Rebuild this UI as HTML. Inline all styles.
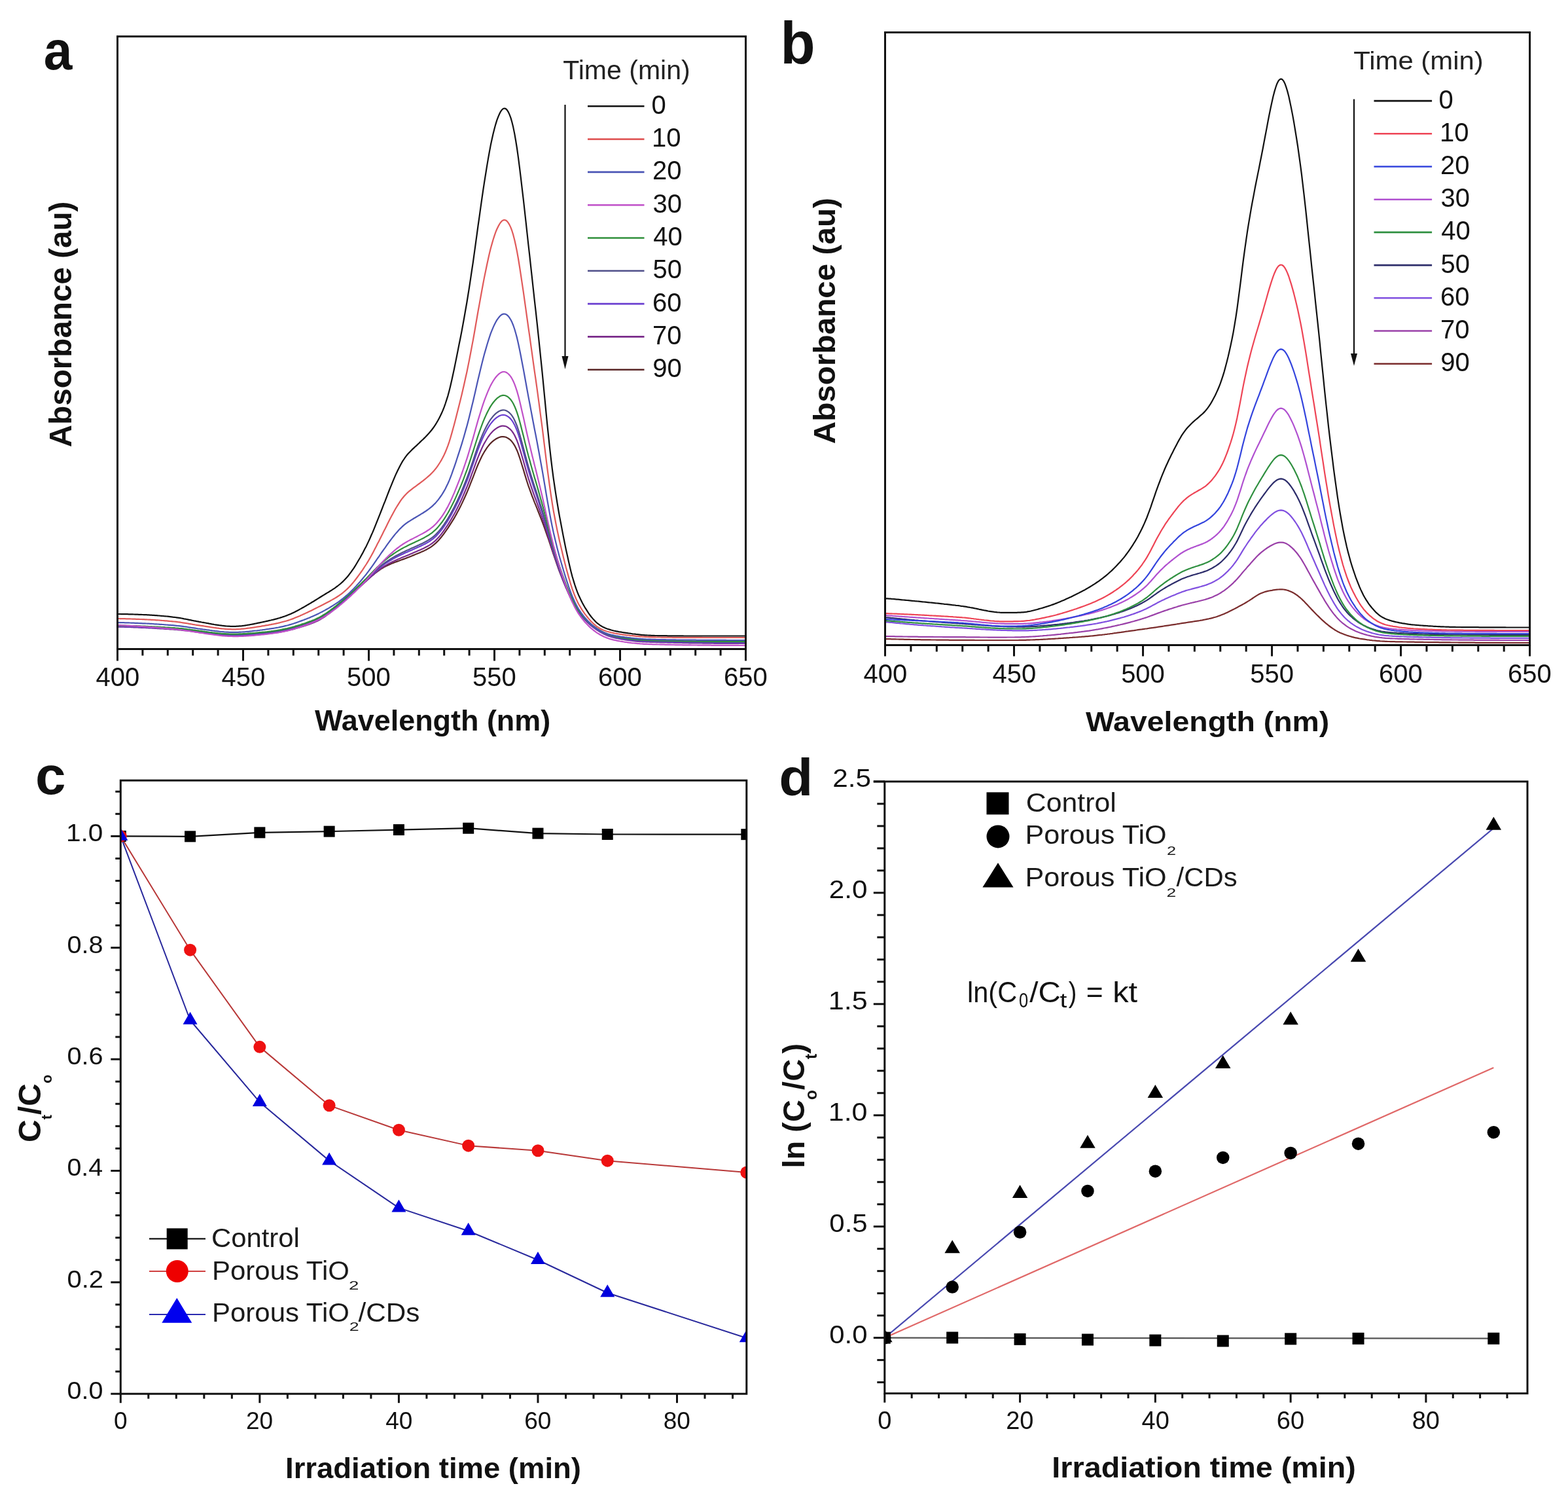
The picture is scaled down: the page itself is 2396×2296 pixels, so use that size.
<!DOCTYPE html>
<html><head><meta charset="utf-8"><title>Figure</title>
<style>html,body{margin:0;padding:0;background:#fff;overflow:hidden}svg{display:block}</style>
</head><body>
<svg width="2396" height="2296" viewBox="0 0 2396 2296" font-family="Liberation Sans, Arial, sans-serif">
<rect width="2396" height="2296" fill="#fff"/>
<defs>
<clipPath id="ca"><rect x="179.5" y="55.7" width="960" height="935.8"/></clipPath>
<clipPath id="cb"><rect x="1352.5" y="49.5" width="985.1" height="936"/></clipPath>
<clipPath id="cc"><rect x="184.3" y="1192.2" width="956.5" height="937"/></clipPath>
<clipPath id="cd"><rect x="1351.8" y="1193.9" width="982.2" height="934.7"/></clipPath>
</defs>
<g clip-path="url(#ca)">
<path d="M179.5,956.5 L181.4,956.6 L183.3,956.6 L185.3,956.6 L187.2,956.7 L189.1,956.7 L191.0,956.8 L192.9,956.8 L194.9,956.9 L196.8,956.9 L198.7,957.0 L200.6,957.0 L202.5,957.1 L204.5,957.2 L206.4,957.3 L208.3,957.3 L210.2,957.4 L212.1,957.5 L214.1,957.6 L216.0,957.6 L217.9,957.7 L219.8,957.8 L221.7,957.9 L223.7,958.0 L225.6,958.1 L227.5,958.2 L229.4,958.3 L231.3,958.4 L233.3,958.5 L235.2,958.6 L237.1,958.7 L239.0,958.8 L240.9,958.9 L242.9,959.0 L244.8,959.1 L246.7,959.2 L248.6,959.3 L250.5,959.4 L252.5,959.5 L254.4,959.7 L256.3,959.8 L258.2,959.9 L260.1,960.0 L262.1,960.1 L264.0,960.3 L265.9,960.4 L267.8,960.5 L269.7,960.7 L271.7,960.8 L273.6,961.0 L275.5,961.1 L277.4,961.3 L279.3,961.5 L281.3,961.7 L283.2,961.9 L285.1,962.1 L287.0,962.3 L288.9,962.6 L290.9,962.8 L292.8,963.1 L294.7,963.3 L296.6,963.6 L298.5,963.8 L300.5,964.1 L302.4,964.3 L304.3,964.6 L306.2,964.9 L308.1,965.1 L310.1,965.4 L312.0,965.7 L313.9,965.9 L315.8,966.2 L317.7,966.4 L319.7,966.7 L321.6,966.9 L323.5,967.2 L325.4,967.4 L327.3,967.6 L329.3,967.8 L331.2,968.0 L333.1,968.2 L335.0,968.4 L336.9,968.6 L338.9,968.7 L340.8,968.8 L342.7,969.0 L344.6,969.1 L346.5,969.2 L348.5,969.3 L350.4,969.3 L352.3,969.4 L354.2,969.4 L356.1,969.4 L358.1,969.4 L360.0,969.4 L361.9,969.4 L363.8,969.4 L365.7,969.3 L367.7,969.3 L369.6,969.2 L371.5,969.1 L373.4,969.1 L375.3,969.0 L377.3,968.9 L379.2,968.8 L381.1,968.7 L383.0,968.5 L384.9,968.4 L386.9,968.3 L388.8,968.2 L390.7,968.0 L392.6,967.9 L394.5,967.7 L396.5,967.6 L398.4,967.4 L400.3,967.3 L402.2,967.1 L404.1,967.0 L406.1,966.8 L408.0,966.6 L409.9,966.4 L411.8,966.2 L413.7,966.0 L415.7,965.8 L417.6,965.6 L419.5,965.3 L421.4,965.1 L423.3,964.8 L425.3,964.5 L427.2,964.2 L429.1,963.9 L431.0,963.5 L432.9,963.2 L434.9,962.8 L436.8,962.4 L438.7,962.0 L440.6,961.6 L442.5,961.1 L444.5,960.7 L446.4,960.2 L448.3,959.7 L450.2,959.2 L452.1,958.7 L454.1,958.2 L456.0,957.7 L457.9,957.1 L459.8,956.6 L461.7,956.0 L463.7,955.4 L465.6,954.8 L467.5,954.2 L469.4,953.6 L471.3,952.9 L473.3,952.3 L475.2,951.6 L477.1,950.9 L479.0,950.1 L480.9,949.4 L482.9,948.5 L484.8,947.6 L486.7,946.7 L488.6,945.7 L490.5,944.6 L492.5,943.4 L494.4,942.2 L496.3,940.9 L498.2,939.6 L500.1,938.2 L502.1,936.7 L504.0,935.2 L505.9,933.7 L507.8,932.1 L509.7,930.5 L511.7,928.9 L513.6,927.2 L515.5,925.6 L517.4,923.9 L519.3,922.2 L521.3,920.4 L523.2,918.7 L525.1,917.0 L527.0,915.3 L528.9,913.6 L530.9,911.8 L532.8,910.2 L534.7,908.5 L536.6,906.8 L538.5,905.2 L540.5,903.6 L542.4,902.0 L544.3,900.4 L546.2,898.7 L548.1,897.1 L550.1,895.5 L552.0,893.8 L553.9,892.2 L555.8,890.5 L557.7,888.8 L559.7,887.1 L561.6,885.4 L563.5,883.8 L565.4,882.1 L567.3,880.5 L569.3,878.8 L571.2,877.3 L573.1,875.7 L575.0,874.3 L576.9,872.8 L578.9,871.5 L580.8,870.2 L582.7,868.9 L584.6,867.8 L586.5,866.6 L588.5,865.6 L590.4,864.6 L592.3,863.7 L594.2,862.8 L596.1,861.9 L598.1,861.1 L600.0,860.3 L601.9,859.6 L603.8,858.8 L605.7,858.1 L607.7,857.4 L609.6,856.7 L611.5,856.0 L613.4,855.3 L615.3,854.6 L617.3,853.9 L619.2,853.2 L621.1,852.4 L623.0,851.7 L624.9,851.0 L626.9,850.2 L628.8,849.4 L630.7,848.6 L632.6,847.9 L634.5,847.1 L636.5,846.3 L638.4,845.5 L640.3,844.7 L642.2,843.9 L644.1,843.1 L646.1,842.2 L648.0,841.4 L649.9,840.4 L651.8,839.5 L653.7,838.4 L655.7,837.3 L657.6,836.1 L659.5,834.8 L661.4,833.4 L663.3,831.9 L665.3,830.2 L667.2,828.4 L669.1,826.5 L671.0,824.4 L672.9,822.2 L674.9,819.8 L676.8,817.4 L678.7,814.8 L680.6,812.1 L682.5,809.4 L684.5,806.6 L686.4,803.7 L688.3,800.7 L690.2,797.7 L692.1,794.6 L694.1,791.4 L696.0,788.0 L697.9,784.6 L699.8,781.0 L701.7,777.4 L703.7,773.6 L705.6,769.6 L707.5,765.6 L709.4,761.5 L711.3,757.2 L713.3,752.8 L715.2,748.2 L717.1,743.6 L719.0,738.7 L720.9,733.8 L722.9,728.8 L724.8,723.8 L726.7,718.9 L728.6,714.1 L730.5,709.5 L732.5,705.1 L734.4,701.0 L736.3,697.1 L738.2,693.5 L740.1,690.2 L742.1,687.1 L744.0,684.2 L745.9,681.6 L747.8,679.2 L749.7,677.1 L751.7,675.2 L753.6,673.6 L755.5,672.1 L757.4,670.8 L759.3,669.7 L761.3,668.7 L763.2,668.0 L765.1,667.4 L767.0,667.1 L768.9,667.1 L770.9,667.3 L772.8,667.8 L774.7,668.6 L776.6,669.7 L778.5,671.0 L780.5,672.7 L782.4,674.8 L784.3,677.3 L786.2,680.3 L788.1,684.0 L790.1,688.2 L792.0,693.1 L793.9,698.6 L795.8,704.5 L797.7,710.8 L799.7,717.2 L801.6,723.6 L803.5,729.9 L805.4,736.0 L807.3,741.8 L809.3,747.3 L811.2,752.6 L813.1,757.8 L815.0,762.7 L816.9,767.6 L818.9,772.4 L820.8,777.2 L822.7,782.0 L824.6,786.8 L826.5,791.7 L828.5,796.8 L830.4,801.9 L832.3,807.2 L834.2,812.6 L836.1,818.1 L838.1,823.7 L840.0,829.4 L841.9,835.2 L843.8,841.0 L845.7,846.7 L847.7,852.4 L849.6,858.0 L851.5,863.5 L853.4,868.8 L855.3,873.9 L857.3,878.9 L859.2,883.8 L861.1,888.5 L863.0,893.1 L864.9,897.6 L866.9,902.0 L868.8,906.2 L870.7,910.3 L872.6,914.2 L874.5,918.0 L876.5,921.5 L878.4,924.8 L880.3,927.9 L882.2,930.9 L884.1,933.6 L886.1,936.1 L888.0,938.6 L889.9,940.8 L891.8,943.0 L893.7,945.0 L895.7,947.0 L897.6,948.8 L899.5,950.6 L901.4,952.2 L903.3,953.8 L905.3,955.3 L907.2,956.8 L909.1,958.2 L911.0,959.5 L912.9,960.8 L914.9,962.0 L916.8,963.1 L918.7,964.3 L920.6,965.3 L922.5,966.3 L924.5,967.2 L926.4,968.1 L928.3,968.9 L930.2,969.6 L932.1,970.2 L934.1,970.8 L936.0,971.4 L937.9,971.8 L939.8,972.3 L941.7,972.7 L943.7,973.1 L945.6,973.5 L947.5,973.9 L949.4,974.3 L951.3,974.6 L953.3,975.0 L955.2,975.3 L957.1,975.6 L959.0,975.9 L960.9,976.2 L962.9,976.4 L964.8,976.7 L966.7,976.9 L968.6,977.2 L970.5,977.4 L972.5,977.5 L974.4,977.7 L976.3,977.9 L978.2,978.0 L980.1,978.1 L982.1,978.3 L984.0,978.4 L985.9,978.5 L987.8,978.5 L989.7,978.6 L991.7,978.7 L993.6,978.7 L995.5,978.8 L997.4,978.9 L999.3,978.9 L1001.3,979.0 L1003.2,979.0 L1005.1,979.1 L1007.0,979.1 L1008.9,979.2 L1010.9,979.3 L1012.8,979.3 L1014.7,979.4 L1016.6,979.4 L1018.5,979.5 L1020.5,979.5 L1022.4,979.6 L1024.3,979.6 L1026.2,979.7 L1028.1,979.7 L1030.1,979.7 L1032.0,979.8 L1033.9,979.8 L1035.8,979.9 L1037.7,979.9 L1039.7,980.0 L1041.6,980.0 L1043.5,980.0 L1045.4,980.1 L1047.3,980.1 L1049.3,980.2 L1051.2,980.2 L1053.1,980.2 L1055.0,980.3 L1056.9,980.3 L1058.9,980.3 L1060.8,980.4 L1062.7,980.4 L1064.6,980.4 L1066.5,980.5 L1068.5,980.5 L1070.4,980.5 L1072.3,980.5 L1074.2,980.6 L1076.1,980.6 L1078.1,980.6 L1080.0,980.6 L1081.9,980.7 L1083.8,980.7 L1085.7,980.7 L1087.7,980.7 L1089.6,980.7 L1091.5,980.8 L1093.4,980.8 L1095.3,980.8 L1097.3,980.8 L1099.2,980.8 L1101.1,980.8 L1103.0,980.9 L1104.9,980.9 L1106.9,980.9 L1108.8,980.9 L1110.7,980.9 L1112.6,980.9 L1114.5,980.9 L1116.5,980.9 L1118.4,981.0 L1120.3,981.0 L1122.2,981.0 L1124.1,981.0 L1126.1,981.0 L1128.0,981.0 L1129.9,981.0 L1131.8,981.0 L1133.7,981.0 L1135.7,981.0 L1137.6,981.0 L1139.5,981.0" fill="none" stroke="#5a2626" stroke-width="2.2" stroke-linejoin="round"/>
<path d="M179.5,957.5 L181.4,957.6 L183.3,957.6 L185.3,957.6 L187.2,957.7 L189.1,957.7 L191.0,957.8 L192.9,957.9 L194.9,957.9 L196.8,958.0 L198.7,958.0 L200.6,958.1 L202.5,958.2 L204.5,958.3 L206.4,958.3 L208.3,958.4 L210.2,958.5 L212.1,958.6 L214.1,958.7 L216.0,958.8 L217.9,958.8 L219.8,958.9 L221.7,959.0 L223.7,959.1 L225.6,959.2 L227.5,959.3 L229.4,959.4 L231.3,959.5 L233.3,959.6 L235.2,959.7 L237.1,959.8 L239.0,960.0 L240.9,960.1 L242.9,960.2 L244.8,960.3 L246.7,960.4 L248.6,960.5 L250.5,960.7 L252.5,960.8 L254.4,960.9 L256.3,961.0 L258.2,961.1 L260.1,961.3 L262.1,961.4 L264.0,961.5 L265.9,961.7 L267.8,961.8 L269.7,962.0 L271.7,962.1 L273.6,962.3 L275.5,962.5 L277.4,962.6 L279.3,962.8 L281.3,963.1 L283.2,963.3 L285.1,963.5 L287.0,963.7 L288.9,964.0 L290.9,964.2 L292.8,964.5 L294.7,964.7 L296.6,965.0 L298.5,965.3 L300.5,965.5 L302.4,965.8 L304.3,966.1 L306.2,966.3 L308.1,966.6 L310.1,966.9 L312.0,967.2 L313.9,967.4 L315.8,967.7 L317.7,967.9 L319.7,968.2 L321.6,968.4 L323.5,968.7 L325.4,968.9 L327.3,969.1 L329.3,969.4 L331.2,969.6 L333.1,969.8 L335.0,970.0 L336.9,970.1 L338.9,970.3 L340.8,970.4 L342.7,970.6 L344.6,970.7 L346.5,970.8 L348.5,970.9 L350.4,970.9 L352.3,971.0 L354.2,971.0 L356.1,971.1 L358.1,971.1 L360.0,971.0 L361.9,971.0 L363.8,971.0 L365.7,970.9 L367.7,970.9 L369.6,970.8 L371.5,970.8 L373.4,970.7 L375.3,970.6 L377.3,970.5 L379.2,970.4 L381.1,970.3 L383.0,970.1 L384.9,970.0 L386.9,969.9 L388.8,969.7 L390.7,969.6 L392.6,969.4 L394.5,969.3 L396.5,969.1 L398.4,969.0 L400.3,968.8 L402.2,968.6 L404.1,968.5 L406.1,968.3 L408.0,968.1 L409.9,967.9 L411.8,967.7 L413.7,967.5 L415.7,967.3 L417.6,967.0 L419.5,966.8 L421.4,966.5 L423.3,966.2 L425.3,965.9 L427.2,965.6 L429.1,965.3 L431.0,964.9 L432.9,964.6 L434.9,964.2 L436.8,963.8 L438.7,963.4 L440.6,962.9 L442.5,962.5 L444.5,962.0 L446.4,961.6 L448.3,961.1 L450.2,960.6 L452.1,960.0 L454.1,959.5 L456.0,958.9 L457.9,958.4 L459.8,957.8 L461.7,957.2 L463.7,956.6 L465.6,956.0 L467.5,955.4 L469.4,954.7 L471.3,954.1 L473.3,953.4 L475.2,952.7 L477.1,952.0 L479.0,951.2 L480.9,950.4 L482.9,949.6 L484.8,948.7 L486.7,947.7 L488.6,946.7 L490.5,945.6 L492.5,944.4 L494.4,943.2 L496.3,942.0 L498.2,940.6 L500.1,939.2 L502.1,937.8 L504.0,936.3 L505.9,934.8 L507.8,933.3 L509.7,931.7 L511.7,930.1 L513.6,928.4 L515.5,926.8 L517.4,925.1 L519.3,923.4 L521.3,921.7 L523.2,920.0 L525.1,918.3 L527.0,916.5 L528.9,914.8 L530.9,913.1 L532.8,911.4 L534.7,909.7 L536.6,908.0 L538.5,906.3 L540.5,904.7 L542.4,903.0 L544.3,901.3 L546.2,899.7 L548.1,898.0 L550.1,896.3 L552.0,894.6 L553.9,892.9 L555.8,891.1 L557.7,889.4 L559.7,887.6 L561.6,885.8 L563.5,884.1 L565.4,882.3 L567.3,880.6 L569.3,878.8 L571.2,877.2 L573.1,875.5 L575.0,873.9 L576.9,872.3 L578.9,870.8 L580.8,869.4 L582.7,868.0 L584.6,866.7 L586.5,865.5 L588.5,864.3 L590.4,863.1 L592.3,862.0 L594.2,861.0 L596.1,860.0 L598.1,859.0 L600.0,858.1 L601.9,857.2 L603.8,856.3 L605.7,855.4 L607.7,854.6 L609.6,853.8 L611.5,852.9 L613.4,852.1 L615.3,851.3 L617.3,850.5 L619.2,849.8 L621.1,849.0 L623.0,848.2 L624.9,847.4 L626.9,846.6 L628.8,845.7 L630.7,844.9 L632.6,844.1 L634.5,843.3 L636.5,842.5 L638.4,841.6 L640.3,840.8 L642.2,840.0 L644.1,839.1 L646.1,838.2 L648.0,837.3 L649.9,836.3 L651.8,835.3 L653.7,834.3 L655.7,833.1 L657.6,831.9 L659.5,830.6 L661.4,829.1 L663.3,827.6 L665.3,825.9 L667.2,824.0 L669.1,822.0 L671.0,819.9 L672.9,817.6 L674.9,815.2 L676.8,812.6 L678.7,810.0 L680.6,807.2 L682.5,804.4 L684.5,801.4 L686.4,798.4 L688.3,795.2 L690.2,792.0 L692.1,788.7 L694.1,785.2 L696.0,781.7 L697.9,778.0 L699.8,774.3 L701.7,770.4 L703.7,766.3 L705.6,762.2 L707.5,757.9 L709.4,753.5 L711.3,749.0 L713.3,744.3 L715.2,739.5 L717.1,734.6 L719.0,729.5 L720.9,724.2 L722.9,718.9 L724.8,713.6 L726.7,708.4 L728.6,703.2 L730.5,698.3 L732.5,693.5 L734.4,689.0 L736.3,684.8 L738.2,680.8 L740.1,677.1 L742.1,673.7 L744.0,670.5 L745.9,667.5 L747.8,664.9 L749.7,662.4 L751.7,660.3 L753.6,658.3 L755.5,656.6 L757.4,655.1 L759.3,653.8 L761.3,652.7 L763.2,651.8 L765.1,651.1 L767.0,650.7 L768.9,650.6 L770.9,650.8 L772.8,651.3 L774.7,652.1 L776.6,653.3 L778.5,654.8 L780.5,656.6 L782.4,658.8 L784.3,661.5 L786.2,664.8 L788.1,668.7 L790.1,673.3 L792.0,678.5 L793.9,684.3 L795.8,690.6 L797.7,697.2 L799.7,704.0 L801.6,710.8 L803.5,717.5 L805.4,724.0 L807.3,730.3 L809.3,736.3 L811.2,742.1 L813.1,747.7 L815.0,753.1 L816.9,758.4 L818.9,763.7 L820.8,769.0 L822.7,774.3 L824.6,779.7 L826.5,785.1 L828.5,790.6 L830.4,796.3 L832.3,802.2 L834.2,808.1 L836.1,814.2 L838.1,820.3 L840.0,826.5 L841.9,832.7 L843.8,838.8 L845.7,844.9 L847.7,850.9 L849.6,856.7 L851.5,862.4 L853.4,867.9 L855.3,873.3 L857.3,878.5 L859.2,883.5 L861.1,888.4 L863.0,893.2 L864.9,897.9 L866.9,902.4 L868.8,906.8 L870.7,911.1 L872.6,915.2 L874.5,919.0 L876.5,922.7 L878.4,926.1 L880.3,929.3 L882.2,932.3 L884.1,935.1 L886.1,937.7 L888.0,940.2 L889.9,942.5 L891.8,944.7 L893.7,946.8 L895.7,948.8 L897.6,950.7 L899.5,952.5 L901.4,954.2 L903.3,955.8 L905.3,957.3 L907.2,958.8 L909.1,960.2 L911.0,961.6 L912.9,962.8 L914.9,964.1 L916.8,965.2 L918.7,966.3 L920.6,967.4 L922.5,968.4 L924.5,969.3 L926.4,970.2 L928.3,970.9 L930.2,971.7 L932.1,972.3 L934.1,972.9 L936.0,973.4 L937.9,973.9 L939.8,974.4 L941.7,974.8 L943.7,975.2 L945.6,975.6 L947.5,976.0 L949.4,976.3 L951.3,976.7 L953.3,977.0 L955.2,977.3 L957.1,977.6 L959.0,977.9 L960.9,978.2 L962.9,978.5 L964.8,978.7 L966.7,979.0 L968.6,979.2 L970.5,979.4 L972.5,979.6 L974.4,979.8 L976.3,979.9 L978.2,980.1 L980.1,980.2 L982.1,980.3 L984.0,980.4 L985.9,980.5 L987.8,980.6 L989.7,980.7 L991.7,980.7 L993.6,980.8 L995.5,980.9 L997.4,980.9 L999.3,981.0 L1001.3,981.0 L1003.2,981.1 L1005.1,981.1 L1007.0,981.2 L1008.9,981.3 L1010.9,981.3 L1012.8,981.4 L1014.7,981.4 L1016.6,981.5 L1018.5,981.5 L1020.5,981.6 L1022.4,981.6 L1024.3,981.7 L1026.2,981.7 L1028.1,981.7 L1030.1,981.8 L1032.0,981.8 L1033.9,981.9 L1035.8,981.9 L1037.7,982.0 L1039.7,982.0 L1041.6,982.0 L1043.5,982.1 L1045.4,982.1 L1047.3,982.1 L1049.3,982.2 L1051.2,982.2 L1053.1,982.3 L1055.0,982.3 L1056.9,982.3 L1058.9,982.3 L1060.8,982.4 L1062.7,982.4 L1064.6,982.4 L1066.5,982.5 L1068.5,982.5 L1070.4,982.5 L1072.3,982.5 L1074.2,982.6 L1076.1,982.6 L1078.1,982.6 L1080.0,982.6 L1081.9,982.7 L1083.8,982.7 L1085.7,982.7 L1087.7,982.7 L1089.6,982.7 L1091.5,982.8 L1093.4,982.8 L1095.3,982.8 L1097.3,982.8 L1099.2,982.8 L1101.1,982.8 L1103.0,982.9 L1104.9,982.9 L1106.9,982.9 L1108.8,982.9 L1110.7,982.9 L1112.6,982.9 L1114.5,982.9 L1116.5,982.9 L1118.4,982.9 L1120.3,983.0 L1122.2,983.0 L1124.1,983.0 L1126.1,983.0 L1128.0,983.0 L1129.9,983.0 L1131.8,983.0 L1133.7,983.0 L1135.7,983.0 L1137.6,983.0 L1139.5,983.0" fill="none" stroke="#7a2a8a" stroke-width="2.2" stroke-linejoin="round"/>
<path d="M179.5,957.0 L181.4,957.1 L183.3,957.1 L185.3,957.1 L187.2,957.2 L189.1,957.2 L191.0,957.3 L192.9,957.3 L194.9,957.4 L196.8,957.4 L198.7,957.5 L200.6,957.5 L202.5,957.6 L204.5,957.7 L206.4,957.7 L208.3,957.8 L210.2,957.9 L212.1,958.0 L214.1,958.1 L216.0,958.1 L217.9,958.2 L219.8,958.3 L221.7,958.4 L223.7,958.5 L225.6,958.6 L227.5,958.7 L229.4,958.8 L231.3,958.9 L233.3,959.0 L235.2,959.1 L237.1,959.2 L239.0,959.3 L240.9,959.4 L242.9,959.5 L244.8,959.6 L246.7,959.7 L248.6,959.8 L250.5,960.0 L252.5,960.1 L254.4,960.2 L256.3,960.3 L258.2,960.4 L260.1,960.6 L262.1,960.7 L264.0,960.8 L265.9,961.0 L267.8,961.1 L269.7,961.2 L271.7,961.4 L273.6,961.6 L275.5,961.7 L277.4,961.9 L279.3,962.1 L281.3,962.3 L283.2,962.6 L285.1,962.8 L287.0,963.0 L288.9,963.3 L290.9,963.5 L292.8,963.8 L294.7,964.0 L296.6,964.3 L298.5,964.6 L300.5,964.8 L302.4,965.1 L304.3,965.4 L306.2,965.6 L308.1,965.9 L310.1,966.2 L312.0,966.4 L313.9,966.7 L315.8,967.0 L317.7,967.2 L319.7,967.5 L321.6,967.7 L323.5,967.9 L325.4,968.2 L327.3,968.4 L329.3,968.6 L331.2,968.8 L333.1,969.0 L335.0,969.2 L336.9,969.4 L338.9,969.5 L340.8,969.7 L342.7,969.8 L344.6,969.9 L346.5,970.0 L348.5,970.1 L350.4,970.2 L352.3,970.2 L354.2,970.3 L356.1,970.3 L358.1,970.3 L360.0,970.3 L361.9,970.3 L363.8,970.2 L365.7,970.2 L367.7,970.1 L369.6,970.0 L371.5,970.0 L373.4,969.9 L375.3,969.8 L377.3,969.7 L379.2,969.5 L381.1,969.4 L383.0,969.3 L384.9,969.2 L386.9,969.0 L388.8,968.9 L390.7,968.7 L392.6,968.5 L394.5,968.4 L396.5,968.2 L398.4,968.0 L400.3,967.9 L402.2,967.7 L404.1,967.5 L406.1,967.3 L408.0,967.1 L409.9,966.9 L411.8,966.7 L413.7,966.5 L415.7,966.3 L417.6,966.0 L419.5,965.8 L421.4,965.5 L423.3,965.2 L425.3,964.9 L427.2,964.6 L429.1,964.2 L431.0,963.9 L432.9,963.5 L434.9,963.1 L436.8,962.7 L438.7,962.3 L440.6,961.8 L442.5,961.4 L444.5,960.9 L446.4,960.4 L448.3,959.9 L450.2,959.4 L452.1,958.8 L454.1,958.3 L456.0,957.7 L457.9,957.1 L459.8,956.6 L461.7,956.0 L463.7,955.3 L465.6,954.7 L467.5,954.1 L469.4,953.4 L471.3,952.7 L473.3,952.1 L475.2,951.3 L477.1,950.6 L479.0,949.9 L480.9,949.0 L482.9,948.2 L484.8,947.3 L486.7,946.3 L488.6,945.3 L490.5,944.2 L492.5,943.1 L494.4,941.9 L496.3,940.7 L498.2,939.4 L500.1,938.0 L502.1,936.6 L504.0,935.2 L505.9,933.7 L507.8,932.2 L509.7,930.6 L511.7,929.0 L513.6,927.4 L515.5,925.8 L517.4,924.2 L519.3,922.5 L521.3,920.8 L523.2,919.1 L525.1,917.4 L527.0,915.7 L528.9,914.0 L530.9,912.3 L532.8,910.5 L534.7,908.8 L536.6,907.1 L538.5,905.4 L540.5,903.7 L542.4,902.1 L544.3,900.4 L546.2,898.6 L548.1,896.9 L550.1,895.2 L552.0,893.4 L553.9,891.6 L555.8,889.8 L557.7,888.0 L559.7,886.2 L561.6,884.4 L563.5,882.5 L565.4,880.7 L567.3,878.8 L569.3,877.0 L571.2,875.2 L573.1,873.5 L575.0,871.8 L576.9,870.1 L578.9,868.5 L580.8,866.9 L582.7,865.4 L584.6,863.9 L586.5,862.5 L588.5,861.2 L590.4,859.9 L592.3,858.7 L594.2,857.5 L596.1,856.3 L598.1,855.2 L600.0,854.1 L601.9,853.1 L603.8,852.0 L605.7,851.0 L607.7,850.1 L609.6,849.1 L611.5,848.2 L613.4,847.3 L615.3,846.4 L617.3,845.5 L619.2,844.6 L621.1,843.8 L623.0,842.9 L624.9,842.1 L626.9,841.2 L628.8,840.4 L630.7,839.5 L632.6,838.7 L634.5,837.8 L636.5,837.0 L638.4,836.1 L640.3,835.3 L642.2,834.4 L644.1,833.5 L646.1,832.6 L648.0,831.6 L649.9,830.7 L651.8,829.6 L653.7,828.5 L655.7,827.4 L657.6,826.1 L659.5,824.7 L661.4,823.3 L663.3,821.7 L665.3,819.9 L667.2,818.1 L669.1,816.0 L671.0,813.9 L672.9,811.6 L674.9,809.1 L676.8,806.5 L678.7,803.8 L680.6,801.0 L682.5,798.1 L684.5,795.0 L686.4,791.8 L688.3,788.5 L690.2,785.1 L692.1,781.6 L694.1,778.0 L696.0,774.2 L697.9,770.3 L699.8,766.4 L701.7,762.3 L703.7,758.1 L705.6,753.7 L707.5,749.3 L709.4,744.7 L711.3,739.9 L713.3,735.0 L715.2,730.0 L717.1,724.8 L719.0,719.4 L720.9,714.0 L722.9,708.4 L724.8,702.8 L726.7,697.2 L728.6,691.8 L730.5,686.5 L732.5,681.4 L734.4,676.6 L736.3,672.0 L738.2,667.7 L740.1,663.7 L742.1,659.9 L744.0,656.4 L745.9,653.1 L747.8,650.1 L749.7,647.4 L751.7,645.0 L753.6,642.8 L755.5,640.8 L757.4,639.1 L759.3,637.6 L761.3,636.3 L763.2,635.3 L765.1,634.5 L767.0,634.0 L768.9,633.8 L770.9,634.0 L772.8,634.5 L774.7,635.4 L776.6,636.6 L778.5,638.1 L780.5,640.1 L782.4,642.5 L784.3,645.4 L786.2,648.9 L788.1,653.0 L790.1,657.8 L792.0,663.3 L793.9,669.5 L795.8,676.1 L797.7,683.0 L799.7,690.2 L801.6,697.3 L803.5,704.4 L805.4,711.3 L807.3,717.9 L809.3,724.3 L811.2,730.5 L813.1,736.5 L815.0,742.4 L816.9,748.2 L818.9,753.9 L820.8,759.7 L822.7,765.4 L824.6,771.3 L826.5,777.2 L828.5,783.2 L830.4,789.4 L832.3,795.8 L834.2,802.3 L836.1,808.8 L838.1,815.4 L840.0,822.0 L841.9,828.6 L843.8,835.1 L845.7,841.4 L847.7,847.6 L849.6,853.7 L851.5,859.5 L853.4,865.2 L855.3,870.7 L857.3,876.1 L859.2,881.3 L861.1,886.3 L863.0,891.3 L864.9,896.1 L866.9,900.8 L868.8,905.3 L870.7,909.6 L872.6,913.8 L874.5,917.8 L876.5,921.5 L878.4,925.0 L880.3,928.3 L882.2,931.3 L884.1,934.2 L886.1,936.8 L888.0,939.3 L889.9,941.7 L891.8,943.9 L893.7,946.0 L895.7,948.0 L897.6,949.9 L899.5,951.7 L901.4,953.5 L903.3,955.1 L905.3,956.7 L907.2,958.1 L909.1,959.5 L911.0,960.9 L912.9,962.2 L914.9,963.4 L916.8,964.5 L918.7,965.7 L920.6,966.7 L922.5,967.7 L924.5,968.6 L926.4,969.4 L928.3,970.2 L930.2,970.9 L932.1,971.5 L934.1,972.1 L936.0,972.6 L937.9,973.1 L939.8,973.5 L941.7,974.0 L943.7,974.4 L945.6,974.7 L947.5,975.1 L949.4,975.5 L951.3,975.8 L953.3,976.1 L955.2,976.5 L957.1,976.8 L959.0,977.0 L960.9,977.3 L962.9,977.6 L964.8,977.8 L966.7,978.1 L968.6,978.3 L970.5,978.5 L972.5,978.7 L974.4,978.9 L976.3,979.0 L978.2,979.2 L980.1,979.3 L982.1,979.4 L984.0,979.5 L985.9,979.6 L987.8,979.7 L989.7,979.8 L991.7,979.8 L993.6,979.9 L995.5,980.0 L997.4,980.0 L999.3,980.1 L1001.3,980.1 L1003.2,980.2 L1005.1,980.2 L1007.0,980.3 L1008.9,980.3 L1010.9,980.4 L1012.8,980.4 L1014.7,980.5 L1016.6,980.5 L1018.5,980.6 L1020.5,980.6 L1022.4,980.7 L1024.3,980.7 L1026.2,980.8 L1028.1,980.8 L1030.1,980.9 L1032.0,980.9 L1033.9,980.9 L1035.8,981.0 L1037.7,981.0 L1039.7,981.1 L1041.6,981.1 L1043.5,981.1 L1045.4,981.2 L1047.3,981.2 L1049.3,981.2 L1051.2,981.3 L1053.1,981.3 L1055.0,981.3 L1056.9,981.4 L1058.9,981.4 L1060.8,981.4 L1062.7,981.4 L1064.6,981.5 L1066.5,981.5 L1068.5,981.5 L1070.4,981.6 L1072.3,981.6 L1074.2,981.6 L1076.1,981.6 L1078.1,981.6 L1080.0,981.7 L1081.9,981.7 L1083.8,981.7 L1085.7,981.7 L1087.7,981.7 L1089.6,981.8 L1091.5,981.8 L1093.4,981.8 L1095.3,981.8 L1097.3,981.8 L1099.2,981.8 L1101.1,981.9 L1103.0,981.9 L1104.9,981.9 L1106.9,981.9 L1108.8,981.9 L1110.7,981.9 L1112.6,981.9 L1114.5,981.9 L1116.5,981.9 L1118.4,982.0 L1120.3,982.0 L1122.2,982.0 L1124.1,982.0 L1126.1,982.0 L1128.0,982.0 L1129.9,982.0 L1131.8,982.0 L1133.7,982.0 L1135.7,982.0 L1137.6,982.0 L1139.5,982.0" fill="none" stroke="#6a3ed0" stroke-width="2.2" stroke-linejoin="round"/>
<path d="M179.5,956.0 L181.4,956.1 L183.3,956.1 L185.3,956.1 L187.2,956.2 L189.1,956.2 L191.0,956.3 L192.9,956.3 L194.9,956.4 L196.8,956.4 L198.7,956.5 L200.6,956.5 L202.5,956.6 L204.5,956.7 L206.4,956.7 L208.3,956.8 L210.2,956.9 L212.1,957.0 L214.1,957.0 L216.0,957.1 L217.9,957.2 L219.8,957.3 L221.7,957.4 L223.7,957.5 L225.6,957.6 L227.5,957.7 L229.4,957.8 L231.3,957.9 L233.3,958.0 L235.2,958.1 L237.1,958.2 L239.0,958.3 L240.9,958.4 L242.9,958.5 L244.8,958.6 L246.7,958.7 L248.6,958.8 L250.5,959.0 L252.5,959.1 L254.4,959.2 L256.3,959.3 L258.2,959.4 L260.1,959.6 L262.1,959.7 L264.0,959.8 L265.9,960.0 L267.8,960.1 L269.7,960.2 L271.7,960.4 L273.6,960.6 L275.5,960.8 L277.4,960.9 L279.3,961.1 L281.3,961.4 L283.2,961.6 L285.1,961.8 L287.0,962.0 L288.9,962.3 L290.9,962.5 L292.8,962.8 L294.7,963.1 L296.6,963.3 L298.5,963.6 L300.5,963.8 L302.4,964.1 L304.3,964.4 L306.2,964.6 L308.1,964.9 L310.1,965.2 L312.0,965.4 L313.9,965.7 L315.8,966.0 L317.7,966.2 L319.7,966.5 L321.6,966.7 L323.5,967.0 L325.4,967.2 L327.3,967.4 L329.3,967.6 L331.2,967.8 L333.1,968.0 L335.0,968.2 L336.9,968.4 L338.9,968.6 L340.8,968.7 L342.7,968.8 L344.6,969.0 L346.5,969.1 L348.5,969.2 L350.4,969.2 L352.3,969.3 L354.2,969.3 L356.1,969.3 L358.1,969.3 L360.0,969.3 L361.9,969.3 L363.8,969.2 L365.7,969.2 L367.7,969.1 L369.6,969.1 L371.5,969.0 L373.4,968.9 L375.3,968.8 L377.3,968.7 L379.2,968.5 L381.1,968.4 L383.0,968.3 L384.9,968.1 L386.9,968.0 L388.8,967.8 L390.7,967.7 L392.6,967.5 L394.5,967.4 L396.5,967.2 L398.4,967.0 L400.3,966.8 L402.2,966.7 L404.1,966.5 L406.1,966.3 L408.0,966.1 L409.9,965.9 L411.8,965.7 L413.7,965.4 L415.7,965.2 L417.6,965.0 L419.5,964.7 L421.4,964.4 L423.3,964.1 L425.3,963.8 L427.2,963.5 L429.1,963.1 L431.0,962.8 L432.9,962.4 L434.9,962.0 L436.8,961.6 L438.7,961.2 L440.6,960.7 L442.5,960.3 L444.5,959.8 L446.4,959.3 L448.3,958.8 L450.2,958.3 L452.1,957.7 L454.1,957.2 L456.0,956.6 L457.9,956.0 L459.8,955.4 L461.7,954.8 L463.7,954.2 L465.6,953.6 L467.5,952.9 L469.4,952.3 L471.3,951.6 L473.3,950.9 L475.2,950.2 L477.1,949.5 L479.0,948.7 L480.9,947.9 L482.9,947.0 L484.8,946.1 L486.7,945.2 L488.6,944.2 L490.5,943.1 L492.5,942.0 L494.4,940.8 L496.3,939.5 L498.2,938.3 L500.1,936.9 L502.1,935.5 L504.0,934.1 L505.9,932.7 L507.8,931.2 L509.7,929.6 L511.7,928.1 L513.6,926.5 L515.5,924.9 L517.4,923.2 L519.3,921.6 L521.3,919.9 L523.2,918.2 L525.1,916.5 L527.0,914.8 L528.9,913.1 L530.9,911.4 L532.8,909.7 L534.7,908.0 L536.6,906.3 L538.5,904.6 L540.5,902.9 L542.4,901.2 L544.3,899.5 L546.2,897.8 L548.1,896.0 L550.1,894.3 L552.0,892.5 L553.9,890.7 L555.8,888.9 L557.7,887.0 L559.7,885.2 L561.6,883.3 L563.5,881.4 L565.4,879.5 L567.3,877.7 L569.3,875.8 L571.2,874.0 L573.1,872.2 L575.0,870.4 L576.9,868.7 L578.9,867.0 L580.8,865.4 L582.7,863.8 L584.6,862.3 L586.5,860.9 L588.5,859.5 L590.4,858.1 L592.3,856.8 L594.2,855.6 L596.1,854.3 L598.1,853.1 L600.0,852.0 L601.9,850.9 L603.8,849.8 L605.7,848.7 L607.7,847.7 L609.6,846.7 L611.5,845.7 L613.4,844.8 L615.3,843.8 L617.3,842.9 L619.2,842.0 L621.1,841.1 L623.0,840.3 L624.9,839.4 L626.9,838.5 L628.8,837.6 L630.7,836.8 L632.6,835.9 L634.5,835.1 L636.5,834.2 L638.4,833.3 L640.3,832.5 L642.2,831.6 L644.1,830.7 L646.1,829.8 L648.0,828.8 L649.9,827.8 L651.8,826.7 L653.7,825.6 L655.7,824.5 L657.6,823.2 L659.5,821.8 L661.4,820.4 L663.3,818.8 L665.3,817.0 L667.2,815.1 L669.1,813.1 L671.0,810.9 L672.9,808.6 L674.9,806.1 L676.8,803.5 L678.7,800.8 L680.6,797.9 L682.5,795.0 L684.5,791.9 L686.4,788.6 L688.3,785.3 L690.2,781.8 L692.1,778.2 L694.1,774.5 L696.0,770.6 L697.9,766.7 L699.8,762.6 L701.7,758.5 L703.7,754.2 L705.6,749.8 L707.5,745.2 L709.4,740.5 L711.3,735.7 L713.3,730.7 L715.2,725.6 L717.1,720.3 L719.0,714.8 L720.9,709.3 L722.9,703.6 L724.8,697.9 L726.7,692.2 L728.6,686.6 L730.5,681.2 L732.5,676.0 L734.4,671.0 L736.3,666.3 L738.2,661.9 L740.1,657.7 L742.1,653.7 L744.0,650.1 L745.9,646.7 L747.8,643.5 L749.7,640.7 L751.7,638.1 L753.6,635.8 L755.5,633.8 L757.4,631.9 L759.3,630.4 L761.3,629.0 L763.2,627.9 L765.1,627.1 L767.0,626.6 L768.9,626.4 L770.9,626.5 L772.8,627.0 L774.7,627.9 L776.6,629.1 L778.5,630.7 L780.5,632.7 L782.4,635.2 L784.3,638.1 L786.2,641.7 L788.1,646.0 L790.1,650.9 L792.0,656.5 L793.9,662.8 L795.8,669.5 L797.7,676.6 L799.7,683.9 L801.6,691.2 L803.5,698.4 L805.4,705.4 L807.3,712.2 L809.3,718.8 L811.2,725.2 L813.1,731.4 L815.0,737.5 L816.9,743.5 L818.9,749.4 L820.8,755.3 L822.7,761.3 L824.6,767.3 L826.5,773.4 L828.5,779.7 L830.4,786.1 L832.3,792.7 L834.2,799.4 L836.1,806.2 L838.1,813.0 L840.0,819.8 L841.9,826.5 L843.8,833.1 L845.7,839.5 L847.7,845.9 L849.6,852.0 L851.5,857.9 L853.4,863.7 L855.3,869.3 L857.3,874.7 L859.2,879.9 L861.1,885.0 L863.0,890.0 L864.9,894.9 L866.9,899.6 L868.8,904.2 L870.7,908.6 L872.6,912.8 L874.5,916.8 L876.5,920.5 L878.4,924.1 L880.3,927.4 L882.2,930.4 L884.1,933.3 L886.1,935.9 L888.0,938.4 L889.9,940.8 L891.8,943.0 L893.7,945.1 L895.7,947.2 L897.6,949.1 L899.5,950.9 L901.4,952.6 L903.3,954.3 L905.3,955.8 L907.2,957.3 L909.1,958.7 L911.0,960.1 L912.9,961.3 L914.9,962.6 L916.8,963.7 L918.7,964.8 L920.6,965.8 L922.5,966.8 L924.5,967.7 L926.4,968.5 L928.3,969.3 L930.2,970.0 L932.1,970.6 L934.1,971.2 L936.0,971.7 L937.9,972.2 L939.8,972.6 L941.7,973.0 L943.7,973.4 L945.6,973.8 L947.5,974.2 L949.4,974.5 L951.3,974.9 L953.3,975.2 L955.2,975.5 L957.1,975.8 L959.0,976.1 L960.9,976.4 L962.9,976.6 L964.8,976.9 L966.7,977.1 L968.6,977.3 L970.5,977.5 L972.5,977.7 L974.4,977.9 L976.3,978.1 L978.2,978.2 L980.1,978.3 L982.1,978.4 L984.0,978.5 L985.9,978.6 L987.8,978.7 L989.7,978.8 L991.7,978.9 L993.6,978.9 L995.5,979.0 L997.4,979.1 L999.3,979.1 L1001.3,979.2 L1003.2,979.2 L1005.1,979.3 L1007.0,979.3 L1008.9,979.4 L1010.9,979.4 L1012.8,979.5 L1014.7,979.5 L1016.6,979.6 L1018.5,979.6 L1020.5,979.7 L1022.4,979.7 L1024.3,979.8 L1026.2,979.8 L1028.1,979.8 L1030.1,979.9 L1032.0,979.9 L1033.9,980.0 L1035.8,980.0 L1037.7,980.0 L1039.7,980.1 L1041.6,980.1 L1043.5,980.2 L1045.4,980.2 L1047.3,980.2 L1049.3,980.3 L1051.2,980.3 L1053.1,980.3 L1055.0,980.3 L1056.9,980.4 L1058.9,980.4 L1060.8,980.4 L1062.7,980.5 L1064.6,980.5 L1066.5,980.5 L1068.5,980.5 L1070.4,980.6 L1072.3,980.6 L1074.2,980.6 L1076.1,980.6 L1078.1,980.7 L1080.0,980.7 L1081.9,980.7 L1083.8,980.7 L1085.7,980.7 L1087.7,980.8 L1089.6,980.8 L1091.5,980.8 L1093.4,980.8 L1095.3,980.8 L1097.3,980.8 L1099.2,980.9 L1101.1,980.9 L1103.0,980.9 L1104.9,980.9 L1106.9,980.9 L1108.8,980.9 L1110.7,980.9 L1112.6,980.9 L1114.5,980.9 L1116.5,980.9 L1118.4,981.0 L1120.3,981.0 L1122.2,981.0 L1124.1,981.0 L1126.1,981.0 L1128.0,981.0 L1129.9,981.0 L1131.8,981.0 L1133.7,981.0 L1135.7,981.0 L1137.6,981.0 L1139.5,981.0" fill="none" stroke="#50508a" stroke-width="2.2" stroke-linejoin="round"/>
<path d="M179.5,955.5 L181.4,955.6 L183.3,955.6 L185.3,955.6 L187.2,955.6 L189.1,955.7 L191.0,955.7 L192.9,955.8 L194.9,955.8 L196.8,955.9 L198.7,955.9 L200.6,956.0 L202.5,956.0 L204.5,956.1 L206.4,956.1 L208.3,956.2 L210.2,956.3 L212.1,956.4 L214.1,956.4 L216.0,956.5 L217.9,956.6 L219.8,956.7 L221.7,956.7 L223.7,956.8 L225.6,956.9 L227.5,957.0 L229.4,957.1 L231.3,957.2 L233.3,957.3 L235.2,957.4 L237.1,957.5 L239.0,957.6 L240.9,957.7 L242.9,957.8 L244.8,957.9 L246.7,958.0 L248.6,958.1 L250.5,958.2 L252.5,958.4 L254.4,958.5 L256.3,958.6 L258.2,958.7 L260.1,958.8 L262.1,959.0 L264.0,959.1 L265.9,959.2 L267.8,959.4 L269.7,959.5 L271.7,959.7 L273.6,959.9 L275.5,960.0 L277.4,960.2 L279.3,960.4 L281.3,960.7 L283.2,960.9 L285.1,961.1 L287.0,961.4 L288.9,961.6 L290.9,961.9 L292.8,962.1 L294.7,962.4 L296.6,962.6 L298.5,962.9 L300.5,963.2 L302.4,963.4 L304.3,963.7 L306.2,963.9 L308.1,964.2 L310.1,964.5 L312.0,964.7 L313.9,965.0 L315.8,965.2 L317.7,965.5 L319.7,965.8 L321.6,966.0 L323.5,966.2 L325.4,966.5 L327.3,966.7 L329.3,966.9 L331.2,967.1 L333.1,967.3 L335.0,967.5 L336.9,967.7 L338.9,967.8 L340.8,968.0 L342.7,968.1 L344.6,968.2 L346.5,968.3 L348.5,968.4 L350.4,968.5 L352.3,968.5 L354.2,968.6 L356.1,968.6 L358.1,968.6 L360.0,968.6 L361.9,968.5 L363.8,968.5 L365.7,968.4 L367.7,968.4 L369.6,968.3 L371.5,968.2 L373.4,968.1 L375.3,968.0 L377.3,967.8 L379.2,967.7 L381.1,967.6 L383.0,967.4 L384.9,967.3 L386.9,967.1 L388.8,967.0 L390.7,966.8 L392.6,966.6 L394.5,966.4 L396.5,966.2 L398.4,966.1 L400.3,965.9 L402.2,965.7 L404.1,965.5 L406.1,965.3 L408.0,965.1 L409.9,964.8 L411.8,964.6 L413.7,964.4 L415.7,964.1 L417.6,963.9 L419.5,963.6 L421.4,963.3 L423.3,963.0 L425.3,962.7 L427.2,962.4 L429.1,962.0 L431.0,961.6 L432.9,961.2 L434.9,960.8 L436.8,960.4 L438.7,960.0 L440.6,959.5 L442.5,959.1 L444.5,958.6 L446.4,958.1 L448.3,957.5 L450.2,957.0 L452.1,956.4 L454.1,955.9 L456.0,955.3 L457.9,954.7 L459.8,954.1 L461.7,953.4 L463.7,952.8 L465.6,952.2 L467.5,951.5 L469.4,950.8 L471.3,950.1 L473.3,949.4 L475.2,948.7 L477.1,947.9 L479.0,947.2 L480.9,946.4 L482.9,945.5 L484.8,944.6 L486.7,943.7 L488.6,942.7 L490.5,941.6 L492.5,940.5 L494.4,939.3 L496.3,938.1 L498.2,936.9 L500.1,935.6 L502.1,934.2 L504.0,932.9 L505.9,931.4 L507.8,930.0 L509.7,928.5 L511.7,927.0 L513.6,925.5 L515.5,923.9 L517.4,922.3 L519.3,920.7 L521.3,919.1 L523.2,917.4 L525.1,915.8 L527.0,914.1 L528.9,912.4 L530.9,910.7 L532.8,909.0 L534.7,907.2 L536.6,905.5 L538.5,903.8 L540.5,902.0 L542.4,900.3 L544.3,898.5 L546.2,896.7 L548.1,894.9 L550.1,893.1 L552.0,891.3 L553.9,889.4 L555.8,887.5 L557.7,885.6 L559.7,883.7 L561.6,881.7 L563.5,879.7 L565.4,877.7 L567.3,875.8 L569.3,873.8 L571.2,871.8 L573.1,869.9 L575.0,867.9 L576.9,866.0 L578.9,864.2 L580.8,862.4 L582.7,860.7 L584.6,859.0 L586.5,857.3 L588.5,855.7 L590.4,854.2 L592.3,852.6 L594.2,851.2 L596.1,849.7 L598.1,848.3 L600.0,847.0 L601.9,845.6 L603.8,844.4 L605.7,843.1 L607.7,841.9 L609.6,840.8 L611.5,839.6 L613.4,838.5 L615.3,837.5 L617.3,836.4 L619.2,835.4 L621.1,834.5 L623.0,833.5 L624.9,832.6 L626.9,831.6 L628.8,830.7 L630.7,829.8 L632.6,828.9 L634.5,828.0 L636.5,827.1 L638.4,826.2 L640.3,825.3 L642.2,824.4 L644.1,823.4 L646.1,822.5 L648.0,821.5 L649.9,820.4 L651.8,819.3 L653.7,818.2 L655.7,817.0 L657.6,815.7 L659.5,814.3 L661.4,812.8 L663.3,811.1 L665.3,809.4 L667.2,807.4 L669.1,805.4 L671.0,803.1 L672.9,800.8 L674.9,798.3 L676.8,795.6 L678.7,792.8 L680.6,789.8 L682.5,786.7 L684.5,783.5 L686.4,780.1 L688.3,776.5 L690.2,772.8 L692.1,768.9 L694.1,765.0 L696.0,760.9 L697.9,756.6 L699.8,752.3 L701.7,747.9 L703.7,743.3 L705.6,738.6 L707.5,733.8 L709.4,728.9 L711.3,723.7 L713.3,718.5 L715.2,713.0 L717.1,707.4 L719.0,701.6 L720.9,695.7 L722.9,689.6 L724.8,683.5 L726.7,677.5 L728.6,671.5 L730.5,665.6 L732.5,659.9 L734.4,654.5 L736.3,649.3 L738.2,644.4 L740.1,639.8 L742.1,635.4 L744.0,631.3 L745.9,627.4 L747.8,623.9 L749.7,620.6 L751.7,617.7 L753.6,615.0 L755.5,612.7 L757.4,610.6 L759.3,608.7 L761.3,607.1 L763.2,605.8 L765.1,604.8 L767.0,604.2 L768.9,603.9 L770.9,604.0 L772.8,604.5 L774.7,605.4 L776.6,606.7 L778.5,608.4 L780.5,610.6 L782.4,613.3 L784.3,616.5 L786.2,620.4 L788.1,625.0 L790.1,630.3 L792.0,636.3 L793.9,643.0 L795.8,650.1 L797.7,657.7 L799.7,665.4 L801.6,673.2 L803.5,680.9 L805.4,688.4 L807.3,695.8 L809.3,702.9 L811.2,709.9 L813.1,716.7 L815.0,723.3 L816.9,729.9 L818.9,736.4 L820.8,743.0 L822.7,749.6 L824.6,756.3 L826.5,763.1 L828.5,770.1 L830.4,777.2 L832.3,784.5 L834.2,791.9 L836.1,799.3 L838.1,806.7 L840.0,814.1 L841.9,821.3 L843.8,828.4 L845.7,835.2 L847.7,841.9 L849.6,848.3 L851.5,854.5 L853.4,860.4 L855.3,866.2 L857.3,871.8 L859.2,877.3 L861.1,882.6 L863.0,887.8 L864.9,892.8 L866.9,897.7 L868.8,902.4 L870.7,907.0 L872.6,911.4 L874.5,915.5 L876.5,919.4 L878.4,923.0 L880.3,926.3 L882.2,929.5 L884.1,932.4 L886.1,935.1 L888.0,937.6 L889.9,940.0 L891.8,942.3 L893.7,944.4 L895.7,946.5 L897.6,948.4 L899.5,950.3 L901.4,952.0 L903.3,953.7 L905.3,955.3 L907.2,956.8 L909.1,958.2 L911.0,959.5 L912.9,960.8 L914.9,962.0 L916.8,963.2 L918.7,964.2 L920.6,965.3 L922.5,966.2 L924.5,967.1 L926.4,967.9 L928.3,968.6 L930.2,969.3 L932.1,969.9 L934.1,970.5 L936.0,971.0 L937.9,971.4 L939.8,971.9 L941.7,972.3 L943.7,972.7 L945.6,973.0 L947.5,973.4 L949.4,973.7 L951.3,974.1 L953.3,974.4 L955.2,974.7 L957.1,975.0 L959.0,975.3 L960.9,975.5 L962.9,975.8 L964.8,976.0 L966.7,976.2 L968.6,976.5 L970.5,976.7 L972.5,976.9 L974.4,977.0 L976.3,977.2 L978.2,977.3 L980.1,977.5 L982.1,977.6 L984.0,977.7 L985.9,977.8 L987.8,977.9 L989.7,977.9 L991.7,978.0 L993.6,978.1 L995.5,978.1 L997.4,978.2 L999.3,978.3 L1001.3,978.3 L1003.2,978.4 L1005.1,978.4 L1007.0,978.5 L1008.9,978.5 L1010.9,978.6 L1012.8,978.6 L1014.7,978.6 L1016.6,978.7 L1018.5,978.7 L1020.5,978.8 L1022.4,978.8 L1024.3,978.9 L1026.2,978.9 L1028.1,978.9 L1030.1,979.0 L1032.0,979.0 L1033.9,979.1 L1035.8,979.1 L1037.7,979.1 L1039.7,979.2 L1041.6,979.2 L1043.5,979.2 L1045.4,979.3 L1047.3,979.3 L1049.3,979.3 L1051.2,979.4 L1053.1,979.4 L1055.0,979.4 L1056.9,979.4 L1058.9,979.5 L1060.8,979.5 L1062.7,979.5 L1064.6,979.5 L1066.5,979.6 L1068.5,979.6 L1070.4,979.6 L1072.3,979.6 L1074.2,979.7 L1076.1,979.7 L1078.1,979.7 L1080.0,979.7 L1081.9,979.7 L1083.8,979.7 L1085.7,979.8 L1087.7,979.8 L1089.6,979.8 L1091.5,979.8 L1093.4,979.8 L1095.3,979.8 L1097.3,979.9 L1099.2,979.9 L1101.1,979.9 L1103.0,979.9 L1104.9,979.9 L1106.9,979.9 L1108.8,979.9 L1110.7,979.9 L1112.6,979.9 L1114.5,980.0 L1116.5,980.0 L1118.4,980.0 L1120.3,980.0 L1122.2,980.0 L1124.1,980.0 L1126.1,980.0 L1128.0,980.0 L1129.9,980.0 L1131.8,980.0 L1133.7,980.0 L1135.7,980.0 L1137.6,980.0 L1139.5,980.0" fill="none" stroke="#2f8f3a" stroke-width="2.2" stroke-linejoin="round"/>
<path d="M179.5,955.0 L181.4,955.1 L183.3,955.2 L185.3,955.3 L187.2,955.4 L189.1,955.5 L191.0,955.6 L192.9,955.7 L194.9,955.8 L196.8,955.9 L198.7,956.0 L200.6,956.1 L202.5,956.2 L204.5,956.3 L206.4,956.4 L208.3,956.5 L210.2,956.6 L212.1,956.8 L214.1,956.9 L216.0,957.0 L217.9,957.1 L219.8,957.3 L221.7,957.4 L223.7,957.5 L225.6,957.7 L227.5,957.8 L229.4,957.9 L231.3,958.1 L233.3,958.2 L235.2,958.4 L237.1,958.5 L239.0,958.7 L240.9,958.8 L242.9,959.0 L244.8,959.1 L246.7,959.3 L248.6,959.4 L250.5,959.6 L252.5,959.8 L254.4,959.9 L256.3,960.1 L258.2,960.3 L260.1,960.4 L262.1,960.6 L264.0,960.8 L265.9,961.0 L267.8,961.1 L269.7,961.3 L271.7,961.5 L273.6,961.8 L275.5,962.0 L277.4,962.2 L279.3,962.5 L281.3,962.8 L283.2,963.0 L285.1,963.3 L287.0,963.6 L288.9,963.9 L290.9,964.2 L292.8,964.5 L294.7,964.8 L296.6,965.1 L298.5,965.4 L300.5,965.7 L302.4,966.0 L304.3,966.3 L306.2,966.6 L308.1,966.9 L310.1,967.2 L312.0,967.5 L313.9,967.8 L315.8,968.1 L317.7,968.4 L319.7,968.6 L321.6,968.9 L323.5,969.2 L325.4,969.5 L327.3,969.7 L329.3,970.0 L331.2,970.2 L333.1,970.4 L335.0,970.7 L336.9,970.9 L338.9,971.1 L340.8,971.3 L342.7,971.4 L344.6,971.6 L346.5,971.7 L348.5,971.8 L350.4,971.9 L352.3,972.0 L354.2,972.0 L356.1,972.1 L358.1,972.1 L360.0,972.1 L361.9,972.1 L363.8,972.1 L365.7,972.0 L367.7,972.0 L369.6,971.9 L371.5,971.8 L373.4,971.7 L375.3,971.6 L377.3,971.5 L379.2,971.3 L381.1,971.2 L383.0,971.1 L384.9,970.9 L386.9,970.8 L388.8,970.6 L390.7,970.4 L392.6,970.2 L394.5,970.1 L396.5,969.9 L398.4,969.7 L400.3,969.5 L402.2,969.3 L404.1,969.1 L406.1,968.9 L408.0,968.7 L409.9,968.5 L411.8,968.2 L413.7,968.0 L415.7,967.7 L417.6,967.5 L419.5,967.2 L421.4,966.9 L423.3,966.6 L425.3,966.3 L427.2,965.9 L429.1,965.6 L431.0,965.2 L432.9,964.8 L434.9,964.4 L436.8,964.0 L438.7,963.6 L440.6,963.1 L442.5,962.6 L444.5,962.1 L446.4,961.6 L448.3,961.0 L450.2,960.5 L452.1,959.9 L454.1,959.3 L456.0,958.7 L457.9,958.1 L459.8,957.4 L461.7,956.8 L463.7,956.1 L465.6,955.4 L467.5,954.8 L469.4,954.1 L471.3,953.4 L473.3,952.6 L475.2,951.9 L477.1,951.1 L479.0,950.3 L480.9,949.5 L482.9,948.6 L484.8,947.7 L486.7,946.8 L488.6,945.8 L490.5,944.8 L492.5,943.7 L494.4,942.6 L496.3,941.4 L498.2,940.2 L500.1,939.0 L502.1,937.7 L504.0,936.4 L505.9,935.0 L507.8,933.6 L509.7,932.2 L511.7,930.8 L513.6,929.3 L515.5,927.8 L517.4,926.3 L519.3,924.7 L521.3,923.2 L523.2,921.5 L525.1,919.9 L527.0,918.2 L528.9,916.6 L530.9,914.8 L532.8,913.1 L534.7,911.4 L536.6,909.6 L538.5,907.8 L540.5,905.9 L542.4,904.1 L544.3,902.2 L546.2,900.3 L548.1,898.4 L550.1,896.5 L552.0,894.5 L553.9,892.5 L555.8,890.4 L557.7,888.4 L559.7,886.3 L561.6,884.1 L563.5,882.0 L565.4,879.8 L567.3,877.6 L569.3,875.4 L571.2,873.1 L573.1,870.9 L575.0,868.7 L576.9,866.5 L578.9,864.4 L580.8,862.3 L582.7,860.2 L584.6,858.2 L586.5,856.2 L588.5,854.3 L590.4,852.4 L592.3,850.5 L594.2,848.6 L596.1,846.8 L598.1,845.1 L600.0,843.4 L601.9,841.7 L603.8,840.1 L605.7,838.5 L607.7,837.0 L609.6,835.6 L611.5,834.2 L613.4,832.8 L615.3,831.5 L617.3,830.3 L619.2,829.1 L621.1,828.0 L623.0,826.9 L624.9,825.9 L626.9,824.8 L628.8,823.8 L630.7,822.9 L632.6,821.9 L634.5,820.9 L636.5,819.9 L638.4,818.9 L640.3,817.9 L642.2,816.9 L644.1,815.9 L646.1,814.9 L648.0,813.8 L649.9,812.7 L651.8,811.5 L653.7,810.3 L655.7,809.0 L657.6,807.7 L659.5,806.2 L661.4,804.6 L663.3,802.9 L665.3,801.0 L667.2,799.0 L669.1,796.8 L671.0,794.5 L672.9,792.0 L674.9,789.4 L676.8,786.6 L678.7,783.6 L680.6,780.5 L682.5,777.1 L684.5,773.6 L686.4,769.8 L688.3,765.9 L690.2,761.7 L692.1,757.4 L694.1,752.9 L696.0,748.2 L697.9,743.5 L699.8,738.7 L701.7,733.8 L703.7,728.7 L705.6,723.5 L707.5,718.2 L709.4,712.7 L711.3,707.0 L713.3,701.1 L715.2,695.1 L717.1,688.8 L719.0,682.4 L720.9,675.8 L722.9,669.1 L724.8,662.2 L726.7,655.4 L728.6,648.6 L730.5,641.9 L732.5,635.4 L734.4,629.2 L736.3,623.2 L738.2,617.4 L740.1,611.9 L742.1,606.7 L744.0,601.8 L745.9,597.2 L747.8,592.9 L749.7,588.9 L751.7,585.3 L753.6,582.0 L755.5,579.1 L757.4,576.5 L759.3,574.2 L761.3,572.2 L763.2,570.6 L765.1,569.3 L767.0,568.4 L768.9,568.0 L770.9,568.0 L772.8,568.5 L774.7,569.5 L776.6,571.0 L778.5,572.9 L780.5,575.4 L782.4,578.5 L784.3,582.2 L786.2,586.6 L788.1,591.8 L790.1,597.9 L792.0,604.6 L793.9,612.1 L795.8,620.1 L797.7,628.5 L799.7,637.1 L801.6,645.7 L803.5,654.4 L805.4,662.9 L807.3,671.3 L809.3,679.4 L811.2,687.5 L813.1,695.4 L815.0,703.1 L816.9,710.8 L818.9,718.5 L820.8,726.2 L822.7,733.9 L824.6,741.8 L826.5,749.8 L828.5,758.1 L830.4,766.5 L832.3,775.1 L834.2,783.7 L836.1,792.4 L838.1,801.0 L840.0,809.5 L841.9,817.7 L843.8,825.5 L845.7,833.1 L847.7,840.4 L849.6,847.4 L851.5,854.1 L853.4,860.6 L855.3,866.8 L857.3,872.8 L859.2,878.7 L861.1,884.4 L863.0,890.0 L864.9,895.4 L866.9,900.7 L868.8,905.8 L870.7,910.7 L872.6,915.3 L874.5,919.7 L876.5,923.9 L878.4,927.7 L880.3,931.3 L882.2,934.5 L884.1,937.6 L886.1,940.4 L888.0,943.1 L889.9,945.6 L891.8,947.9 L893.7,950.2 L895.7,952.3 L897.6,954.3 L899.5,956.2 L901.4,958.1 L903.3,959.8 L905.3,961.4 L907.2,963.0 L909.1,964.4 L911.0,965.8 L912.9,967.1 L914.9,968.3 L916.8,969.5 L918.7,970.5 L920.6,971.5 L922.5,972.5 L924.5,973.3 L926.4,974.1 L928.3,974.8 L930.2,975.5 L932.1,976.1 L934.1,976.6 L936.0,977.1 L937.9,977.6 L939.8,978.0 L941.7,978.4 L943.7,978.8 L945.6,979.1 L947.5,979.5 L949.4,979.8 L951.3,980.1 L953.3,980.5 L955.2,980.8 L957.1,981.0 L959.0,981.3 L960.9,981.6 L962.9,981.8 L964.8,982.1 L966.7,982.3 L968.6,982.5 L970.5,982.7 L972.5,982.9 L974.4,983.1 L976.3,983.2 L978.2,983.4 L980.1,983.5 L982.1,983.6 L984.0,983.8 L985.9,983.8 L987.8,983.9 L989.7,984.0 L991.7,984.1 L993.6,984.2 L995.5,984.2 L997.4,984.3 L999.3,984.3 L1001.3,984.4 L1003.2,984.4 L1005.1,984.5 L1007.0,984.5 L1008.9,984.6 L1010.9,984.6 L1012.8,984.7 L1014.7,984.7 L1016.6,984.8 L1018.5,984.8 L1020.5,984.8 L1022.4,984.9 L1024.3,984.9 L1026.2,985.0 L1028.1,985.0 L1030.1,985.0 L1032.0,985.1 L1033.9,985.1 L1035.8,985.1 L1037.7,985.2 L1039.7,985.2 L1041.6,985.2 L1043.5,985.3 L1045.4,985.3 L1047.3,985.3 L1049.3,985.3 L1051.2,985.4 L1053.1,985.4 L1055.0,985.4 L1056.9,985.5 L1058.9,985.5 L1060.8,985.5 L1062.7,985.5 L1064.6,985.5 L1066.5,985.6 L1068.5,985.6 L1070.4,985.6 L1072.3,985.6 L1074.2,985.6 L1076.1,985.7 L1078.1,985.7 L1080.0,985.7 L1081.9,985.7 L1083.8,985.7 L1085.7,985.7 L1087.7,985.8 L1089.6,985.8 L1091.5,985.8 L1093.4,985.8 L1095.3,985.8 L1097.3,985.8 L1099.2,985.8 L1101.1,985.8 L1103.0,985.9 L1104.9,985.9 L1106.9,985.9 L1108.8,985.9 L1110.7,985.9 L1112.6,985.9 L1114.5,985.9 L1116.5,985.9 L1118.4,985.9 L1120.3,985.9 L1122.2,985.9 L1124.1,985.9 L1126.1,985.9 L1128.0,985.9 L1129.9,986.0 L1131.8,986.0 L1133.7,986.0 L1135.7,986.0 L1137.6,986.0 L1139.5,986.0" fill="none" stroke="#c050c8" stroke-width="2.2" stroke-linejoin="round"/>
<path d="M179.5,951.0 L181.4,951.1 L183.3,951.1 L185.3,951.1 L187.2,951.2 L189.1,951.2 L191.0,951.3 L192.9,951.3 L194.9,951.4 L196.8,951.4 L198.7,951.5 L200.6,951.6 L202.5,951.6 L204.5,951.7 L206.4,951.8 L208.3,951.9 L210.2,951.9 L212.1,952.0 L214.1,952.1 L216.0,952.2 L217.9,952.3 L219.8,952.4 L221.7,952.4 L223.7,952.5 L225.6,952.6 L227.5,952.7 L229.4,952.8 L231.3,952.9 L233.3,953.0 L235.2,953.2 L237.1,953.3 L239.0,953.4 L240.9,953.5 L242.9,953.6 L244.8,953.8 L246.7,953.9 L248.6,954.0 L250.5,954.2 L252.5,954.3 L254.4,954.5 L256.3,954.6 L258.2,954.8 L260.1,954.9 L262.1,955.1 L264.0,955.2 L265.9,955.4 L267.8,955.6 L269.7,955.8 L271.7,956.0 L273.6,956.2 L275.5,956.4 L277.4,956.6 L279.3,956.9 L281.3,957.2 L283.2,957.4 L285.1,957.7 L287.0,958.0 L288.9,958.3 L290.9,958.6 L292.8,958.9 L294.7,959.1 L296.6,959.4 L298.5,959.7 L300.5,960.0 L302.4,960.3 L304.3,960.5 L306.2,960.8 L308.1,961.1 L310.1,961.4 L312.0,961.6 L313.9,961.9 L315.8,962.2 L317.7,962.4 L319.7,962.7 L321.6,963.0 L323.5,963.2 L325.4,963.5 L327.3,963.7 L329.3,964.0 L331.2,964.2 L333.1,964.4 L335.0,964.7 L336.9,964.9 L338.9,965.0 L340.8,965.2 L342.7,965.4 L344.6,965.5 L346.5,965.6 L348.5,965.7 L350.4,965.8 L352.3,965.9 L354.2,965.9 L356.1,965.9 L358.1,965.9 L360.0,965.9 L361.9,965.9 L363.8,965.8 L365.7,965.7 L367.7,965.6 L369.6,965.5 L371.5,965.4 L373.4,965.3 L375.3,965.1 L377.3,964.9 L379.2,964.8 L381.1,964.6 L383.0,964.4 L384.9,964.2 L386.9,963.9 L388.8,963.7 L390.7,963.5 L392.6,963.3 L394.5,963.0 L396.5,962.8 L398.4,962.5 L400.3,962.3 L402.2,962.0 L404.1,961.8 L406.1,961.5 L408.0,961.2 L409.9,961.0 L411.8,960.7 L413.7,960.4 L415.7,960.1 L417.6,959.8 L419.5,959.5 L421.4,959.2 L423.3,958.8 L425.3,958.5 L427.2,958.1 L429.1,957.7 L431.0,957.3 L432.9,956.9 L434.9,956.4 L436.8,955.9 L438.7,955.5 L440.6,955.0 L442.5,954.4 L444.5,953.9 L446.4,953.3 L448.3,952.7 L450.2,952.0 L452.1,951.4 L454.1,950.7 L456.0,950.0 L457.9,949.3 L459.8,948.6 L461.7,947.9 L463.7,947.2 L465.6,946.4 L467.5,945.7 L469.4,944.9 L471.3,944.2 L473.3,943.4 L475.2,942.6 L477.1,941.8 L479.0,940.9 L480.9,940.1 L482.9,939.2 L484.8,938.3 L486.7,937.4 L488.6,936.4 L490.5,935.4 L492.5,934.4 L494.4,933.4 L496.3,932.4 L498.2,931.3 L500.1,930.2 L502.1,929.1 L504.0,928.0 L505.9,926.8 L507.8,925.7 L509.7,924.4 L511.7,923.2 L513.6,921.9 L515.5,920.6 L517.4,919.3 L519.3,917.9 L521.3,916.4 L523.2,915.0 L525.1,913.4 L527.0,911.8 L528.9,910.2 L530.9,908.5 L532.8,906.8 L534.7,905.0 L536.6,903.1 L538.5,901.2 L540.5,899.3 L542.4,897.2 L544.3,895.2 L546.2,893.1 L548.1,890.9 L550.1,888.7 L552.0,886.5 L553.9,884.3 L555.8,881.9 L557.7,879.6 L559.7,877.2 L561.6,874.7 L563.5,872.1 L565.4,869.5 L567.3,866.9 L569.3,864.2 L571.2,861.4 L573.1,858.6 L575.0,855.8 L576.9,853.0 L578.9,850.3 L580.8,847.5 L582.7,844.7 L584.6,842.0 L586.5,839.3 L588.5,836.6 L590.4,833.9 L592.3,831.2 L594.2,828.6 L596.1,826.0 L598.1,823.4 L600.0,820.9 L601.9,818.5 L603.8,816.1 L605.7,813.9 L607.7,811.7 L609.6,809.6 L611.5,807.6 L613.4,805.7 L615.3,803.9 L617.3,802.2 L619.2,800.7 L621.1,799.2 L623.0,797.8 L624.9,796.6 L626.9,795.3 L628.8,794.1 L630.7,793.0 L632.6,791.8 L634.5,790.7 L636.5,789.5 L638.4,788.4 L640.3,787.3 L642.2,786.1 L644.1,784.9 L646.1,783.7 L648.0,782.5 L649.9,781.3 L651.8,780.0 L653.7,778.6 L655.7,777.2 L657.6,775.7 L659.5,774.1 L661.4,772.4 L663.3,770.5 L665.3,768.6 L667.2,766.4 L669.1,764.1 L671.0,761.6 L672.9,759.0 L674.9,756.2 L676.8,753.1 L678.7,749.9 L680.6,746.4 L682.5,742.6 L684.5,738.5 L686.4,734.1 L688.3,729.3 L690.2,724.3 L692.1,718.9 L694.1,713.4 L696.0,707.8 L697.9,702.0 L699.8,696.2 L701.7,690.3 L703.7,684.2 L705.6,678.1 L707.5,671.7 L709.4,665.2 L711.3,658.4 L713.3,651.4 L715.2,644.2 L717.1,636.7 L719.0,629.0 L720.9,621.1 L722.9,613.0 L724.8,604.8 L726.7,596.4 L728.6,588.0 L730.5,579.7 L732.5,571.5 L734.4,563.5 L736.3,555.7 L738.2,548.2 L740.1,541.0 L742.1,534.1 L744.0,527.5 L745.9,521.2 L747.8,515.3 L749.7,509.7 L751.7,504.7 L753.6,500.1 L755.5,495.9 L757.4,492.2 L759.3,488.9 L761.3,486.1 L763.2,483.7 L765.1,481.8 L767.0,480.4 L768.9,479.7 L770.9,479.5 L772.8,480.0 L774.7,481.1 L776.6,482.9 L778.5,485.3 L780.5,488.5 L782.4,492.3 L784.3,497.0 L786.2,502.5 L788.1,509.0 L790.1,516.4 L792.0,524.7 L793.9,533.7 L795.8,543.3 L797.7,553.3 L799.7,563.6 L801.6,574.0 L803.5,584.5 L805.4,595.0 L807.3,605.4 L809.3,615.7 L811.2,625.9 L813.1,636.0 L815.0,646.0 L816.9,656.0 L818.9,666.0 L820.8,676.0 L822.7,686.2 L824.6,696.5 L826.5,707.1 L828.5,718.0 L830.4,729.1 L832.3,740.4 L834.2,751.7 L836.1,763.0 L838.1,774.0 L840.0,784.6 L841.9,794.7 L843.8,804.2 L845.7,813.2 L847.7,821.7 L849.6,829.7 L851.5,837.4 L853.4,844.7 L855.3,851.7 L857.3,858.5 L859.2,865.1 L861.1,871.5 L863.0,877.8 L864.9,883.9 L866.9,889.8 L868.8,895.5 L870.7,901.0 L872.6,906.1 L874.5,911.0 L876.5,915.5 L878.4,919.7 L880.3,923.6 L882.2,927.1 L884.1,930.3 L886.1,933.3 L888.0,936.1 L889.9,938.7 L891.8,941.2 L893.7,943.5 L895.7,945.8 L897.6,947.9 L899.5,949.9 L901.4,951.8 L903.3,953.6 L905.3,955.3 L907.2,956.9 L909.1,958.4 L911.0,959.8 L912.9,961.0 L914.9,962.2 L916.8,963.3 L918.7,964.3 L920.6,965.2 L922.5,966.1 L924.5,966.9 L926.4,967.5 L928.3,968.2 L930.2,968.8 L932.1,969.3 L934.1,969.8 L936.0,970.2 L937.9,970.6 L939.8,971.0 L941.7,971.4 L943.7,971.7 L945.6,972.0 L947.5,972.4 L949.4,972.7 L951.3,972.9 L953.3,973.2 L955.2,973.5 L957.1,973.7 L959.0,974.0 L960.9,974.2 L962.9,974.4 L964.8,974.7 L966.7,974.9 L968.6,975.1 L970.5,975.3 L972.5,975.4 L974.4,975.6 L976.3,975.8 L978.2,975.9 L980.1,976.1 L982.1,976.2 L984.0,976.3 L985.9,976.4 L987.8,976.5 L989.7,976.6 L991.7,976.7 L993.6,976.7 L995.5,976.8 L997.4,976.8 L999.3,976.9 L1001.3,976.9 L1003.2,977.0 L1005.1,977.0 L1007.0,977.1 L1008.9,977.1 L1010.9,977.1 L1012.8,977.2 L1014.7,977.2 L1016.6,977.2 L1018.5,977.3 L1020.5,977.3 L1022.4,977.3 L1024.3,977.3 L1026.2,977.4 L1028.1,977.4 L1030.1,977.4 L1032.0,977.4 L1033.9,977.5 L1035.8,977.5 L1037.7,977.5 L1039.7,977.5 L1041.6,977.6 L1043.5,977.6 L1045.4,977.6 L1047.3,977.6 L1049.3,977.6 L1051.2,977.7 L1053.1,977.7 L1055.0,977.7 L1056.9,977.7 L1058.9,977.7 L1060.8,977.7 L1062.7,977.7 L1064.6,977.8 L1066.5,977.8 L1068.5,977.8 L1070.4,977.8 L1072.3,977.8 L1074.2,977.8 L1076.1,977.8 L1078.1,977.8 L1080.0,977.8 L1081.9,977.9 L1083.8,977.9 L1085.7,977.9 L1087.7,977.9 L1089.6,977.9 L1091.5,977.9 L1093.4,977.9 L1095.3,977.9 L1097.3,977.9 L1099.2,977.9 L1101.1,977.9 L1103.0,977.9 L1104.9,977.9 L1106.9,977.9 L1108.8,977.9 L1110.7,978.0 L1112.6,978.0 L1114.5,978.0 L1116.5,978.0 L1118.4,978.0 L1120.3,978.0 L1122.2,978.0 L1124.1,978.0 L1126.1,978.0 L1128.0,978.0 L1129.9,978.0 L1131.8,978.0 L1133.7,978.0 L1135.7,978.0 L1137.6,978.0 L1139.5,978.0" fill="none" stroke="#4a55b5" stroke-width="2.2" stroke-linejoin="round"/>
<path d="M179.5,945.0 L181.4,945.0 L183.3,945.1 L185.3,945.1 L187.2,945.1 L189.1,945.2 L191.0,945.2 L192.9,945.3 L194.9,945.3 L196.8,945.4 L198.7,945.4 L200.6,945.5 L202.5,945.6 L204.5,945.6 L206.4,945.7 L208.3,945.8 L210.2,945.8 L212.1,945.9 L214.1,946.0 L216.0,946.0 L217.9,946.1 L219.8,946.2 L221.7,946.3 L223.7,946.4 L225.6,946.5 L227.5,946.6 L229.4,946.7 L231.3,946.8 L233.3,946.9 L235.2,947.0 L237.1,947.1 L239.0,947.3 L240.9,947.4 L242.9,947.5 L244.8,947.7 L246.7,947.8 L248.6,948.0 L250.5,948.1 L252.5,948.3 L254.4,948.4 L256.3,948.6 L258.2,948.8 L260.1,949.0 L262.1,949.1 L264.0,949.3 L265.9,949.5 L267.8,949.7 L269.7,949.9 L271.7,950.2 L273.6,950.4 L275.5,950.7 L277.4,951.0 L279.3,951.3 L281.3,951.6 L283.2,951.9 L285.1,952.2 L287.0,952.5 L288.9,952.9 L290.9,953.2 L292.8,953.5 L294.7,953.9 L296.6,954.2 L298.5,954.5 L300.5,954.8 L302.4,955.1 L304.3,955.4 L306.2,955.7 L308.1,955.9 L310.1,956.2 L312.0,956.5 L313.9,956.8 L315.8,957.1 L317.7,957.4 L319.7,957.7 L321.6,958.0 L323.5,958.3 L325.4,958.6 L327.3,958.9 L329.3,959.1 L331.2,959.4 L333.1,959.6 L335.0,959.9 L336.9,960.1 L338.9,960.3 L340.8,960.5 L342.7,960.7 L344.6,960.8 L346.5,961.0 L348.5,961.1 L350.4,961.2 L352.3,961.2 L354.2,961.3 L356.1,961.3 L358.1,961.3 L360.0,961.3 L361.9,961.2 L363.8,961.1 L365.7,961.0 L367.7,960.9 L369.6,960.7 L371.5,960.6 L373.4,960.4 L375.3,960.2 L377.3,959.9 L379.2,959.7 L381.1,959.5 L383.0,959.2 L384.9,958.9 L386.9,958.6 L388.8,958.3 L390.7,958.0 L392.6,957.7 L394.5,957.4 L396.5,957.1 L398.4,956.8 L400.3,956.4 L402.2,956.1 L404.1,955.8 L406.1,955.4 L408.0,955.1 L409.9,954.8 L411.8,954.4 L413.7,954.1 L415.7,953.7 L417.6,953.4 L419.5,953.0 L421.4,952.6 L423.3,952.2 L425.3,951.7 L427.2,951.3 L429.1,950.8 L431.0,950.3 L432.9,949.8 L434.9,949.3 L436.8,948.8 L438.7,948.2 L440.6,947.6 L442.5,947.0 L444.5,946.3 L446.4,945.6 L448.3,944.9 L450.2,944.1 L452.1,943.3 L454.1,942.5 L456.0,941.7 L457.9,940.9 L459.8,940.0 L461.7,939.2 L463.7,938.3 L465.6,937.4 L467.5,936.6 L469.4,935.7 L471.3,934.8 L473.3,933.8 L475.2,932.9 L477.1,932.0 L479.0,931.0 L480.9,930.1 L482.9,929.1 L484.8,928.1 L486.7,927.1 L488.6,926.2 L490.5,925.2 L492.5,924.2 L494.4,923.2 L496.3,922.2 L498.2,921.2 L500.1,920.2 L502.1,919.2 L504.0,918.2 L505.9,917.1 L507.8,916.1 L509.7,915.0 L511.7,913.9 L513.6,912.7 L515.5,911.5 L517.4,910.3 L519.3,908.9 L521.3,907.6 L523.2,906.1 L525.1,904.5 L527.0,902.9 L528.9,901.2 L530.9,899.4 L532.8,897.5 L534.7,895.5 L536.6,893.4 L538.5,891.2 L540.5,888.9 L542.4,886.5 L544.3,884.0 L546.2,881.5 L548.1,878.9 L550.1,876.2 L552.0,873.5 L553.9,870.8 L555.8,867.9 L557.7,865.0 L559.7,862.0 L561.6,858.9 L563.5,855.7 L565.4,852.4 L567.3,848.9 L569.3,845.4 L571.2,841.8 L573.1,838.1 L575.0,834.4 L576.9,830.6 L578.9,826.9 L580.8,823.0 L582.7,819.2 L584.6,815.4 L586.5,811.6 L588.5,807.8 L590.4,803.9 L592.3,800.1 L594.2,796.3 L596.1,792.5 L598.1,788.8 L600.0,785.2 L601.9,781.7 L603.8,778.3 L605.7,775.0 L607.7,771.8 L609.6,768.8 L611.5,765.9 L613.4,763.2 L615.3,760.7 L617.3,758.3 L619.2,756.2 L621.1,754.2 L623.0,752.4 L624.9,750.7 L626.9,749.1 L628.8,747.6 L630.7,746.1 L632.6,744.7 L634.5,743.3 L636.5,741.9 L638.4,740.4 L640.3,739.0 L642.2,737.6 L644.1,736.1 L646.1,734.6 L648.0,733.1 L649.9,731.6 L651.8,730.0 L653.7,728.4 L655.7,726.7 L657.6,724.9 L659.5,723.0 L661.4,721.0 L663.3,718.9 L665.3,716.5 L667.2,714.1 L669.1,711.4 L671.0,708.5 L672.9,705.5 L674.9,702.1 L676.8,698.6 L678.7,694.7 L680.6,690.5 L682.5,685.8 L684.5,680.7 L686.4,675.1 L688.3,669.0 L690.2,662.4 L692.1,655.5 L694.1,648.3 L696.0,641.0 L697.9,633.5 L699.8,626.0 L701.7,618.4 L703.7,610.6 L705.6,602.7 L707.5,594.6 L709.4,586.2 L711.3,577.6 L713.3,568.7 L715.2,559.4 L717.1,549.9 L719.0,540.0 L720.9,529.9 L722.9,519.4 L724.8,508.7 L726.7,497.8 L728.6,486.8 L730.5,475.8 L732.5,464.9 L734.4,454.2 L736.3,443.7 L738.2,433.5 L740.1,423.6 L742.1,414.0 L744.0,404.8 L745.9,396.0 L747.8,387.6 L749.7,379.8 L751.7,372.6 L753.6,366.0 L755.5,360.1 L757.4,354.7 L759.3,350.0 L761.3,345.9 L763.2,342.5 L765.1,339.7 L767.0,337.6 L768.9,336.4 L770.9,336.0 L772.8,336.5 L774.7,337.9 L776.6,340.2 L778.5,343.4 L780.5,347.6 L782.4,352.7 L784.3,358.9 L786.2,366.3 L788.1,374.8 L790.1,384.6 L792.0,395.3 L793.9,407.0 L795.8,419.3 L797.7,432.2 L799.7,445.3 L801.6,458.8 L803.5,472.3 L805.4,486.0 L807.3,499.7 L809.3,513.4 L811.2,527.1 L813.1,540.7 L815.0,554.3 L816.9,567.9 L818.9,581.5 L820.8,595.2 L822.7,609.1 L824.6,623.2 L826.5,637.8 L828.5,652.6 L830.4,667.9 L832.3,683.4 L834.2,698.9 L836.1,714.2 L838.1,729.0 L840.0,743.0 L841.9,756.3 L843.8,768.6 L845.7,780.1 L847.7,790.8 L849.6,800.7 L851.5,810.2 L853.4,819.1 L855.3,827.7 L857.3,836.0 L859.2,844.0 L861.1,851.9 L863.0,859.5 L864.9,867.0 L866.9,874.2 L868.8,881.1 L870.7,887.8 L872.6,894.0 L874.5,899.9 L876.5,905.3 L878.4,910.3 L880.3,914.8 L882.2,918.9 L884.1,922.7 L886.1,926.1 L888.0,929.3 L889.9,932.3 L891.8,935.1 L893.7,937.8 L895.7,940.4 L897.6,942.8 L899.5,945.1 L901.4,947.3 L903.3,949.4 L905.3,951.3 L907.2,953.1 L909.1,954.7 L911.0,956.3 L912.9,957.6 L914.9,958.9 L916.8,960.0 L918.7,961.1 L920.6,962.0 L922.5,962.8 L924.5,963.5 L926.4,964.2 L928.3,964.8 L930.2,965.3 L932.1,965.8 L934.1,966.3 L936.0,966.7 L937.9,967.1 L939.8,967.5 L941.7,967.8 L943.7,968.2 L945.6,968.5 L947.5,968.8 L949.4,969.0 L951.3,969.3 L953.3,969.6 L955.2,969.8 L957.1,970.1 L959.0,970.3 L960.9,970.5 L962.9,970.8 L964.8,971.0 L966.7,971.2 L968.6,971.4 L970.5,971.6 L972.5,971.8 L974.4,972.0 L976.3,972.1 L978.2,972.3 L980.1,972.4 L982.1,972.6 L984.0,972.7 L985.9,972.8 L987.8,972.9 L989.7,973.0 L991.7,973.1 L993.6,973.2 L995.5,973.3 L997.4,973.3 L999.3,973.4 L1001.3,973.4 L1003.2,973.5 L1005.1,973.5 L1007.0,973.5 L1008.9,973.5 L1010.9,973.6 L1012.8,973.6 L1014.7,973.6 L1016.6,973.6 L1018.5,973.7 L1020.5,973.7 L1022.4,973.7 L1024.3,973.7 L1026.2,973.7 L1028.1,973.8 L1030.1,973.8 L1032.0,973.8 L1033.9,973.8 L1035.8,973.8 L1037.7,973.8 L1039.7,973.8 L1041.6,973.9 L1043.5,973.9 L1045.4,973.9 L1047.3,973.9 L1049.3,973.9 L1051.2,973.9 L1053.1,973.9 L1055.0,973.9 L1056.9,973.9 L1058.9,973.9 L1060.8,973.9 L1062.7,973.9 L1064.6,973.9 L1066.5,973.9 L1068.5,973.9 L1070.4,973.9 L1072.3,973.9 L1074.2,974.0 L1076.1,974.0 L1078.1,974.0 L1080.0,974.0 L1081.9,974.0 L1083.8,974.0 L1085.7,974.0 L1087.7,974.0 L1089.6,974.0 L1091.5,974.0 L1093.4,974.0 L1095.3,974.0 L1097.3,974.0 L1099.2,974.0 L1101.1,974.0 L1103.0,974.0 L1104.9,974.0 L1106.9,974.0 L1108.8,974.0 L1110.7,974.0 L1112.6,974.0 L1114.5,974.0 L1116.5,974.0 L1118.4,974.0 L1120.3,974.0 L1122.2,974.0 L1124.1,974.0 L1126.1,974.0 L1128.0,974.0 L1129.9,974.0 L1131.8,974.0 L1133.7,974.0 L1135.7,974.0 L1137.6,974.0 L1139.5,974.0" fill="none" stroke="#e05a5a" stroke-width="2.2" stroke-linejoin="round"/>
<path d="M179.5,938.0 L181.4,938.0 L183.3,938.0 L185.3,938.1 L187.2,938.1 L189.1,938.1 L191.0,938.1 L192.9,938.2 L194.9,938.2 L196.8,938.3 L198.7,938.3 L200.6,938.4 L202.5,938.4 L204.5,938.5 L206.4,938.6 L208.3,938.6 L210.2,938.7 L212.1,938.8 L214.1,938.8 L216.0,938.9 L217.9,939.0 L219.8,939.1 L221.7,939.1 L223.7,939.2 L225.6,939.3 L227.5,939.4 L229.4,939.6 L231.3,939.7 L233.3,939.8 L235.2,939.9 L237.1,940.1 L239.0,940.2 L240.9,940.3 L242.9,940.5 L244.8,940.7 L246.7,940.8 L248.6,941.0 L250.5,941.2 L252.5,941.3 L254.4,941.5 L256.3,941.7 L258.2,941.9 L260.1,942.1 L262.1,942.3 L264.0,942.6 L265.9,942.8 L267.8,943.0 L269.7,943.3 L271.7,943.6 L273.6,943.9 L275.5,944.2 L277.4,944.5 L279.3,944.9 L281.3,945.3 L283.2,945.6 L285.1,946.0 L287.0,946.4 L288.9,946.8 L290.9,947.2 L292.8,947.6 L294.7,948.0 L296.6,948.4 L298.5,948.7 L300.5,949.1 L302.4,949.4 L304.3,949.8 L306.2,950.1 L308.1,950.5 L310.1,950.8 L312.0,951.2 L313.9,951.5 L315.8,951.9 L317.7,952.2 L319.7,952.6 L321.6,952.9 L323.5,953.3 L325.4,953.6 L327.3,954.0 L329.3,954.3 L331.2,954.6 L333.1,954.9 L335.0,955.2 L336.9,955.4 L338.9,955.7 L340.8,955.9 L342.7,956.1 L344.6,956.3 L346.5,956.5 L348.5,956.6 L350.4,956.7 L352.3,956.8 L354.2,956.8 L356.1,956.8 L358.1,956.8 L360.0,956.8 L361.9,956.7 L363.8,956.6 L365.7,956.4 L367.7,956.3 L369.6,956.1 L371.5,955.8 L373.4,955.6 L375.3,955.3 L377.3,955.0 L379.2,954.7 L381.1,954.4 L383.0,954.0 L384.9,953.7 L386.9,953.3 L388.8,952.9 L390.7,952.5 L392.6,952.1 L394.5,951.7 L396.5,951.3 L398.4,950.9 L400.3,950.5 L402.2,950.1 L404.1,949.7 L406.1,949.2 L408.0,948.8 L409.9,948.4 L411.8,947.9 L413.7,947.5 L415.7,947.0 L417.6,946.6 L419.5,946.1 L421.4,945.6 L423.3,945.1 L425.3,944.5 L427.2,944.0 L429.1,943.4 L431.0,942.8 L432.9,942.1 L434.9,941.5 L436.8,940.8 L438.7,940.1 L440.6,939.3 L442.5,938.5 L444.5,937.7 L446.4,936.8 L448.3,935.9 L450.2,935.0 L452.1,934.0 L454.1,933.0 L456.0,932.0 L457.9,930.9 L459.8,929.9 L461.7,928.8 L463.7,927.7 L465.6,926.6 L467.5,925.5 L469.4,924.4 L471.3,923.3 L473.3,922.1 L475.2,921.0 L477.1,919.8 L479.0,918.7 L480.9,917.5 L482.9,916.3 L484.8,915.1 L486.7,913.9 L488.6,912.7 L490.5,911.5 L492.5,910.3 L494.4,909.1 L496.3,908.0 L498.2,906.8 L500.1,905.6 L502.1,904.5 L504.0,903.3 L505.9,902.1 L507.8,900.9 L509.7,899.6 L511.7,898.3 L513.6,896.9 L515.5,895.5 L517.4,894.0 L519.3,892.5 L521.3,890.8 L523.2,889.1 L525.1,887.2 L527.0,885.3 L528.9,883.2 L530.9,881.0 L532.8,878.7 L534.7,876.2 L536.6,873.7 L538.5,870.9 L540.5,868.1 L542.4,865.1 L544.3,862.0 L546.2,858.8 L548.1,855.5 L550.1,852.2 L552.0,848.8 L553.9,845.4 L555.8,841.8 L557.7,838.1 L559.7,834.4 L561.6,830.4 L563.5,826.4 L565.4,822.2 L567.3,817.8 L569.3,813.4 L571.2,808.8 L573.1,804.1 L575.0,799.4 L576.9,794.6 L578.9,789.7 L580.8,784.9 L582.7,780.0 L584.6,775.1 L586.5,770.2 L588.5,765.3 L590.4,760.3 L592.3,755.4 L594.2,750.5 L596.1,745.6 L598.1,740.8 L600.0,736.1 L601.9,731.6 L603.8,727.1 L605.7,722.9 L607.7,718.8 L609.6,714.9 L611.5,711.2 L613.4,707.7 L615.3,704.4 L617.3,701.5 L619.2,698.7 L621.1,696.2 L623.0,693.8 L624.9,691.7 L626.9,689.7 L628.8,687.8 L630.7,685.9 L632.6,684.1 L634.5,682.3 L636.5,680.6 L638.4,678.8 L640.3,677.0 L642.2,675.1 L644.1,673.3 L646.1,671.5 L648.0,669.6 L649.9,667.7 L651.8,665.7 L653.7,663.7 L655.7,661.6 L657.6,659.3 L659.5,657.0 L661.4,654.5 L663.3,651.8 L665.3,648.9 L667.2,645.8 L669.1,642.5 L671.0,639.0 L672.9,635.2 L674.9,631.1 L676.8,626.6 L678.7,621.8 L680.6,616.5 L682.5,610.7 L684.5,604.3 L686.4,597.2 L688.3,589.5 L690.2,581.2 L692.1,572.4 L694.1,563.3 L696.0,553.9 L697.9,544.5 L699.8,534.9 L701.7,525.3 L703.7,515.5 L705.6,505.6 L707.5,495.3 L709.4,484.7 L711.3,473.8 L713.3,462.5 L715.2,450.8 L717.1,438.8 L719.0,426.3 L720.9,413.5 L722.9,400.3 L724.8,386.7 L726.7,372.9 L728.6,359.0 L730.5,345.0 L732.5,331.1 L734.4,317.4 L736.3,304.0 L738.2,290.9 L740.1,278.3 L742.1,266.0 L744.0,254.2 L745.9,242.9 L747.8,232.2 L749.7,222.1 L751.7,212.8 L753.6,204.3 L755.5,196.7 L757.4,189.8 L759.3,183.7 L761.3,178.4 L763.2,174.0 L765.1,170.3 L767.0,167.7 L768.9,166.0 L770.9,165.5 L772.8,166.1 L774.7,167.9 L776.6,170.8 L778.5,174.9 L780.5,180.1 L782.4,186.7 L784.3,194.6 L786.2,203.9 L788.1,214.8 L790.1,227.2 L792.0,240.8 L793.9,255.6 L795.8,271.2 L797.7,287.4 L799.7,304.1 L801.6,321.0 L803.5,338.2 L805.4,355.5 L807.3,373.0 L809.3,390.4 L811.2,407.8 L813.1,425.2 L815.0,442.6 L816.9,459.9 L818.9,477.3 L820.8,494.8 L822.7,512.6 L824.6,530.7 L826.5,549.2 L828.5,568.3 L830.4,587.8 L832.3,607.6 L834.2,627.4 L836.1,647.0 L838.1,665.8 L840.0,683.8 L841.9,700.6 L843.8,716.2 L845.7,730.6 L847.7,744.1 L849.6,756.6 L851.5,768.4 L853.4,779.7 L855.3,790.4 L857.3,800.8 L859.2,810.9 L861.1,820.7 L863.0,830.3 L864.9,839.6 L866.9,848.6 L868.8,857.3 L870.7,865.6 L872.6,873.4 L874.5,880.7 L876.5,887.4 L878.4,893.6 L880.3,899.2 L882.2,904.4 L884.1,909.0 L886.1,913.3 L888.0,917.2 L889.9,920.9 L891.8,924.4 L893.7,927.8 L895.7,930.9 L897.6,933.9 L899.5,936.8 L901.4,939.5 L903.3,942.0 L905.3,944.4 L907.2,946.6 L909.1,948.6 L911.0,950.5 L912.9,952.2 L914.9,953.7 L916.8,955.1 L918.7,956.3 L920.6,957.4 L922.5,958.3 L924.5,959.2 L926.4,960.0 L928.3,960.7 L930.2,961.3 L932.1,961.9 L934.1,962.5 L936.0,963.0 L937.9,963.5 L939.8,963.9 L941.7,964.3 L943.7,964.7 L945.6,965.1 L947.5,965.4 L949.4,965.7 L951.3,966.0 L953.3,966.3 L955.2,966.6 L957.1,966.9 L959.0,967.2 L960.9,967.5 L962.9,967.7 L964.8,968.0 L966.7,968.3 L968.6,968.5 L970.5,968.7 L972.5,969.0 L974.4,969.2 L976.3,969.4 L978.2,969.6 L980.1,969.8 L982.1,970.0 L984.0,970.1 L985.9,970.3 L987.8,970.4 L989.7,970.5 L991.7,970.6 L993.6,970.7 L995.5,970.8 L997.4,970.9 L999.3,970.9 L1001.3,971.0 L1003.2,971.0 L1005.1,971.1 L1007.0,971.1 L1008.9,971.1 L1010.9,971.1 L1012.8,971.2 L1014.7,971.2 L1016.6,971.2 L1018.5,971.2 L1020.5,971.3 L1022.4,971.3 L1024.3,971.3 L1026.2,971.3 L1028.1,971.3 L1030.1,971.4 L1032.0,971.4 L1033.9,971.4 L1035.8,971.4 L1037.7,971.4 L1039.7,971.4 L1041.6,971.4 L1043.5,971.4 L1045.4,971.5 L1047.3,971.5 L1049.3,971.5 L1051.2,971.5 L1053.1,971.5 L1055.0,971.5 L1056.9,971.5 L1058.9,971.5 L1060.8,971.5 L1062.7,971.5 L1064.6,971.5 L1066.5,971.5 L1068.5,971.5 L1070.4,971.5 L1072.3,971.5 L1074.2,971.5 L1076.1,971.5 L1078.1,971.5 L1080.0,971.5 L1081.9,971.5 L1083.8,971.5 L1085.7,971.5 L1087.7,971.5 L1089.6,971.5 L1091.5,971.5 L1093.4,971.5 L1095.3,971.5 L1097.3,971.5 L1099.2,971.5 L1101.1,971.5 L1103.0,971.5 L1104.9,971.5 L1106.9,971.5 L1108.8,971.5 L1110.7,971.5 L1112.6,971.5 L1114.5,971.5 L1116.5,971.5 L1118.4,971.5 L1120.3,971.5 L1122.2,971.5 L1124.1,971.5 L1126.1,971.5 L1128.0,971.5 L1129.9,971.5 L1131.8,971.5 L1133.7,971.5 L1135.7,971.5 L1137.6,971.5 L1139.5,971.5" fill="none" stroke="#111111" stroke-width="2.2" stroke-linejoin="round"/>
</g>
<rect x="179.5" y="55.7" width="960.0" height="935.8" fill="none" stroke="#111" stroke-width="3"/>
<line x1="179.50" y1="991.50" x2="179.50" y2="1009.50" stroke="#111" stroke-width="3" />
<line x1="217.90" y1="991.50" x2="217.90" y2="1001.50" stroke="#111" stroke-width="3" />
<line x1="256.30" y1="991.50" x2="256.30" y2="1001.50" stroke="#111" stroke-width="3" />
<line x1="294.70" y1="991.50" x2="294.70" y2="1001.50" stroke="#111" stroke-width="3" />
<line x1="333.10" y1="991.50" x2="333.10" y2="1001.50" stroke="#111" stroke-width="3" />
<line x1="371.50" y1="991.50" x2="371.50" y2="1009.50" stroke="#111" stroke-width="3" />
<line x1="409.90" y1="991.50" x2="409.90" y2="1001.50" stroke="#111" stroke-width="3" />
<line x1="448.30" y1="991.50" x2="448.30" y2="1001.50" stroke="#111" stroke-width="3" />
<line x1="486.70" y1="991.50" x2="486.70" y2="1001.50" stroke="#111" stroke-width="3" />
<line x1="525.10" y1="991.50" x2="525.10" y2="1001.50" stroke="#111" stroke-width="3" />
<line x1="563.50" y1="991.50" x2="563.50" y2="1009.50" stroke="#111" stroke-width="3" />
<line x1="601.90" y1="991.50" x2="601.90" y2="1001.50" stroke="#111" stroke-width="3" />
<line x1="640.30" y1="991.50" x2="640.30" y2="1001.50" stroke="#111" stroke-width="3" />
<line x1="678.70" y1="991.50" x2="678.70" y2="1001.50" stroke="#111" stroke-width="3" />
<line x1="717.10" y1="991.50" x2="717.10" y2="1001.50" stroke="#111" stroke-width="3" />
<line x1="755.50" y1="991.50" x2="755.50" y2="1009.50" stroke="#111" stroke-width="3" />
<line x1="793.90" y1="991.50" x2="793.90" y2="1001.50" stroke="#111" stroke-width="3" />
<line x1="832.30" y1="991.50" x2="832.30" y2="1001.50" stroke="#111" stroke-width="3" />
<line x1="870.70" y1="991.50" x2="870.70" y2="1001.50" stroke="#111" stroke-width="3" />
<line x1="909.10" y1="991.50" x2="909.10" y2="1001.50" stroke="#111" stroke-width="3" />
<line x1="947.50" y1="991.50" x2="947.50" y2="1009.50" stroke="#111" stroke-width="3" />
<line x1="985.90" y1="991.50" x2="985.90" y2="1001.50" stroke="#111" stroke-width="3" />
<line x1="1024.30" y1="991.50" x2="1024.30" y2="1001.50" stroke="#111" stroke-width="3" />
<line x1="1062.70" y1="991.50" x2="1062.70" y2="1001.50" stroke="#111" stroke-width="3" />
<line x1="1101.10" y1="991.50" x2="1101.10" y2="1001.50" stroke="#111" stroke-width="3" />
<line x1="1139.50" y1="991.50" x2="1139.50" y2="1009.50" stroke="#111" stroke-width="3" />
<text x="146.50" y="1048.00" font-size="40" fill="#111" >400</text>
<text x="338.50" y="1048.00" font-size="40" fill="#111" >450</text>
<text x="530.10" y="1048.00" font-size="40" fill="#111" >500</text>
<text x="722.10" y="1048.00" font-size="40" fill="#111" >550</text>
<text x="913.90" y="1048.00" font-size="40" fill="#111" >600</text>
<text x="1105.90" y="1048.00" font-size="40" fill="#111" >650</text>
<text x="481.00" y="1116.00" font-size="44" font-weight="bold" textLength="360.19" lengthAdjust="spacingAndGlyphs" fill="#111" >Wavelength (nm)</text>
<text transform="translate(109.00,682.00) rotate(-90)" x="-1.19" y="0" font-size="48" font-weight="bold" textLength="375.59" lengthAdjust="spacingAndGlyphs" fill="#111">Absorbance (au)</text>
<text x="66.64" y="106.00" font-size="84" font-weight="bold" textLength="43.66" lengthAdjust="spacingAndGlyphs" fill="#111" >a</text>
<text x="860.18" y="121.00" font-size="40" textLength="194.51" lengthAdjust="spacingAndGlyphs" fill="#222" >Time (min)</text>
<line x1="898.00" y1="162.30" x2="984.50" y2="162.30" stroke="#111111" stroke-width="2.6" />
<text x="995.40" y="173.80" font-size="40" fill="#111" >0</text>
<line x1="898.00" y1="212.60" x2="984.50" y2="212.60" stroke="#e05a5a" stroke-width="2.6" />
<text x="996.00" y="224.10" font-size="40" fill="#111" >10</text>
<line x1="898.00" y1="262.90" x2="984.50" y2="262.90" stroke="#4a55b5" stroke-width="2.6" />
<text x="997.00" y="274.40" font-size="40" fill="#111" >20</text>
<line x1="898.00" y1="313.20" x2="984.50" y2="313.20" stroke="#c050c8" stroke-width="2.6" />
<text x="997.40" y="324.70" font-size="40" fill="#111" >30</text>
<line x1="898.00" y1="363.50" x2="984.50" y2="363.50" stroke="#2f8f3a" stroke-width="2.6" />
<text x="998.20" y="375.00" font-size="40" fill="#111" >40</text>
<line x1="898.00" y1="413.80" x2="984.50" y2="413.80" stroke="#50508a" stroke-width="2.6" />
<text x="997.40" y="425.30" font-size="40" fill="#111" >50</text>
<line x1="898.00" y1="464.10" x2="984.50" y2="464.10" stroke="#6a3ed0" stroke-width="2.6" />
<text x="997.00" y="475.60" font-size="40" fill="#111" >60</text>
<line x1="898.00" y1="514.40" x2="984.50" y2="514.40" stroke="#7a2a8a" stroke-width="2.6" />
<text x="997.00" y="525.90" font-size="40" fill="#111" >70</text>
<line x1="898.00" y1="564.70" x2="984.50" y2="564.70" stroke="#5a2626" stroke-width="2.6" />
<text x="997.20" y="576.20" font-size="40" fill="#111" >90</text>
<line x1="863.50" y1="160.00" x2="863.50" y2="548.00" stroke="#111" stroke-width="2.2" />
<path d="M858.5,544 L868.5,544 L863.5,564 Z" fill="#111"/>
<g clip-path="url(#cb)">
<path d="M1352.5,976.1 L1354.5,976.1 L1356.4,976.1 L1358.4,976.2 L1360.4,976.2 L1362.4,976.3 L1364.3,976.3 L1366.3,976.4 L1368.3,976.4 L1370.2,976.5 L1372.2,976.5 L1374.2,976.6 L1376.1,976.6 L1378.1,976.7 L1380.1,976.7 L1382.1,976.8 L1384.0,976.8 L1386.0,976.9 L1388.0,976.9 L1389.9,976.9 L1391.9,977.0 L1393.9,977.0 L1395.8,977.0 L1397.8,977.1 L1399.8,977.1 L1401.8,977.2 L1403.7,977.2 L1405.7,977.2 L1407.7,977.3 L1409.6,977.3 L1411.6,977.3 L1413.6,977.3 L1415.5,977.4 L1417.5,977.4 L1419.5,977.4 L1421.5,977.4 L1423.4,977.5 L1425.4,977.5 L1427.4,977.5 L1429.3,977.5 L1431.3,977.6 L1433.3,977.6 L1435.2,977.6 L1437.2,977.6 L1439.2,977.6 L1441.2,977.7 L1443.1,977.7 L1445.1,977.7 L1447.1,977.7 L1449.0,977.7 L1451.0,977.8 L1453.0,977.8 L1455.0,977.8 L1456.9,977.8 L1458.9,977.8 L1460.9,977.8 L1462.8,977.8 L1464.8,977.8 L1466.8,977.9 L1468.7,977.9 L1470.7,977.9 L1472.7,977.9 L1474.7,977.9 L1476.6,977.9 L1478.6,977.9 L1480.6,977.9 L1482.5,977.9 L1484.5,977.9 L1486.5,977.9 L1488.4,977.9 L1490.4,978.0 L1492.4,978.0 L1494.4,978.0 L1496.3,978.0 L1498.3,978.0 L1500.3,978.0 L1502.2,978.0 L1504.2,978.0 L1506.2,978.0 L1508.1,978.0 L1510.1,978.0 L1512.1,978.0 L1514.1,978.0 L1516.0,978.0 L1518.0,978.0 L1520.0,978.0 L1521.9,978.0 L1523.9,978.0 L1525.9,978.0 L1527.8,978.0 L1529.8,978.0 L1531.8,978.0 L1533.8,978.0 L1535.7,978.0 L1537.7,978.0 L1539.7,978.0 L1541.6,978.0 L1543.6,978.0 L1545.6,978.0 L1547.5,978.0 L1549.5,978.0 L1551.5,978.0 L1553.5,978.0 L1555.4,978.0 L1557.4,977.9 L1559.4,977.9 L1561.3,977.9 L1563.3,977.8 L1565.3,977.8 L1567.3,977.8 L1569.2,977.7 L1571.2,977.7 L1573.2,977.6 L1575.1,977.5 L1577.1,977.5 L1579.1,977.4 L1581.0,977.3 L1583.0,977.2 L1585.0,977.1 L1587.0,977.1 L1588.9,977.0 L1590.9,976.9 L1592.9,976.8 L1594.8,976.7 L1596.8,976.6 L1598.8,976.5 L1600.7,976.3 L1602.7,976.2 L1604.7,976.1 L1606.7,976.0 L1608.6,975.9 L1610.6,975.8 L1612.6,975.6 L1614.5,975.5 L1616.5,975.4 L1618.5,975.2 L1620.4,975.1 L1622.4,975.0 L1624.4,974.8 L1626.4,974.7 L1628.3,974.6 L1630.3,974.4 L1632.3,974.3 L1634.2,974.2 L1636.2,974.0 L1638.2,973.9 L1640.1,973.7 L1642.1,973.6 L1644.1,973.5 L1646.1,973.3 L1648.0,973.2 L1650.0,973.0 L1652.0,972.9 L1653.9,972.7 L1655.9,972.6 L1657.9,972.4 L1659.9,972.2 L1661.8,972.1 L1663.8,971.9 L1665.8,971.7 L1667.7,971.5 L1669.7,971.3 L1671.7,971.1 L1673.6,970.9 L1675.6,970.7 L1677.6,970.4 L1679.6,970.2 L1681.5,970.0 L1683.5,969.8 L1685.5,969.5 L1687.4,969.3 L1689.4,969.0 L1691.4,968.8 L1693.3,968.5 L1695.3,968.3 L1697.3,968.0 L1699.3,967.8 L1701.2,967.5 L1703.2,967.2 L1705.2,967.0 L1707.1,966.7 L1709.1,966.4 L1711.1,966.1 L1713.0,965.9 L1715.0,965.6 L1717.0,965.3 L1719.0,965.0 L1720.9,964.7 L1722.9,964.5 L1724.9,964.2 L1726.8,963.9 L1728.8,963.6 L1730.8,963.3 L1732.7,963.1 L1734.7,962.8 L1736.7,962.5 L1738.7,962.2 L1740.6,961.9 L1742.6,961.6 L1744.6,961.4 L1746.5,961.1 L1748.5,960.8 L1750.5,960.5 L1752.5,960.3 L1754.4,960.0 L1756.4,959.7 L1758.4,959.4 L1760.3,959.1 L1762.3,958.9 L1764.3,958.6 L1766.2,958.3 L1768.2,958.0 L1770.2,957.7 L1772.2,957.4 L1774.1,957.1 L1776.1,956.8 L1778.1,956.5 L1780.0,956.2 L1782.0,955.9 L1784.0,955.6 L1785.9,955.3 L1787.9,955.0 L1789.9,954.7 L1791.9,954.4 L1793.8,954.1 L1795.8,953.8 L1797.8,953.5 L1799.7,953.2 L1801.7,952.9 L1803.7,952.5 L1805.6,952.2 L1807.6,951.9 L1809.6,951.6 L1811.6,951.3 L1813.5,951.0 L1815.5,950.7 L1817.5,950.4 L1819.4,950.1 L1821.4,949.8 L1823.4,949.5 L1825.3,949.2 L1827.3,948.9 L1829.3,948.6 L1831.3,948.3 L1833.2,948.0 L1835.2,947.6 L1837.2,947.3 L1839.1,946.9 L1841.1,946.5 L1843.1,946.1 L1845.0,945.7 L1847.0,945.3 L1849.0,944.8 L1851.0,944.4 L1852.9,943.9 L1854.9,943.3 L1856.9,942.8 L1858.8,942.2 L1860.8,941.5 L1862.8,940.8 L1864.8,940.1 L1866.7,939.3 L1868.7,938.5 L1870.7,937.7 L1872.6,936.8 L1874.6,935.9 L1876.6,935.0 L1878.5,934.1 L1880.5,933.1 L1882.5,932.1 L1884.5,931.1 L1886.4,930.1 L1888.4,929.0 L1890.4,928.0 L1892.3,926.9 L1894.3,925.8 L1896.3,924.8 L1898.2,923.7 L1900.2,922.6 L1902.2,921.5 L1904.2,920.3 L1906.1,919.1 L1908.1,917.9 L1910.1,916.6 L1912.0,915.4 L1914.0,914.0 L1916.0,912.7 L1917.9,911.4 L1919.9,910.1 L1921.9,908.9 L1923.9,907.8 L1925.8,906.8 L1927.8,906.0 L1929.8,905.2 L1931.7,904.5 L1933.7,903.9 L1935.7,903.4 L1937.6,902.9 L1939.6,902.5 L1941.6,902.1 L1943.6,901.8 L1945.5,901.4 L1947.5,901.1 L1949.5,900.9 L1951.4,900.7 L1953.4,900.5 L1955.4,900.4 L1957.4,900.4 L1959.3,900.4 L1961.3,900.5 L1963.3,900.8 L1965.2,901.2 L1967.2,901.7 L1969.2,902.4 L1971.1,903.2 L1973.1,904.1 L1975.1,905.1 L1977.1,906.1 L1979.0,907.3 L1981.0,908.6 L1983.0,910.0 L1984.9,911.6 L1986.9,913.2 L1988.9,915.0 L1990.8,916.9 L1992.8,918.8 L1994.8,920.9 L1996.8,923.0 L1998.7,925.1 L2000.7,927.2 L2002.7,929.3 L2004.6,931.4 L2006.6,933.4 L2008.6,935.5 L2010.5,937.5 L2012.5,939.5 L2014.5,941.4 L2016.5,943.4 L2018.4,945.2 L2020.4,947.1 L2022.4,948.9 L2024.3,950.6 L2026.3,952.3 L2028.3,953.9 L2030.2,955.5 L2032.2,957.0 L2034.2,958.5 L2036.2,959.9 L2038.1,961.2 L2040.1,962.5 L2042.1,963.6 L2044.0,964.7 L2046.0,965.7 L2048.0,966.7 L2050.0,967.5 L2051.9,968.3 L2053.9,969.1 L2055.9,969.8 L2057.8,970.5 L2059.8,971.1 L2061.8,971.7 L2063.7,972.3 L2065.7,972.9 L2067.7,973.4 L2069.7,973.9 L2071.6,974.3 L2073.6,974.7 L2075.6,975.1 L2077.5,975.5 L2079.5,975.8 L2081.5,976.1 L2083.4,976.4 L2085.4,976.7 L2087.4,977.0 L2089.4,977.3 L2091.3,977.5 L2093.3,977.8 L2095.3,978.0 L2097.2,978.3 L2099.2,978.5 L2101.2,978.7 L2103.1,978.9 L2105.1,979.1 L2107.1,979.2 L2109.1,979.4 L2111.0,979.5 L2113.0,979.6 L2115.0,979.7 L2116.9,979.8 L2118.9,979.9 L2120.9,980.0 L2122.8,980.0 L2124.8,980.1 L2126.8,980.1 L2128.8,980.2 L2130.7,980.2 L2132.7,980.3 L2134.7,980.3 L2136.6,980.3 L2138.6,980.4 L2140.6,980.4 L2142.6,980.4 L2144.5,980.5 L2146.5,980.5 L2148.5,980.5 L2150.4,980.6 L2152.4,980.6 L2154.4,980.6 L2156.3,980.7 L2158.3,980.7 L2160.3,980.7 L2162.3,980.8 L2164.2,980.8 L2166.2,980.8 L2168.2,980.9 L2170.1,980.9 L2172.1,980.9 L2174.1,980.9 L2176.0,981.0 L2178.0,981.0 L2180.0,981.0 L2182.0,981.1 L2183.9,981.1 L2185.9,981.1 L2187.9,981.1 L2189.8,981.2 L2191.8,981.2 L2193.8,981.2 L2195.7,981.2 L2197.7,981.2 L2199.7,981.3 L2201.7,981.3 L2203.6,981.3 L2205.6,981.3 L2207.6,981.4 L2209.5,981.4 L2211.5,981.4 L2213.5,981.4 L2215.4,981.4 L2217.4,981.5 L2219.4,981.5 L2221.4,981.5 L2223.3,981.5 L2225.3,981.5 L2227.3,981.5 L2229.2,981.6 L2231.2,981.6 L2233.2,981.6 L2235.1,981.6 L2237.1,981.6 L2239.1,981.6 L2241.1,981.7 L2243.0,981.7 L2245.0,981.7 L2247.0,981.7 L2248.9,981.7 L2250.9,981.7 L2252.9,981.7 L2254.9,981.8 L2256.8,981.8 L2258.8,981.8 L2260.8,981.8 L2262.7,981.8 L2264.7,981.8 L2266.7,981.8 L2268.6,981.8 L2270.6,981.8 L2272.6,981.9 L2274.6,981.9 L2276.5,981.9 L2278.5,981.9 L2280.5,981.9 L2282.4,981.9 L2284.4,981.9 L2286.4,981.9 L2288.3,981.9 L2290.3,981.9 L2292.3,981.9 L2294.3,981.9 L2296.2,981.9 L2298.2,981.9 L2300.2,982.0 L2302.1,982.0 L2304.1,982.0 L2306.1,982.0 L2308.0,982.0 L2310.0,982.0 L2312.0,982.0 L2314.0,982.0 L2315.9,982.0 L2317.9,982.0 L2319.9,982.0 L2321.8,982.0 L2323.8,982.0 L2325.8,982.0 L2327.7,982.0 L2329.7,982.0 L2331.7,982.0 L2333.7,982.0 L2335.6,982.0 L2337.6,982.0" fill="none" stroke="#7a2c2c" stroke-width="2.2" stroke-linejoin="round"/>
<path d="M1352.5,972.1 L1354.5,972.1 L1356.4,972.1 L1358.4,972.1 L1360.4,972.2 L1362.4,972.2 L1364.3,972.2 L1366.3,972.2 L1368.3,972.3 L1370.2,972.3 L1372.2,972.3 L1374.2,972.4 L1376.1,972.4 L1378.1,972.4 L1380.1,972.5 L1382.1,972.5 L1384.0,972.5 L1386.0,972.5 L1388.0,972.6 L1389.9,972.6 L1391.9,972.6 L1393.9,972.6 L1395.8,972.7 L1397.8,972.7 L1399.8,972.7 L1401.8,972.7 L1403.7,972.8 L1405.7,972.8 L1407.7,972.8 L1409.6,972.8 L1411.6,972.8 L1413.6,972.9 L1415.5,972.9 L1417.5,972.9 L1419.5,972.9 L1421.5,972.9 L1423.4,972.9 L1425.4,972.9 L1427.4,973.0 L1429.3,973.0 L1431.3,973.0 L1433.3,973.0 L1435.2,973.0 L1437.2,973.0 L1439.2,973.0 L1441.2,973.1 L1443.1,973.1 L1445.1,973.1 L1447.1,973.1 L1449.0,973.1 L1451.0,973.1 L1453.0,973.1 L1455.0,973.1 L1456.9,973.1 L1458.9,973.2 L1460.9,973.2 L1462.8,973.2 L1464.8,973.2 L1466.8,973.2 L1468.7,973.2 L1470.7,973.2 L1472.7,973.2 L1474.7,973.2 L1476.6,973.3 L1478.6,973.3 L1480.6,973.3 L1482.5,973.3 L1484.5,973.3 L1486.5,973.3 L1488.4,973.4 L1490.4,973.4 L1492.4,973.4 L1494.4,973.4 L1496.3,973.4 L1498.3,973.5 L1500.3,973.5 L1502.2,973.5 L1504.2,973.5 L1506.2,973.5 L1508.1,973.5 L1510.1,973.6 L1512.1,973.6 L1514.1,973.6 L1516.0,973.6 L1518.0,973.6 L1520.0,973.6 L1521.9,973.6 L1523.9,973.6 L1525.9,973.6 L1527.8,973.6 L1529.8,973.6 L1531.8,973.6 L1533.8,973.6 L1535.7,973.6 L1537.7,973.6 L1539.7,973.5 L1541.6,973.5 L1543.6,973.5 L1545.6,973.5 L1547.5,973.5 L1549.5,973.5 L1551.5,973.4 L1553.5,973.4 L1555.4,973.4 L1557.4,973.3 L1559.4,973.3 L1561.3,973.2 L1563.3,973.2 L1565.3,973.1 L1567.3,973.0 L1569.2,972.9 L1571.2,972.8 L1573.2,972.7 L1575.1,972.6 L1577.1,972.5 L1579.1,972.4 L1581.0,972.3 L1583.0,972.1 L1585.0,972.0 L1587.0,971.8 L1588.9,971.7 L1590.9,971.5 L1592.9,971.4 L1594.8,971.2 L1596.8,971.0 L1598.8,970.9 L1600.7,970.7 L1602.7,970.5 L1604.7,970.3 L1606.7,970.2 L1608.6,970.0 L1610.6,969.8 L1612.6,969.6 L1614.5,969.4 L1616.5,969.2 L1618.5,969.0 L1620.4,968.8 L1622.4,968.5 L1624.4,968.3 L1626.4,968.1 L1628.3,967.9 L1630.3,967.7 L1632.3,967.5 L1634.2,967.2 L1636.2,967.0 L1638.2,966.8 L1640.1,966.6 L1642.1,966.3 L1644.1,966.1 L1646.1,965.9 L1648.0,965.6 L1650.0,965.4 L1652.0,965.2 L1653.9,964.9 L1655.9,964.7 L1657.9,964.4 L1659.9,964.1 L1661.8,963.8 L1663.8,963.6 L1665.8,963.3 L1667.7,963.0 L1669.7,962.7 L1671.7,962.3 L1673.6,962.0 L1675.6,961.7 L1677.6,961.4 L1679.6,961.0 L1681.5,960.7 L1683.5,960.3 L1685.5,959.9 L1687.4,959.5 L1689.4,959.2 L1691.4,958.8 L1693.3,958.4 L1695.3,958.0 L1697.3,957.6 L1699.3,957.1 L1701.2,956.7 L1703.2,956.3 L1705.2,955.8 L1707.1,955.4 L1709.1,954.9 L1711.1,954.5 L1713.0,954.0 L1715.0,953.6 L1717.0,953.1 L1719.0,952.6 L1720.9,952.1 L1722.9,951.6 L1724.9,951.1 L1726.8,950.6 L1728.8,950.0 L1730.8,949.5 L1732.7,949.0 L1734.7,948.4 L1736.7,947.9 L1738.7,947.3 L1740.6,946.7 L1742.6,946.1 L1744.6,945.5 L1746.5,944.9 L1748.5,944.3 L1750.5,943.6 L1752.5,943.0 L1754.4,942.3 L1756.4,941.6 L1758.4,940.8 L1760.3,940.1 L1762.3,939.4 L1764.3,938.6 L1766.2,937.9 L1768.2,937.1 L1770.2,936.4 L1772.2,935.7 L1774.1,935.0 L1776.1,934.3 L1778.1,933.6 L1780.0,932.9 L1782.0,932.3 L1784.0,931.6 L1785.9,930.9 L1787.9,930.3 L1789.9,929.7 L1791.9,929.0 L1793.8,928.4 L1795.8,927.8 L1797.8,927.2 L1799.7,926.5 L1801.7,925.9 L1803.7,925.4 L1805.6,924.8 L1807.6,924.2 L1809.6,923.7 L1811.6,923.2 L1813.5,922.7 L1815.5,922.2 L1817.5,921.7 L1819.4,921.2 L1821.4,920.8 L1823.4,920.3 L1825.3,919.9 L1827.3,919.4 L1829.3,919.0 L1831.3,918.5 L1833.2,918.0 L1835.2,917.5 L1837.2,917.0 L1839.1,916.5 L1841.1,916.0 L1843.1,915.4 L1845.0,914.8 L1847.0,914.1 L1849.0,913.4 L1851.0,912.7 L1852.9,911.9 L1854.9,911.0 L1856.9,910.1 L1858.8,909.2 L1860.8,908.2 L1862.8,907.1 L1864.8,906.0 L1866.7,904.7 L1868.7,903.4 L1870.7,902.1 L1872.6,900.6 L1874.6,899.1 L1876.6,897.5 L1878.5,895.9 L1880.5,894.2 L1882.5,892.4 L1884.5,890.6 L1886.4,888.6 L1888.4,886.6 L1890.4,884.5 L1892.3,882.3 L1894.3,880.0 L1896.3,877.6 L1898.2,875.3 L1900.2,872.9 L1902.2,870.6 L1904.2,868.4 L1906.1,866.1 L1908.1,863.9 L1910.1,861.7 L1912.0,859.4 L1914.0,857.2 L1916.0,855.0 L1917.9,852.9 L1919.9,850.8 L1921.9,848.8 L1923.9,846.9 L1925.8,845.1 L1927.8,843.4 L1929.8,841.8 L1931.7,840.3 L1933.7,838.9 L1935.7,837.5 L1937.6,836.2 L1939.6,835.0 L1941.6,833.8 L1943.6,832.7 L1945.5,831.7 L1947.5,830.8 L1949.5,830.0 L1951.4,829.4 L1953.4,828.9 L1955.4,828.6 L1957.4,828.5 L1959.3,828.6 L1961.3,828.9 L1963.3,829.5 L1965.2,830.3 L1967.2,831.4 L1969.2,832.6 L1971.1,834.1 L1973.1,835.8 L1975.1,837.6 L1977.1,839.6 L1979.0,841.7 L1981.0,844.0 L1983.0,846.5 L1984.9,849.1 L1986.9,851.9 L1988.9,854.9 L1990.8,858.1 L1992.8,861.5 L1994.8,865.0 L1996.8,868.6 L1998.7,872.2 L2000.7,875.8 L2002.7,879.5 L2004.6,883.0 L2006.6,886.6 L2008.6,890.1 L2010.5,893.6 L2012.5,897.1 L2014.5,900.6 L2016.5,904.1 L2018.4,907.6 L2020.4,911.0 L2022.4,914.3 L2024.3,917.6 L2026.3,920.8 L2028.3,923.9 L2030.2,926.9 L2032.2,929.8 L2034.2,932.6 L2036.2,935.3 L2038.1,937.9 L2040.1,940.3 L2042.1,942.6 L2044.0,944.8 L2046.0,946.8 L2048.0,948.7 L2050.0,950.5 L2051.9,952.2 L2053.9,953.7 L2055.9,955.2 L2057.8,956.6 L2059.8,957.9 L2061.8,959.1 L2063.7,960.2 L2065.7,961.3 L2067.7,962.3 L2069.7,963.3 L2071.6,964.2 L2073.6,965.0 L2075.6,965.8 L2077.5,966.5 L2079.5,967.2 L2081.5,967.9 L2083.4,968.5 L2085.4,969.1 L2087.4,969.6 L2089.4,970.2 L2091.3,970.7 L2093.3,971.1 L2095.3,971.6 L2097.2,972.0 L2099.2,972.4 L2101.2,972.8 L2103.1,973.1 L2105.1,973.4 L2107.1,973.7 L2109.1,974.0 L2111.0,974.2 L2113.0,974.5 L2115.0,974.6 L2116.9,974.8 L2118.9,975.0 L2120.9,975.1 L2122.8,975.2 L2124.8,975.3 L2126.8,975.4 L2128.8,975.5 L2130.7,975.5 L2132.7,975.6 L2134.7,975.7 L2136.6,975.8 L2138.6,975.8 L2140.6,975.9 L2142.6,976.0 L2144.5,976.0 L2146.5,976.1 L2148.5,976.1 L2150.4,976.2 L2152.4,976.2 L2154.4,976.3 L2156.3,976.3 L2158.3,976.4 L2160.3,976.4 L2162.3,976.5 L2164.2,976.5 L2166.2,976.6 L2168.2,976.6 L2170.1,976.7 L2172.1,976.7 L2174.1,976.7 L2176.0,976.8 L2178.0,976.8 L2180.0,976.9 L2182.0,976.9 L2183.9,976.9 L2185.9,977.0 L2187.9,977.0 L2189.8,977.0 L2191.8,977.1 L2193.8,977.1 L2195.7,977.1 L2197.7,977.2 L2199.7,977.2 L2201.7,977.2 L2203.6,977.3 L2205.6,977.3 L2207.6,977.3 L2209.5,977.3 L2211.5,977.4 L2213.5,977.4 L2215.4,977.4 L2217.4,977.4 L2219.4,977.5 L2221.4,977.5 L2223.3,977.5 L2225.3,977.5 L2227.3,977.5 L2229.2,977.6 L2231.2,977.6 L2233.2,977.6 L2235.1,977.6 L2237.1,977.6 L2239.1,977.6 L2241.1,977.7 L2243.0,977.7 L2245.0,977.7 L2247.0,977.7 L2248.9,977.7 L2250.9,977.7 L2252.9,977.8 L2254.9,977.8 L2256.8,977.8 L2258.8,977.8 L2260.8,977.8 L2262.7,977.8 L2264.7,977.8 L2266.7,977.8 L2268.6,977.8 L2270.6,977.9 L2272.6,977.9 L2274.6,977.9 L2276.5,977.9 L2278.5,977.9 L2280.5,977.9 L2282.4,977.9 L2284.4,977.9 L2286.4,977.9 L2288.3,977.9 L2290.3,977.9 L2292.3,978.0 L2294.3,978.0 L2296.2,978.0 L2298.2,978.0 L2300.2,978.0 L2302.1,978.0 L2304.1,978.0 L2306.1,978.0 L2308.0,978.0 L2310.0,978.0 L2312.0,978.0 L2314.0,978.0 L2315.9,978.0 L2317.9,978.0 L2319.9,978.0 L2321.8,978.0 L2323.8,978.0 L2325.8,978.0 L2327.7,978.0 L2329.7,978.0 L2331.7,978.0 L2333.7,978.0 L2335.6,978.0 L2337.6,978.0" fill="none" stroke="#9a40a8" stroke-width="2.2" stroke-linejoin="round"/>
<path d="M1352.5,950.1 L1354.5,950.3 L1356.4,950.4 L1358.4,950.6 L1360.4,950.8 L1362.4,951.0 L1364.3,951.2 L1366.3,951.4 L1368.3,951.6 L1370.2,951.8 L1372.2,952.0 L1374.2,952.2 L1376.1,952.4 L1378.1,952.5 L1380.1,952.7 L1382.1,952.9 L1384.0,953.1 L1386.0,953.3 L1388.0,953.4 L1389.9,953.6 L1391.9,953.8 L1393.9,953.9 L1395.8,954.1 L1397.8,954.3 L1399.8,954.4 L1401.8,954.6 L1403.7,954.8 L1405.7,954.9 L1407.7,955.1 L1409.6,955.2 L1411.6,955.4 L1413.6,955.5 L1415.5,955.7 L1417.5,955.8 L1419.5,956.0 L1421.5,956.1 L1423.4,956.3 L1425.4,956.4 L1427.4,956.5 L1429.3,956.7 L1431.3,956.8 L1433.3,957.0 L1435.2,957.1 L1437.2,957.2 L1439.2,957.4 L1441.2,957.5 L1443.1,957.6 L1445.1,957.8 L1447.1,957.9 L1449.0,958.0 L1451.0,958.1 L1453.0,958.3 L1455.0,958.4 L1456.9,958.5 L1458.9,958.6 L1460.9,958.8 L1462.8,958.9 L1464.8,959.0 L1466.8,959.1 L1468.7,959.2 L1470.7,959.4 L1472.7,959.5 L1474.7,959.6 L1476.6,959.7 L1478.6,959.9 L1480.6,960.0 L1482.5,960.1 L1484.5,960.2 L1486.5,960.4 L1488.4,960.5 L1490.4,960.6 L1492.4,960.8 L1494.4,960.9 L1496.3,961.0 L1498.3,961.2 L1500.3,961.3 L1502.2,961.4 L1504.2,961.5 L1506.2,961.6 L1508.1,961.8 L1510.1,961.9 L1512.1,962.0 L1514.1,962.1 L1516.0,962.2 L1518.0,962.3 L1520.0,962.4 L1521.9,962.5 L1523.9,962.6 L1525.9,962.7 L1527.8,962.7 L1529.8,962.8 L1531.8,962.9 L1533.8,962.9 L1535.7,963.0 L1537.7,963.0 L1539.7,963.1 L1541.6,963.1 L1543.6,963.2 L1545.6,963.2 L1547.5,963.3 L1549.5,963.3 L1551.5,963.3 L1553.5,963.4 L1555.4,963.4 L1557.4,963.4 L1559.4,963.4 L1561.3,963.4 L1563.3,963.4 L1565.3,963.4 L1567.3,963.4 L1569.2,963.3 L1571.2,963.3 L1573.2,963.2 L1575.1,963.1 L1577.1,963.1 L1579.1,963.0 L1581.0,962.9 L1583.0,962.8 L1585.0,962.7 L1587.0,962.5 L1588.9,962.4 L1590.9,962.3 L1592.9,962.1 L1594.8,962.0 L1596.8,961.9 L1598.8,961.7 L1600.7,961.6 L1602.7,961.4 L1604.7,961.3 L1606.7,961.1 L1608.6,960.9 L1610.6,960.7 L1612.6,960.6 L1614.5,960.4 L1616.5,960.2 L1618.5,960.0 L1620.4,959.8 L1622.4,959.6 L1624.4,959.4 L1626.4,959.1 L1628.3,958.9 L1630.3,958.7 L1632.3,958.5 L1634.2,958.3 L1636.2,958.0 L1638.2,957.8 L1640.1,957.6 L1642.1,957.3 L1644.1,957.1 L1646.1,956.9 L1648.0,956.6 L1650.0,956.4 L1652.0,956.1 L1653.9,955.9 L1655.9,955.6 L1657.9,955.3 L1659.9,955.0 L1661.8,954.7 L1663.8,954.4 L1665.8,954.1 L1667.7,953.8 L1669.7,953.5 L1671.7,953.2 L1673.6,952.8 L1675.6,952.5 L1677.6,952.1 L1679.6,951.7 L1681.5,951.3 L1683.5,950.9 L1685.5,950.5 L1687.4,950.1 L1689.4,949.7 L1691.4,949.3 L1693.3,948.8 L1695.3,948.4 L1697.3,947.9 L1699.3,947.4 L1701.2,946.9 L1703.2,946.4 L1705.2,945.9 L1707.1,945.4 L1709.1,944.9 L1711.1,944.4 L1713.0,943.8 L1715.0,943.2 L1717.0,942.7 L1719.0,942.1 L1720.9,941.5 L1722.9,940.9 L1724.9,940.2 L1726.8,939.6 L1728.8,938.9 L1730.8,938.3 L1732.7,937.6 L1734.7,936.9 L1736.7,936.1 L1738.7,935.4 L1740.6,934.6 L1742.6,933.9 L1744.6,933.0 L1746.5,932.2 L1748.5,931.3 L1750.5,930.4 L1752.5,929.5 L1754.4,928.5 L1756.4,927.5 L1758.4,926.5 L1760.3,925.4 L1762.3,924.3 L1764.3,923.3 L1766.2,922.2 L1768.2,921.1 L1770.2,920.1 L1772.2,919.1 L1774.1,918.1 L1776.1,917.1 L1778.1,916.2 L1780.0,915.2 L1782.0,914.3 L1784.0,913.4 L1785.9,912.6 L1787.9,911.7 L1789.9,910.8 L1791.9,910.0 L1793.8,909.2 L1795.8,908.4 L1797.8,907.5 L1799.7,906.7 L1801.7,905.9 L1803.7,905.2 L1805.6,904.4 L1807.6,903.7 L1809.6,903.1 L1811.6,902.4 L1813.5,901.8 L1815.5,901.3 L1817.5,900.7 L1819.4,900.2 L1821.4,899.6 L1823.4,899.1 L1825.3,898.6 L1827.3,898.1 L1829.3,897.6 L1831.3,897.1 L1833.2,896.5 L1835.2,896.0 L1837.2,895.4 L1839.1,894.9 L1841.1,894.2 L1843.1,893.6 L1845.0,892.9 L1847.0,892.1 L1849.0,891.3 L1851.0,890.4 L1852.9,889.5 L1854.9,888.5 L1856.9,887.4 L1858.8,886.3 L1860.8,885.1 L1862.8,883.8 L1864.8,882.4 L1866.7,881.0 L1868.7,879.4 L1870.7,877.7 L1872.6,875.9 L1874.6,874.0 L1876.6,872.1 L1878.5,870.0 L1880.5,867.9 L1882.5,865.6 L1884.5,863.2 L1886.4,860.7 L1888.4,858.0 L1890.4,855.1 L1892.3,852.1 L1894.3,848.9 L1896.3,845.6 L1898.2,842.4 L1900.2,839.2 L1902.2,836.0 L1904.2,833.0 L1906.1,830.0 L1908.1,827.1 L1910.1,824.3 L1912.0,821.5 L1914.0,818.8 L1916.0,816.1 L1917.9,813.4 L1919.9,810.9 L1921.9,808.4 L1923.9,806.0 L1925.8,803.6 L1927.8,801.4 L1929.8,799.2 L1931.7,797.1 L1933.7,795.1 L1935.7,793.1 L1937.6,791.1 L1939.6,789.3 L1941.6,787.5 L1943.6,785.8 L1945.5,784.3 L1947.5,782.9 L1949.5,781.7 L1951.4,780.8 L1953.4,780.0 L1955.4,779.6 L1957.4,779.4 L1959.3,779.6 L1961.3,780.1 L1963.3,780.9 L1965.2,782.0 L1967.2,783.4 L1969.2,785.1 L1971.1,787.1 L1973.1,789.3 L1975.1,791.7 L1977.1,794.3 L1979.0,797.0 L1981.0,800.0 L1983.0,803.1 L1984.9,806.4 L1986.9,810.0 L1988.9,813.8 L1990.8,817.8 L1992.8,822.0 L1994.8,826.5 L1996.8,831.0 L1998.7,835.6 L2000.7,840.2 L2002.7,844.8 L2004.6,849.3 L2006.6,853.8 L2008.6,858.3 L2010.5,862.8 L2012.5,867.3 L2014.5,871.8 L2016.5,876.3 L2018.4,880.8 L2020.4,885.3 L2022.4,889.7 L2024.3,894.1 L2026.3,898.3 L2028.3,902.4 L2030.2,906.3 L2032.2,910.2 L2034.2,913.9 L2036.2,917.5 L2038.1,920.9 L2040.1,924.2 L2042.1,927.3 L2044.0,930.3 L2046.0,933.0 L2048.0,935.6 L2050.0,938.1 L2051.9,940.3 L2053.9,942.5 L2055.9,944.5 L2057.8,946.3 L2059.8,948.1 L2061.8,949.7 L2063.7,951.3 L2065.7,952.7 L2067.7,954.1 L2069.7,955.4 L2071.6,956.6 L2073.6,957.7 L2075.6,958.8 L2077.5,959.8 L2079.5,960.8 L2081.5,961.7 L2083.4,962.5 L2085.4,963.3 L2087.4,964.1 L2089.4,964.8 L2091.3,965.4 L2093.3,966.0 L2095.3,966.6 L2097.2,967.2 L2099.2,967.7 L2101.2,968.2 L2103.1,968.7 L2105.1,969.1 L2107.1,969.5 L2109.1,969.8 L2111.0,970.1 L2113.0,970.4 L2115.0,970.7 L2116.9,970.9 L2118.9,971.1 L2120.9,971.2 L2122.8,971.4 L2124.8,971.5 L2126.8,971.6 L2128.8,971.8 L2130.7,971.9 L2132.7,972.0 L2134.7,972.1 L2136.6,972.2 L2138.6,972.3 L2140.6,972.4 L2142.6,972.5 L2144.5,972.5 L2146.5,972.6 L2148.5,972.7 L2150.4,972.8 L2152.4,972.8 L2154.4,972.9 L2156.3,973.0 L2158.3,973.0 L2160.3,973.1 L2162.3,973.1 L2164.2,973.2 L2166.2,973.2 L2168.2,973.3 L2170.1,973.4 L2172.1,973.4 L2174.1,973.5 L2176.0,973.5 L2178.0,973.5 L2180.0,973.6 L2182.0,973.6 L2183.9,973.7 L2185.9,973.7 L2187.9,973.8 L2189.8,973.8 L2191.8,973.8 L2193.8,973.9 L2195.7,973.9 L2197.7,974.0 L2199.7,974.0 L2201.7,974.0 L2203.6,974.1 L2205.6,974.1 L2207.6,974.1 L2209.5,974.2 L2211.5,974.2 L2213.5,974.2 L2215.4,974.2 L2217.4,974.3 L2219.4,974.3 L2221.4,974.3 L2223.3,974.3 L2225.3,974.4 L2227.3,974.4 L2229.2,974.4 L2231.2,974.4 L2233.2,974.4 L2235.1,974.5 L2237.1,974.5 L2239.1,974.5 L2241.1,974.5 L2243.0,974.5 L2245.0,974.5 L2247.0,974.6 L2248.9,974.6 L2250.9,974.6 L2252.9,974.6 L2254.9,974.6 L2256.8,974.6 L2258.8,974.6 L2260.8,974.7 L2262.7,974.7 L2264.7,974.7 L2266.7,974.7 L2268.6,974.7 L2270.6,974.7 L2272.6,974.7 L2274.6,974.7 L2276.5,974.7 L2278.5,974.8 L2280.5,974.8 L2282.4,974.8 L2284.4,974.8 L2286.4,974.8 L2288.3,974.8 L2290.3,974.8 L2292.3,974.8 L2294.3,974.8 L2296.2,974.8 L2298.2,974.8 L2300.2,974.8 L2302.1,974.8 L2304.1,974.9 L2306.1,974.9 L2308.0,974.9 L2310.0,974.9 L2312.0,974.9 L2314.0,974.9 L2315.9,974.9 L2317.9,974.9 L2319.9,974.9 L2321.8,974.9 L2323.8,974.9 L2325.8,974.9 L2327.7,974.9 L2329.7,974.9 L2331.7,974.9 L2333.7,974.9 L2335.6,974.9 L2337.6,974.9" fill="none" stroke="#8050e0" stroke-width="2.2" stroke-linejoin="round"/>
<path d="M1352.5,943.1 L1354.5,943.3 L1356.4,943.4 L1358.4,943.6 L1360.4,943.8 L1362.4,944.0 L1364.3,944.2 L1366.3,944.4 L1368.3,944.6 L1370.2,944.8 L1372.2,945.0 L1374.2,945.2 L1376.1,945.4 L1378.1,945.6 L1380.1,945.8 L1382.1,945.9 L1384.0,946.1 L1386.0,946.3 L1388.0,946.5 L1389.9,946.7 L1391.9,946.8 L1393.9,947.0 L1395.8,947.2 L1397.8,947.4 L1399.8,947.5 L1401.8,947.7 L1403.7,947.9 L1405.7,948.0 L1407.7,948.2 L1409.6,948.4 L1411.6,948.5 L1413.6,948.7 L1415.5,948.8 L1417.5,949.0 L1419.5,949.2 L1421.5,949.3 L1423.4,949.5 L1425.4,949.6 L1427.4,949.8 L1429.3,949.9 L1431.3,950.1 L1433.3,950.2 L1435.2,950.4 L1437.2,950.5 L1439.2,950.6 L1441.2,950.8 L1443.1,950.9 L1445.1,951.1 L1447.1,951.2 L1449.0,951.4 L1451.0,951.5 L1453.0,951.6 L1455.0,951.8 L1456.9,951.9 L1458.9,952.0 L1460.9,952.2 L1462.8,952.3 L1464.8,952.5 L1466.8,952.6 L1468.7,952.7 L1470.7,952.9 L1472.7,953.0 L1474.7,953.1 L1476.6,953.3 L1478.6,953.4 L1480.6,953.6 L1482.5,953.7 L1484.5,953.9 L1486.5,954.1 L1488.4,954.2 L1490.4,954.4 L1492.4,954.5 L1494.4,954.7 L1496.3,954.8 L1498.3,955.0 L1500.3,955.2 L1502.2,955.3 L1504.2,955.5 L1506.2,955.6 L1508.1,955.7 L1510.1,955.9 L1512.1,956.0 L1514.1,956.1 L1516.0,956.3 L1518.0,956.4 L1520.0,956.5 L1521.9,956.6 L1523.9,956.7 L1525.9,956.8 L1527.8,956.9 L1529.8,957.0 L1531.8,957.0 L1533.8,957.1 L1535.7,957.2 L1537.7,957.2 L1539.7,957.3 L1541.6,957.3 L1543.6,957.4 L1545.6,957.4 L1547.5,957.4 L1549.5,957.5 L1551.5,957.5 L1553.5,957.6 L1555.4,957.6 L1557.4,957.6 L1559.4,957.6 L1561.3,957.6 L1563.3,957.6 L1565.3,957.6 L1567.3,957.5 L1569.2,957.5 L1571.2,957.4 L1573.2,957.3 L1575.1,957.2 L1577.1,957.1 L1579.1,957.0 L1581.0,956.9 L1583.0,956.8 L1585.0,956.6 L1587.0,956.5 L1588.9,956.4 L1590.9,956.2 L1592.9,956.1 L1594.8,955.9 L1596.8,955.7 L1598.8,955.6 L1600.7,955.4 L1602.7,955.2 L1604.7,955.0 L1606.7,954.8 L1608.6,954.6 L1610.6,954.4 L1612.6,954.2 L1614.5,954.0 L1616.5,953.8 L1618.5,953.6 L1620.4,953.3 L1622.4,953.1 L1624.4,952.8 L1626.4,952.6 L1628.3,952.3 L1630.3,952.1 L1632.3,951.8 L1634.2,951.6 L1636.2,951.3 L1638.2,951.0 L1640.1,950.8 L1642.1,950.5 L1644.1,950.2 L1646.1,949.9 L1648.0,949.7 L1650.0,949.4 L1652.0,949.1 L1653.9,948.8 L1655.9,948.5 L1657.9,948.1 L1659.9,947.8 L1661.8,947.5 L1663.8,947.1 L1665.8,946.8 L1667.7,946.4 L1669.7,946.0 L1671.7,945.6 L1673.6,945.2 L1675.6,944.8 L1677.6,944.4 L1679.6,944.0 L1681.5,943.6 L1683.5,943.1 L1685.5,942.6 L1687.4,942.2 L1689.4,941.7 L1691.4,941.2 L1693.3,940.7 L1695.3,940.1 L1697.3,939.6 L1699.3,939.0 L1701.2,938.5 L1703.2,937.9 L1705.2,937.3 L1707.1,936.7 L1709.1,936.1 L1711.1,935.4 L1713.0,934.8 L1715.0,934.1 L1717.0,933.4 L1719.0,932.7 L1720.9,932.0 L1722.9,931.3 L1724.9,930.5 L1726.8,929.7 L1728.8,928.9 L1730.8,928.1 L1732.7,927.2 L1734.7,926.3 L1736.7,925.4 L1738.7,924.5 L1740.6,923.5 L1742.6,922.5 L1744.6,921.5 L1746.5,920.4 L1748.5,919.3 L1750.5,918.1 L1752.5,916.9 L1754.4,915.7 L1756.4,914.3 L1758.4,912.9 L1760.3,911.5 L1762.3,910.1 L1764.3,908.7 L1766.2,907.3 L1768.2,905.9 L1770.2,904.5 L1772.2,903.2 L1774.1,901.9 L1776.1,900.6 L1778.1,899.4 L1780.0,898.2 L1782.0,897.0 L1784.0,895.9 L1785.9,894.8 L1787.9,893.7 L1789.9,892.6 L1791.9,891.6 L1793.8,890.5 L1795.8,889.5 L1797.8,888.5 L1799.7,887.5 L1801.7,886.5 L1803.7,885.5 L1805.6,884.6 L1807.6,883.8 L1809.6,883.0 L1811.6,882.2 L1813.5,881.5 L1815.5,880.8 L1817.5,880.2 L1819.4,879.5 L1821.4,878.9 L1823.4,878.3 L1825.3,877.8 L1827.3,877.2 L1829.3,876.6 L1831.3,876.0 L1833.2,875.5 L1835.2,874.9 L1837.2,874.3 L1839.1,873.6 L1841.1,872.9 L1843.1,872.2 L1845.0,871.4 L1847.0,870.5 L1849.0,869.6 L1851.0,868.6 L1852.9,867.5 L1854.9,866.3 L1856.9,865.1 L1858.8,863.8 L1860.8,862.5 L1862.8,861.0 L1864.8,859.4 L1866.7,857.7 L1868.7,855.8 L1870.7,853.8 L1872.6,851.7 L1874.6,849.5 L1876.6,847.1 L1878.5,844.7 L1880.5,842.1 L1882.5,839.3 L1884.5,836.4 L1886.4,833.3 L1888.4,830.0 L1890.4,826.4 L1892.3,822.5 L1894.3,818.5 L1896.3,814.3 L1898.2,810.2 L1900.2,806.1 L1902.2,802.1 L1904.2,798.3 L1906.1,794.7 L1908.1,791.2 L1910.1,787.8 L1912.0,784.4 L1914.0,781.2 L1916.0,778.0 L1917.9,774.9 L1919.9,771.9 L1921.9,768.9 L1923.9,766.0 L1925.8,763.2 L1927.8,760.4 L1929.8,757.7 L1931.7,755.0 L1933.7,752.3 L1935.7,749.7 L1937.6,747.1 L1939.6,744.6 L1941.6,742.2 L1943.6,740.0 L1945.5,737.9 L1947.5,736.1 L1949.5,734.5 L1951.4,733.2 L1953.4,732.2 L1955.4,731.6 L1957.4,731.4 L1959.3,731.6 L1961.3,732.2 L1963.3,733.2 L1965.2,734.6 L1967.2,736.4 L1969.2,738.5 L1971.1,741.0 L1973.1,743.7 L1975.1,746.6 L1977.1,749.7 L1979.0,753.1 L1981.0,756.6 L1983.0,760.4 L1984.9,764.3 L1986.9,768.6 L1988.9,773.1 L1990.8,777.9 L1992.8,783.0 L1994.8,788.2 L1996.8,793.6 L1998.7,799.1 L2000.7,804.7 L2002.7,810.2 L2004.6,815.6 L2006.6,821.0 L2008.6,826.4 L2010.5,831.7 L2012.5,837.1 L2014.5,842.6 L2016.5,848.0 L2018.4,853.6 L2020.4,859.1 L2022.4,864.5 L2024.3,869.9 L2026.3,875.1 L2028.3,880.1 L2030.2,885.0 L2032.2,889.7 L2034.2,894.3 L2036.2,898.8 L2038.1,903.0 L2040.1,907.1 L2042.1,911.0 L2044.0,914.7 L2046.0,918.2 L2048.0,921.4 L2050.0,924.5 L2051.9,927.3 L2053.9,930.0 L2055.9,932.5 L2057.8,934.9 L2059.8,937.1 L2061.8,939.1 L2063.7,941.0 L2065.7,942.8 L2067.7,944.6 L2069.7,946.2 L2071.6,947.7 L2073.6,949.1 L2075.6,950.5 L2077.5,951.8 L2079.5,953.0 L2081.5,954.1 L2083.4,955.2 L2085.4,956.1 L2087.4,957.1 L2089.4,957.9 L2091.3,958.7 L2093.3,959.5 L2095.3,960.2 L2097.2,960.9 L2099.2,961.5 L2101.2,962.1 L2103.1,962.7 L2105.1,963.2 L2107.1,963.7 L2109.1,964.1 L2111.0,964.5 L2113.0,964.8 L2115.0,965.1 L2116.9,965.4 L2118.9,965.6 L2120.9,965.8 L2122.8,966.0 L2124.8,966.2 L2126.8,966.3 L2128.8,966.5 L2130.7,966.6 L2132.7,966.7 L2134.7,966.9 L2136.6,967.0 L2138.6,967.1 L2140.6,967.2 L2142.6,967.3 L2144.5,967.4 L2146.5,967.5 L2148.5,967.6 L2150.4,967.7 L2152.4,967.8 L2154.4,967.8 L2156.3,967.9 L2158.3,968.0 L2160.3,968.0 L2162.3,968.1 L2164.2,968.2 L2166.2,968.2 L2168.2,968.3 L2170.1,968.3 L2172.1,968.4 L2174.1,968.5 L2176.0,968.5 L2178.0,968.6 L2180.0,968.6 L2182.0,968.7 L2183.9,968.7 L2185.9,968.8 L2187.9,968.8 L2189.8,968.8 L2191.8,968.9 L2193.8,968.9 L2195.7,969.0 L2197.7,969.0 L2199.7,969.0 L2201.7,969.1 L2203.6,969.1 L2205.6,969.1 L2207.6,969.2 L2209.5,969.2 L2211.5,969.2 L2213.5,969.3 L2215.4,969.3 L2217.4,969.3 L2219.4,969.3 L2221.4,969.4 L2223.3,969.4 L2225.3,969.4 L2227.3,969.4 L2229.2,969.4 L2231.2,969.5 L2233.2,969.5 L2235.1,969.5 L2237.1,969.5 L2239.1,969.5 L2241.1,969.5 L2243.0,969.6 L2245.0,969.6 L2247.0,969.6 L2248.9,969.6 L2250.9,969.6 L2252.9,969.6 L2254.9,969.6 L2256.8,969.7 L2258.8,969.7 L2260.8,969.7 L2262.7,969.7 L2264.7,969.7 L2266.7,969.7 L2268.6,969.7 L2270.6,969.7 L2272.6,969.7 L2274.6,969.7 L2276.5,969.8 L2278.5,969.8 L2280.5,969.8 L2282.4,969.8 L2284.4,969.8 L2286.4,969.8 L2288.3,969.8 L2290.3,969.8 L2292.3,969.8 L2294.3,969.8 L2296.2,969.8 L2298.2,969.8 L2300.2,969.8 L2302.1,969.9 L2304.1,969.9 L2306.1,969.9 L2308.0,969.9 L2310.0,969.9 L2312.0,969.9 L2314.0,969.9 L2315.9,969.9 L2317.9,969.9 L2319.9,969.9 L2321.8,969.9 L2323.8,969.9 L2325.8,969.9 L2327.7,969.9 L2329.7,969.9 L2331.7,969.9 L2333.7,969.9 L2335.6,969.9 L2337.6,969.9" fill="none" stroke="#2c2c6a" stroke-width="2.2" stroke-linejoin="round"/>
<path d="M1352.5,948.1 L1354.5,948.2 L1356.4,948.4 L1358.4,948.5 L1360.4,948.7 L1362.4,948.8 L1364.3,949.0 L1366.3,949.1 L1368.3,949.3 L1370.2,949.4 L1372.2,949.6 L1374.2,949.7 L1376.1,949.9 L1378.1,950.0 L1380.1,950.2 L1382.1,950.3 L1384.0,950.5 L1386.0,950.6 L1388.0,950.8 L1389.9,950.9 L1391.9,951.0 L1393.9,951.2 L1395.8,951.3 L1397.8,951.5 L1399.8,951.6 L1401.8,951.7 L1403.7,951.9 L1405.7,952.0 L1407.7,952.2 L1409.6,952.3 L1411.6,952.4 L1413.6,952.6 L1415.5,952.7 L1417.5,952.8 L1419.5,952.9 L1421.5,953.1 L1423.4,953.2 L1425.4,953.3 L1427.4,953.5 L1429.3,953.6 L1431.3,953.7 L1433.3,953.8 L1435.2,954.0 L1437.2,954.1 L1439.2,954.2 L1441.2,954.3 L1443.1,954.4 L1445.1,954.6 L1447.1,954.7 L1449.0,954.8 L1451.0,954.9 L1453.0,955.0 L1455.0,955.2 L1456.9,955.3 L1458.9,955.4 L1460.9,955.5 L1462.8,955.7 L1464.8,955.8 L1466.8,955.9 L1468.7,956.0 L1470.7,956.1 L1472.7,956.3 L1474.7,956.4 L1476.6,956.5 L1478.6,956.7 L1480.6,956.8 L1482.5,957.0 L1484.5,957.1 L1486.5,957.3 L1488.4,957.4 L1490.4,957.6 L1492.4,957.8 L1494.4,957.9 L1496.3,958.1 L1498.3,958.2 L1500.3,958.4 L1502.2,958.5 L1504.2,958.7 L1506.2,958.8 L1508.1,959.0 L1510.1,959.1 L1512.1,959.2 L1514.1,959.4 L1516.0,959.5 L1518.0,959.6 L1520.0,959.7 L1521.9,959.8 L1523.9,959.9 L1525.9,960.0 L1527.8,960.1 L1529.8,960.1 L1531.8,960.2 L1533.8,960.2 L1535.7,960.3 L1537.7,960.3 L1539.7,960.3 L1541.6,960.4 L1543.6,960.4 L1545.6,960.4 L1547.5,960.4 L1549.5,960.5 L1551.5,960.5 L1553.5,960.5 L1555.4,960.5 L1557.4,960.5 L1559.4,960.5 L1561.3,960.5 L1563.3,960.4 L1565.3,960.4 L1567.3,960.3 L1569.2,960.2 L1571.2,960.1 L1573.2,960.0 L1575.1,959.9 L1577.1,959.8 L1579.1,959.6 L1581.0,959.5 L1583.0,959.3 L1585.0,959.2 L1587.0,959.0 L1588.9,958.8 L1590.9,958.6 L1592.9,958.4 L1594.8,958.2 L1596.8,958.0 L1598.8,957.8 L1600.7,957.6 L1602.7,957.4 L1604.7,957.2 L1606.7,957.0 L1608.6,956.7 L1610.6,956.5 L1612.6,956.2 L1614.5,956.0 L1616.5,955.7 L1618.5,955.4 L1620.4,955.1 L1622.4,954.9 L1624.4,954.6 L1626.4,954.3 L1628.3,954.0 L1630.3,953.7 L1632.3,953.4 L1634.2,953.1 L1636.2,952.8 L1638.2,952.4 L1640.1,952.1 L1642.1,951.8 L1644.1,951.5 L1646.1,951.2 L1648.0,950.8 L1650.0,950.5 L1652.0,950.1 L1653.9,949.8 L1655.9,949.4 L1657.9,949.0 L1659.9,948.7 L1661.8,948.3 L1663.8,947.9 L1665.8,947.4 L1667.7,947.0 L1669.7,946.6 L1671.7,946.2 L1673.6,945.7 L1675.6,945.2 L1677.6,944.8 L1679.6,944.3 L1681.5,943.8 L1683.5,943.3 L1685.5,942.7 L1687.4,942.2 L1689.4,941.6 L1691.4,941.1 L1693.3,940.5 L1695.3,939.9 L1697.3,939.3 L1699.3,938.6 L1701.2,938.0 L1703.2,937.3 L1705.2,936.6 L1707.1,935.9 L1709.1,935.2 L1711.1,934.5 L1713.0,933.7 L1715.0,932.9 L1717.0,932.1 L1719.0,931.3 L1720.9,930.5 L1722.9,929.6 L1724.9,928.7 L1726.8,927.8 L1728.8,926.8 L1730.8,925.8 L1732.7,924.8 L1734.7,923.8 L1736.7,922.7 L1738.7,921.6 L1740.6,920.5 L1742.6,919.3 L1744.6,918.1 L1746.5,916.8 L1748.5,915.4 L1750.5,914.0 L1752.5,912.6 L1754.4,911.0 L1756.4,909.4 L1758.4,907.7 L1760.3,906.0 L1762.3,904.3 L1764.3,902.5 L1766.2,900.8 L1768.2,899.1 L1770.2,897.5 L1772.2,895.9 L1774.1,894.3 L1776.1,892.8 L1778.1,891.3 L1780.0,889.9 L1782.0,888.5 L1784.0,887.1 L1785.9,885.8 L1787.9,884.5 L1789.9,883.2 L1791.9,882.0 L1793.8,880.7 L1795.8,879.5 L1797.8,878.3 L1799.7,877.1 L1801.7,876.0 L1803.7,874.9 L1805.6,873.8 L1807.6,872.8 L1809.6,871.9 L1811.6,871.0 L1813.5,870.2 L1815.5,869.4 L1817.5,868.7 L1819.4,868.0 L1821.4,867.3 L1823.4,866.6 L1825.3,866.0 L1827.3,865.3 L1829.3,864.7 L1831.3,864.1 L1833.2,863.4 L1835.2,862.8 L1837.2,862.1 L1839.1,861.4 L1841.1,860.6 L1843.1,859.8 L1845.0,858.9 L1847.0,857.9 L1849.0,856.9 L1851.0,855.7 L1852.9,854.5 L1854.9,853.2 L1856.9,851.8 L1858.8,850.4 L1860.8,848.8 L1862.8,847.2 L1864.8,845.4 L1866.7,843.4 L1868.7,841.3 L1870.7,839.1 L1872.6,836.7 L1874.6,834.1 L1876.6,831.4 L1878.5,828.5 L1880.5,825.6 L1882.5,822.4 L1884.5,819.0 L1886.4,815.4 L1888.4,811.4 L1890.4,807.2 L1892.3,802.6 L1894.3,797.8 L1896.3,792.9 L1898.2,787.9 L1900.2,783.1 L1902.2,778.5 L1904.2,774.0 L1906.1,769.7 L1908.1,765.6 L1910.1,761.7 L1912.0,757.9 L1914.0,754.2 L1916.0,750.5 L1917.9,747.0 L1919.9,743.5 L1921.9,740.2 L1923.9,736.8 L1925.8,733.6 L1927.8,730.3 L1929.8,727.1 L1931.7,723.9 L1933.7,720.7 L1935.7,717.5 L1937.6,714.4 L1939.6,711.3 L1941.6,708.4 L1943.6,705.6 L1945.5,703.1 L1947.5,700.8 L1949.5,698.9 L1951.4,697.3 L1953.4,696.1 L1955.4,695.4 L1957.4,695.2 L1959.3,695.4 L1961.3,696.1 L1963.3,697.3 L1965.2,699.0 L1967.2,701.1 L1969.2,703.6 L1971.1,706.4 L1973.1,709.5 L1975.1,713.0 L1977.1,716.6 L1979.0,720.5 L1981.0,724.5 L1983.0,728.8 L1984.9,733.4 L1986.9,738.3 L1988.9,743.5 L1990.8,749.0 L1992.8,754.7 L1994.8,760.8 L1996.8,767.0 L1998.7,773.3 L2000.7,779.6 L2002.7,786.0 L2004.6,792.2 L2006.6,798.4 L2008.6,804.6 L2010.5,810.8 L2012.5,817.0 L2014.5,823.3 L2016.5,829.6 L2018.4,836.0 L2020.4,842.5 L2022.4,848.8 L2024.3,855.1 L2026.3,861.1 L2028.3,867.0 L2030.2,872.7 L2032.2,878.2 L2034.2,883.6 L2036.2,888.8 L2038.1,893.8 L2040.1,898.6 L2042.1,903.1 L2044.0,907.5 L2046.0,911.6 L2048.0,915.4 L2050.0,919.0 L2051.9,922.4 L2053.9,925.6 L2055.9,928.5 L2057.8,931.3 L2059.8,933.8 L2061.8,936.2 L2063.7,938.5 L2065.7,940.6 L2067.7,942.6 L2069.7,944.5 L2071.6,946.3 L2073.6,948.0 L2075.6,949.6 L2077.5,951.1 L2079.5,952.5 L2081.5,953.9 L2083.4,955.1 L2085.4,956.3 L2087.4,957.4 L2089.4,958.4 L2091.3,959.3 L2093.3,960.2 L2095.3,961.0 L2097.2,961.8 L2099.2,962.5 L2101.2,963.2 L2103.1,963.9 L2105.1,964.5 L2107.1,965.0 L2109.1,965.5 L2111.0,965.9 L2113.0,966.3 L2115.0,966.7 L2116.9,967.0 L2118.9,967.2 L2120.9,967.5 L2122.8,967.7 L2124.8,967.9 L2126.8,968.1 L2128.8,968.2 L2130.7,968.4 L2132.7,968.6 L2134.7,968.7 L2136.6,968.8 L2138.6,969.0 L2140.6,969.1 L2142.6,969.2 L2144.5,969.3 L2146.5,969.4 L2148.5,969.5 L2150.4,969.6 L2152.4,969.7 L2154.4,969.8 L2156.3,969.9 L2158.3,970.0 L2160.3,970.1 L2162.3,970.1 L2164.2,970.2 L2166.2,970.3 L2168.2,970.3 L2170.1,970.4 L2172.1,970.4 L2174.1,970.5 L2176.0,970.6 L2178.0,970.6 L2180.0,970.7 L2182.0,970.7 L2183.9,970.8 L2185.9,970.8 L2187.9,970.9 L2189.8,970.9 L2191.8,971.0 L2193.8,971.0 L2195.7,971.0 L2197.7,971.1 L2199.7,971.1 L2201.7,971.2 L2203.6,971.2 L2205.6,971.2 L2207.6,971.3 L2209.5,971.3 L2211.5,971.3 L2213.5,971.4 L2215.4,971.4 L2217.4,971.4 L2219.4,971.4 L2221.4,971.5 L2223.3,971.5 L2225.3,971.5 L2227.3,971.5 L2229.2,971.5 L2231.2,971.5 L2233.2,971.6 L2235.1,971.6 L2237.1,971.6 L2239.1,971.6 L2241.1,971.6 L2243.0,971.6 L2245.0,971.6 L2247.0,971.7 L2248.9,971.7 L2250.9,971.7 L2252.9,971.7 L2254.9,971.7 L2256.8,971.7 L2258.8,971.7 L2260.8,971.7 L2262.7,971.7 L2264.7,971.8 L2266.7,971.8 L2268.6,971.8 L2270.6,971.8 L2272.6,971.8 L2274.6,971.8 L2276.5,971.8 L2278.5,971.8 L2280.5,971.8 L2282.4,971.8 L2284.4,971.8 L2286.4,971.8 L2288.3,971.9 L2290.3,971.9 L2292.3,971.9 L2294.3,971.9 L2296.2,971.9 L2298.2,971.9 L2300.2,971.9 L2302.1,971.9 L2304.1,971.9 L2306.1,971.9 L2308.0,971.9 L2310.0,971.9 L2312.0,971.9 L2314.0,971.9 L2315.9,971.9 L2317.9,971.9 L2319.9,971.9 L2321.8,971.9 L2323.8,971.9 L2325.8,971.9 L2327.7,971.9 L2329.7,971.9 L2331.7,971.9 L2333.7,971.9 L2335.6,971.9 L2337.6,971.9" fill="none" stroke="#2f9040" stroke-width="2.2" stroke-linejoin="round"/>
<path d="M1352.5,940.1 L1354.5,940.2 L1356.4,940.3 L1358.4,940.5 L1360.4,940.6 L1362.4,940.7 L1364.3,940.9 L1366.3,941.0 L1368.3,941.1 L1370.2,941.3 L1372.2,941.4 L1374.2,941.6 L1376.1,941.7 L1378.1,941.8 L1380.1,942.0 L1382.1,942.1 L1384.0,942.3 L1386.0,942.4 L1388.0,942.5 L1389.9,942.7 L1391.9,942.8 L1393.9,942.9 L1395.8,943.1 L1397.8,943.2 L1399.8,943.3 L1401.8,943.5 L1403.7,943.6 L1405.7,943.7 L1407.7,943.9 L1409.6,944.0 L1411.6,944.1 L1413.6,944.3 L1415.5,944.4 L1417.5,944.5 L1419.5,944.7 L1421.5,944.8 L1423.4,944.9 L1425.4,945.0 L1427.4,945.2 L1429.3,945.3 L1431.3,945.4 L1433.3,945.5 L1435.2,945.7 L1437.2,945.8 L1439.2,945.9 L1441.2,946.0 L1443.1,946.2 L1445.1,946.3 L1447.1,946.4 L1449.0,946.5 L1451.0,946.7 L1453.0,946.8 L1455.0,946.9 L1456.9,947.1 L1458.9,947.2 L1460.9,947.3 L1462.8,947.4 L1464.8,947.6 L1466.8,947.7 L1468.7,947.9 L1470.7,948.0 L1472.7,948.1 L1474.7,948.3 L1476.6,948.4 L1478.6,948.6 L1480.6,948.8 L1482.5,948.9 L1484.5,949.1 L1486.5,949.3 L1488.4,949.5 L1490.4,949.7 L1492.4,949.9 L1494.4,950.0 L1496.3,950.2 L1498.3,950.4 L1500.3,950.6 L1502.2,950.8 L1504.2,951.0 L1506.2,951.1 L1508.1,951.3 L1510.1,951.5 L1512.1,951.6 L1514.1,951.8 L1516.0,951.9 L1518.0,952.1 L1520.0,952.2 L1521.9,952.3 L1523.9,952.4 L1525.9,952.5 L1527.8,952.5 L1529.8,952.6 L1531.8,952.7 L1533.8,952.7 L1535.7,952.8 L1537.7,952.8 L1539.7,952.8 L1541.6,952.8 L1543.6,952.8 L1545.6,952.9 L1547.5,952.9 L1549.5,952.9 L1551.5,952.9 L1553.5,952.9 L1555.4,952.9 L1557.4,952.9 L1559.4,952.9 L1561.3,952.8 L1563.3,952.8 L1565.3,952.7 L1567.3,952.6 L1569.2,952.5 L1571.2,952.4 L1573.2,952.3 L1575.1,952.1 L1577.1,952.0 L1579.1,951.8 L1581.0,951.6 L1583.0,951.4 L1585.0,951.2 L1587.0,951.0 L1588.9,950.7 L1590.9,950.5 L1592.9,950.3 L1594.8,950.0 L1596.8,949.8 L1598.8,949.6 L1600.7,949.3 L1602.7,949.1 L1604.7,948.8 L1606.7,948.5 L1608.6,948.2 L1610.6,947.9 L1612.6,947.6 L1614.5,947.3 L1616.5,947.0 L1618.5,946.7 L1620.4,946.4 L1622.4,946.0 L1624.4,945.7 L1626.4,945.3 L1628.3,945.0 L1630.3,944.6 L1632.3,944.2 L1634.2,943.9 L1636.2,943.5 L1638.2,943.1 L1640.1,942.7 L1642.1,942.3 L1644.1,941.9 L1646.1,941.5 L1648.0,941.1 L1650.0,940.7 L1652.0,940.3 L1653.9,939.9 L1655.9,939.4 L1657.9,939.0 L1659.9,938.5 L1661.8,938.1 L1663.8,937.6 L1665.8,937.1 L1667.7,936.6 L1669.7,936.1 L1671.7,935.6 L1673.6,935.0 L1675.6,934.5 L1677.6,933.9 L1679.6,933.3 L1681.5,932.7 L1683.5,932.1 L1685.5,931.5 L1687.4,930.9 L1689.4,930.2 L1691.4,929.5 L1693.3,928.8 L1695.3,928.1 L1697.3,927.4 L1699.3,926.6 L1701.2,925.8 L1703.2,925.0 L1705.2,924.2 L1707.1,923.4 L1709.1,922.5 L1711.1,921.6 L1713.0,920.7 L1715.0,919.7 L1717.0,918.8 L1719.0,917.8 L1720.9,916.7 L1722.9,915.7 L1724.9,914.6 L1726.8,913.4 L1728.8,912.2 L1730.8,911.0 L1732.7,909.8 L1734.7,908.5 L1736.7,907.1 L1738.7,905.7 L1740.6,904.3 L1742.6,902.8 L1744.6,901.2 L1746.5,899.6 L1748.5,897.9 L1750.5,896.1 L1752.5,894.2 L1754.4,892.2 L1756.4,890.1 L1758.4,888.0 L1760.3,885.7 L1762.3,883.5 L1764.3,881.2 L1766.2,879.0 L1768.2,876.8 L1770.2,874.7 L1772.2,872.6 L1774.1,870.6 L1776.1,868.7 L1778.1,866.8 L1780.0,864.9 L1782.0,863.2 L1784.0,861.5 L1785.9,859.8 L1787.9,858.1 L1789.9,856.5 L1791.9,855.0 L1793.8,853.4 L1795.8,851.9 L1797.8,850.4 L1799.7,848.9 L1801.7,847.4 L1803.7,846.0 L1805.6,844.7 L1807.6,843.5 L1809.6,842.3 L1811.6,841.3 L1813.5,840.3 L1815.5,839.3 L1817.5,838.5 L1819.4,837.6 L1821.4,836.8 L1823.4,836.1 L1825.3,835.3 L1827.3,834.6 L1829.3,833.8 L1831.3,833.1 L1833.2,832.4 L1835.2,831.6 L1837.2,830.9 L1839.1,830.1 L1841.1,829.2 L1843.1,828.2 L1845.0,827.2 L1847.0,826.0 L1849.0,824.8 L1851.0,823.4 L1852.9,822.0 L1854.9,820.4 L1856.9,818.8 L1858.8,817.1 L1860.8,815.2 L1862.8,813.3 L1864.8,811.1 L1866.7,808.8 L1868.7,806.3 L1870.7,803.6 L1872.6,800.7 L1874.6,797.6 L1876.6,794.3 L1878.5,790.8 L1880.5,787.2 L1882.5,783.3 L1884.5,779.1 L1886.4,774.6 L1888.4,769.7 L1890.4,764.4 L1892.3,758.6 L1894.3,752.5 L1896.3,746.3 L1898.2,740.0 L1900.2,733.9 L1902.2,728.0 L1904.2,722.5 L1906.1,717.2 L1908.1,712.1 L1910.1,707.3 L1912.0,702.7 L1914.0,698.2 L1916.0,693.8 L1917.9,689.6 L1919.9,685.4 L1921.9,681.3 L1923.9,677.3 L1925.8,673.2 L1927.8,669.2 L1929.8,665.1 L1931.7,661.0 L1933.7,656.9 L1935.7,652.8 L1937.6,648.8 L1939.6,644.8 L1941.6,641.0 L1943.6,637.4 L1945.5,634.1 L1947.5,631.1 L1949.5,628.6 L1951.4,626.5 L1953.4,625.0 L1955.4,624.0 L1957.4,623.7 L1959.3,624.0 L1961.3,624.9 L1963.3,626.4 L1965.2,628.5 L1967.2,631.1 L1969.2,634.2 L1971.1,637.8 L1973.1,641.7 L1975.1,645.9 L1977.1,650.4 L1979.0,655.1 L1981.0,660.1 L1983.0,665.3 L1984.9,670.9 L1986.9,676.8 L1988.9,683.1 L1990.8,689.7 L1992.8,696.8 L1994.8,704.1 L1996.8,711.6 L1998.7,719.3 L2000.7,727.0 L2002.7,734.7 L2004.6,742.3 L2006.6,749.9 L2008.6,757.4 L2010.5,764.9 L2012.5,772.5 L2014.5,780.2 L2016.5,788.1 L2018.4,796.0 L2020.4,803.9 L2022.4,811.8 L2024.3,819.5 L2026.3,827.1 L2028.3,834.4 L2030.2,841.5 L2032.2,848.3 L2034.2,855.0 L2036.2,861.4 L2038.1,867.6 L2040.1,873.6 L2042.1,879.3 L2044.0,884.8 L2046.0,889.9 L2048.0,894.7 L2050.0,899.3 L2051.9,903.5 L2053.9,907.5 L2055.9,911.2 L2057.8,914.7 L2059.8,917.9 L2061.8,920.9 L2063.7,923.7 L2065.7,926.4 L2067.7,928.9 L2069.7,931.2 L2071.6,933.5 L2073.6,935.6 L2075.6,937.6 L2077.5,939.5 L2079.5,941.3 L2081.5,943.0 L2083.4,944.5 L2085.4,946.0 L2087.4,947.3 L2089.4,948.6 L2091.3,949.8 L2093.3,950.8 L2095.3,951.9 L2097.2,952.8 L2099.2,953.7 L2101.2,954.6 L2103.1,955.4 L2105.1,956.1 L2107.1,956.8 L2109.1,957.4 L2111.0,957.9 L2113.0,958.4 L2115.0,958.8 L2116.9,959.2 L2118.9,959.5 L2120.9,959.8 L2122.8,960.1 L2124.8,960.3 L2126.8,960.6 L2128.8,960.8 L2130.7,961.0 L2132.7,961.2 L2134.7,961.4 L2136.6,961.5 L2138.6,961.7 L2140.6,961.8 L2142.6,962.0 L2144.5,962.1 L2146.5,962.3 L2148.5,962.4 L2150.4,962.5 L2152.4,962.6 L2154.4,962.7 L2156.3,962.8 L2158.3,962.9 L2160.3,963.0 L2162.3,963.1 L2164.2,963.1 L2166.2,963.2 L2168.2,963.3 L2170.1,963.4 L2172.1,963.4 L2174.1,963.5 L2176.0,963.6 L2178.0,963.6 L2180.0,963.7 L2182.0,963.7 L2183.9,963.8 L2185.9,963.9 L2187.9,963.9 L2189.8,964.0 L2191.8,964.0 L2193.8,964.1 L2195.7,964.1 L2197.7,964.2 L2199.7,964.2 L2201.7,964.2 L2203.6,964.3 L2205.6,964.3 L2207.6,964.4 L2209.5,964.4 L2211.5,964.4 L2213.5,964.4 L2215.4,964.5 L2217.4,964.5 L2219.4,964.5 L2221.4,964.5 L2223.3,964.6 L2225.3,964.6 L2227.3,964.6 L2229.2,964.6 L2231.2,964.6 L2233.2,964.6 L2235.1,964.6 L2237.1,964.7 L2239.1,964.7 L2241.1,964.7 L2243.0,964.7 L2245.0,964.7 L2247.0,964.7 L2248.9,964.7 L2250.9,964.7 L2252.9,964.7 L2254.9,964.8 L2256.8,964.8 L2258.8,964.8 L2260.8,964.8 L2262.7,964.8 L2264.7,964.8 L2266.7,964.8 L2268.6,964.8 L2270.6,964.8 L2272.6,964.8 L2274.6,964.8 L2276.5,964.8 L2278.5,964.9 L2280.5,964.9 L2282.4,964.9 L2284.4,964.9 L2286.4,964.9 L2288.3,964.9 L2290.3,964.9 L2292.3,964.9 L2294.3,964.9 L2296.2,964.9 L2298.2,964.9 L2300.2,964.9 L2302.1,964.9 L2304.1,964.9 L2306.1,964.9 L2308.0,964.9 L2310.0,964.9 L2312.0,964.9 L2314.0,964.9 L2315.9,964.9 L2317.9,964.9 L2319.9,964.9 L2321.8,964.9 L2323.8,964.9 L2325.8,965.0 L2327.7,965.0 L2329.7,965.0 L2331.7,965.0 L2333.7,965.0 L2335.6,965.0 L2337.6,965.0" fill="none" stroke="#b050d0" stroke-width="2.2" stroke-linejoin="round"/>
<path d="M1352.5,946.1 L1354.5,946.2 L1356.4,946.2 L1358.4,946.3 L1360.4,946.3 L1362.4,946.4 L1364.3,946.5 L1366.3,946.6 L1368.3,946.7 L1370.2,946.7 L1372.2,946.8 L1374.2,946.9 L1376.1,947.0 L1378.1,947.1 L1380.1,947.2 L1382.1,947.3 L1384.0,947.3 L1386.0,947.4 L1388.0,947.5 L1389.9,947.6 L1391.9,947.7 L1393.9,947.8 L1395.8,947.9 L1397.8,948.0 L1399.8,948.1 L1401.8,948.2 L1403.7,948.2 L1405.7,948.3 L1407.7,948.4 L1409.6,948.5 L1411.6,948.6 L1413.6,948.7 L1415.5,948.8 L1417.5,948.9 L1419.5,949.0 L1421.5,949.1 L1423.4,949.2 L1425.4,949.3 L1427.4,949.4 L1429.3,949.5 L1431.3,949.6 L1433.3,949.7 L1435.2,949.8 L1437.2,949.9 L1439.2,950.0 L1441.2,950.1 L1443.1,950.2 L1445.1,950.3 L1447.1,950.4 L1449.0,950.5 L1451.0,950.6 L1453.0,950.7 L1455.0,950.8 L1456.9,950.9 L1458.9,951.0 L1460.9,951.1 L1462.8,951.2 L1464.8,951.4 L1466.8,951.5 L1468.7,951.6 L1470.7,951.7 L1472.7,951.9 L1474.7,952.0 L1476.6,952.2 L1478.6,952.3 L1480.6,952.5 L1482.5,952.7 L1484.5,952.9 L1486.5,953.1 L1488.4,953.3 L1490.4,953.5 L1492.4,953.7 L1494.4,953.9 L1496.3,954.1 L1498.3,954.3 L1500.3,954.5 L1502.2,954.7 L1504.2,954.9 L1506.2,955.1 L1508.1,955.2 L1510.1,955.4 L1512.1,955.6 L1514.1,955.7 L1516.0,955.9 L1518.0,956.0 L1520.0,956.1 L1521.9,956.2 L1523.9,956.3 L1525.9,956.4 L1527.8,956.5 L1529.8,956.5 L1531.8,956.6 L1533.8,956.6 L1535.7,956.6 L1537.7,956.6 L1539.7,956.6 L1541.6,956.6 L1543.6,956.6 L1545.6,956.5 L1547.5,956.5 L1549.5,956.5 L1551.5,956.5 L1553.5,956.5 L1555.4,956.4 L1557.4,956.4 L1559.4,956.3 L1561.3,956.3 L1563.3,956.2 L1565.3,956.1 L1567.3,955.9 L1569.2,955.8 L1571.2,955.6 L1573.2,955.4 L1575.1,955.2 L1577.1,954.9 L1579.1,954.7 L1581.0,954.4 L1583.0,954.1 L1585.0,953.9 L1587.0,953.6 L1588.9,953.3 L1590.9,952.9 L1592.9,952.6 L1594.8,952.3 L1596.8,952.0 L1598.8,951.7 L1600.7,951.4 L1602.7,951.0 L1604.7,950.7 L1606.7,950.3 L1608.6,949.9 L1610.6,949.5 L1612.6,949.1 L1614.5,948.7 L1616.5,948.3 L1618.5,947.9 L1620.4,947.5 L1622.4,947.0 L1624.4,946.6 L1626.4,946.1 L1628.3,945.6 L1630.3,945.2 L1632.3,944.7 L1634.2,944.2 L1636.2,943.7 L1638.2,943.2 L1640.1,942.7 L1642.1,942.2 L1644.1,941.7 L1646.1,941.2 L1648.0,940.7 L1650.0,940.1 L1652.0,939.6 L1653.9,939.0 L1655.9,938.5 L1657.9,937.9 L1659.9,937.3 L1661.8,936.7 L1663.8,936.1 L1665.8,935.5 L1667.7,934.9 L1669.7,934.2 L1671.7,933.5 L1673.6,932.9 L1675.6,932.2 L1677.6,931.5 L1679.6,930.7 L1681.5,930.0 L1683.5,929.2 L1685.5,928.4 L1687.4,927.6 L1689.4,926.8 L1691.4,925.9 L1693.3,925.0 L1695.3,924.1 L1697.3,923.2 L1699.3,922.2 L1701.2,921.2 L1703.2,920.2 L1705.2,919.2 L1707.1,918.1 L1709.1,917.0 L1711.1,915.9 L1713.0,914.7 L1715.0,913.5 L1717.0,912.2 L1719.0,911.0 L1720.9,909.6 L1722.9,908.3 L1724.9,906.8 L1726.8,905.4 L1728.8,903.9 L1730.8,902.3 L1732.7,900.7 L1734.7,899.0 L1736.7,897.3 L1738.7,895.5 L1740.6,893.6 L1742.6,891.6 L1744.6,889.6 L1746.5,887.5 L1748.5,885.2 L1750.5,882.9 L1752.5,880.4 L1754.4,877.8 L1756.4,875.1 L1758.4,872.2 L1760.3,869.3 L1762.3,866.4 L1764.3,863.4 L1766.2,860.5 L1768.2,857.6 L1770.2,854.8 L1772.2,852.1 L1774.1,849.5 L1776.1,847.0 L1778.1,844.5 L1780.0,842.1 L1782.0,839.8 L1784.0,837.6 L1785.9,835.4 L1787.9,833.3 L1789.9,831.2 L1791.9,829.2 L1793.8,827.1 L1795.8,825.2 L1797.8,823.2 L1799.7,821.3 L1801.7,819.4 L1803.7,817.7 L1805.6,816.0 L1807.6,814.4 L1809.6,812.9 L1811.6,811.6 L1813.5,810.3 L1815.5,809.1 L1817.5,808.0 L1819.4,807.0 L1821.4,806.0 L1823.4,805.0 L1825.3,804.1 L1827.3,803.2 L1829.3,802.3 L1831.3,801.4 L1833.2,800.5 L1835.2,799.6 L1837.2,798.6 L1839.1,797.7 L1841.1,796.6 L1843.1,795.4 L1845.0,794.1 L1847.0,792.7 L1849.0,791.1 L1851.0,789.4 L1852.9,787.6 L1854.9,785.7 L1856.9,783.7 L1858.8,781.5 L1860.8,779.2 L1862.8,776.7 L1864.8,774.1 L1866.7,771.2 L1868.7,768.0 L1870.7,764.6 L1872.6,760.9 L1874.6,757.0 L1876.6,752.9 L1878.5,748.5 L1880.5,743.8 L1882.5,738.9 L1884.5,733.6 L1886.4,727.9 L1888.4,721.5 L1890.4,714.6 L1892.3,707.2 L1894.3,699.3 L1896.3,691.2 L1898.2,683.1 L1900.2,675.2 L1902.2,667.7 L1904.2,660.5 L1906.1,653.7 L1908.1,647.3 L1910.1,641.2 L1912.0,635.3 L1914.0,629.6 L1916.0,624.2 L1917.9,618.8 L1919.9,613.6 L1921.9,608.4 L1923.9,603.3 L1925.8,598.2 L1927.8,593.0 L1929.8,587.7 L1931.7,582.4 L1933.7,577.1 L1935.7,571.7 L1937.6,566.4 L1939.6,561.2 L1941.6,556.2 L1943.6,551.4 L1945.5,547.1 L1947.5,543.2 L1949.5,539.8 L1951.4,537.1 L1953.4,535.1 L1955.4,533.9 L1957.4,533.4 L1959.3,533.8 L1961.3,535.0 L1963.3,536.9 L1965.2,539.6 L1967.2,543.0 L1969.2,547.0 L1971.1,551.5 L1973.1,556.4 L1975.1,561.8 L1977.1,567.5 L1979.0,573.5 L1981.0,579.9 L1983.0,586.5 L1984.9,593.5 L1986.9,601.0 L1988.9,608.9 L1990.8,617.3 L1992.8,626.2 L1994.8,635.4 L1996.8,645.0 L1998.7,654.7 L2000.7,664.4 L2002.7,674.1 L2004.6,683.8 L2006.6,693.3 L2008.6,702.8 L2010.5,712.4 L2012.5,722.0 L2014.5,731.8 L2016.5,741.7 L2018.4,751.8 L2020.4,762.0 L2022.4,772.0 L2024.3,781.9 L2026.3,791.6 L2028.3,800.9 L2030.2,810.0 L2032.2,818.8 L2034.2,827.3 L2036.2,835.5 L2038.1,843.5 L2040.1,851.1 L2042.1,858.5 L2044.0,865.5 L2046.0,872.1 L2048.0,878.3 L2050.0,884.2 L2051.9,889.6 L2053.9,894.8 L2055.9,899.5 L2057.8,904.0 L2059.8,908.1 L2061.8,912.0 L2063.7,915.6 L2065.7,919.0 L2067.7,922.2 L2069.7,925.2 L2071.6,928.1 L2073.6,930.8 L2075.6,933.4 L2077.5,935.9 L2079.5,938.2 L2081.5,940.3 L2083.4,942.4 L2085.4,944.2 L2087.4,946.0 L2089.4,947.6 L2091.3,949.0 L2093.3,950.4 L2095.3,951.7 L2097.2,952.9 L2099.2,954.1 L2101.2,955.2 L2103.1,956.2 L2105.1,957.1 L2107.1,958.0 L2109.1,958.7 L2111.0,959.4 L2113.0,960.0 L2115.0,960.6 L2116.9,961.0 L2118.9,961.4 L2120.9,961.8 L2122.8,962.2 L2124.8,962.5 L2126.8,962.8 L2128.8,963.0 L2130.7,963.3 L2132.7,963.5 L2134.7,963.8 L2136.6,964.0 L2138.6,964.2 L2140.6,964.4 L2142.6,964.6 L2144.5,964.8 L2146.5,964.9 L2148.5,965.1 L2150.4,965.2 L2152.4,965.4 L2154.4,965.5 L2156.3,965.6 L2158.3,965.7 L2160.3,965.8 L2162.3,965.9 L2164.2,966.0 L2166.2,966.1 L2168.2,966.2 L2170.1,966.3 L2172.1,966.4 L2174.1,966.4 L2176.0,966.5 L2178.0,966.6 L2180.0,966.7 L2182.0,966.7 L2183.9,966.8 L2185.9,966.9 L2187.9,966.9 L2189.8,967.0 L2191.8,967.0 L2193.8,967.1 L2195.7,967.2 L2197.7,967.2 L2199.7,967.3 L2201.7,967.3 L2203.6,967.4 L2205.6,967.4 L2207.6,967.4 L2209.5,967.5 L2211.5,967.5 L2213.5,967.5 L2215.4,967.6 L2217.4,967.6 L2219.4,967.6 L2221.4,967.7 L2223.3,967.7 L2225.3,967.7 L2227.3,967.7 L2229.2,967.7 L2231.2,967.7 L2233.2,967.7 L2235.1,967.8 L2237.1,967.8 L2239.1,967.8 L2241.1,967.8 L2243.0,967.8 L2245.0,967.8 L2247.0,967.8 L2248.9,967.8 L2250.9,967.8 L2252.9,967.8 L2254.9,967.8 L2256.8,967.8 L2258.8,967.9 L2260.8,967.9 L2262.7,967.9 L2264.7,967.9 L2266.7,967.9 L2268.6,967.9 L2270.6,967.9 L2272.6,967.9 L2274.6,967.9 L2276.5,967.9 L2278.5,967.9 L2280.5,967.9 L2282.4,967.9 L2284.4,967.9 L2286.4,967.9 L2288.3,968.0 L2290.3,968.0 L2292.3,968.0 L2294.3,968.0 L2296.2,968.0 L2298.2,968.0 L2300.2,968.0 L2302.1,968.0 L2304.1,968.0 L2306.1,968.0 L2308.0,968.0 L2310.0,968.0 L2312.0,968.0 L2314.0,968.0 L2315.9,968.0 L2317.9,968.0 L2319.9,968.0 L2321.8,968.0 L2323.8,968.0 L2325.8,968.0 L2327.7,968.0 L2329.7,968.0 L2331.7,968.0 L2333.7,968.0 L2335.6,968.0 L2337.6,968.0" fill="none" stroke="#3344dd" stroke-width="2.2" stroke-linejoin="round"/>
<path d="M1352.5,937.1 L1354.5,937.2 L1356.4,937.2 L1358.4,937.3 L1360.4,937.3 L1362.4,937.4 L1364.3,937.5 L1366.3,937.6 L1368.3,937.6 L1370.2,937.7 L1372.2,937.8 L1374.2,937.9 L1376.1,938.0 L1378.1,938.1 L1380.1,938.2 L1382.1,938.3 L1384.0,938.3 L1386.0,938.4 L1388.0,938.5 L1389.9,938.6 L1391.9,938.7 L1393.9,938.8 L1395.8,938.9 L1397.8,939.0 L1399.8,939.1 L1401.8,939.2 L1403.7,939.3 L1405.7,939.4 L1407.7,939.5 L1409.6,939.6 L1411.6,939.7 L1413.6,939.8 L1415.5,939.9 L1417.5,940.0 L1419.5,940.2 L1421.5,940.3 L1423.4,940.4 L1425.4,940.5 L1427.4,940.6 L1429.3,940.7 L1431.3,940.8 L1433.3,940.9 L1435.2,941.0 L1437.2,941.1 L1439.2,941.3 L1441.2,941.4 L1443.1,941.5 L1445.1,941.6 L1447.1,941.7 L1449.0,941.8 L1451.0,942.0 L1453.0,942.1 L1455.0,942.2 L1456.9,942.4 L1458.9,942.5 L1460.9,942.6 L1462.8,942.8 L1464.8,942.9 L1466.8,943.1 L1468.7,943.2 L1470.7,943.4 L1472.7,943.5 L1474.7,943.7 L1476.6,943.9 L1478.6,944.1 L1480.6,944.3 L1482.5,944.5 L1484.5,944.8 L1486.5,945.0 L1488.4,945.3 L1490.4,945.5 L1492.4,945.8 L1494.4,946.0 L1496.3,946.3 L1498.3,946.5 L1500.3,946.8 L1502.2,947.0 L1504.2,947.3 L1506.2,947.5 L1508.1,947.7 L1510.1,947.9 L1512.1,948.2 L1514.1,948.4 L1516.0,948.5 L1518.0,948.7 L1520.0,948.9 L1521.9,949.0 L1523.9,949.1 L1525.9,949.2 L1527.8,949.3 L1529.8,949.3 L1531.8,949.4 L1533.8,949.4 L1535.7,949.4 L1537.7,949.4 L1539.7,949.4 L1541.6,949.3 L1543.6,949.3 L1545.6,949.3 L1547.5,949.3 L1549.5,949.2 L1551.5,949.2 L1553.5,949.1 L1555.4,949.1 L1557.4,949.0 L1559.4,949.0 L1561.3,948.9 L1563.3,948.8 L1565.3,948.6 L1567.3,948.4 L1569.2,948.2 L1571.2,948.0 L1573.2,947.8 L1575.1,947.5 L1577.1,947.2 L1579.1,946.8 L1581.0,946.5 L1583.0,946.1 L1585.0,945.7 L1587.0,945.4 L1588.9,945.0 L1590.9,944.6 L1592.9,944.2 L1594.8,943.8 L1596.8,943.4 L1598.8,942.9 L1600.7,942.5 L1602.7,942.1 L1604.7,941.6 L1606.7,941.2 L1608.6,940.7 L1610.6,940.2 L1612.6,939.7 L1614.5,939.2 L1616.5,938.6 L1618.5,938.1 L1620.4,937.5 L1622.4,937.0 L1624.4,936.4 L1626.4,935.8 L1628.3,935.2 L1630.3,934.6 L1632.3,934.0 L1634.2,933.4 L1636.2,932.7 L1638.2,932.1 L1640.1,931.5 L1642.1,930.8 L1644.1,930.2 L1646.1,929.5 L1648.0,928.8 L1650.0,928.1 L1652.0,927.4 L1653.9,926.7 L1655.9,926.0 L1657.9,925.3 L1659.9,924.5 L1661.8,923.8 L1663.8,923.0 L1665.8,922.2 L1667.7,921.4 L1669.7,920.6 L1671.7,919.7 L1673.6,918.9 L1675.6,918.0 L1677.6,917.1 L1679.6,916.1 L1681.5,915.2 L1683.5,914.2 L1685.5,913.2 L1687.4,912.2 L1689.4,911.1 L1691.4,910.0 L1693.3,908.9 L1695.3,907.7 L1697.3,906.5 L1699.3,905.3 L1701.2,904.0 L1703.2,902.7 L1705.2,901.4 L1707.1,900.0 L1709.1,898.6 L1711.1,897.1 L1713.0,895.7 L1715.0,894.1 L1717.0,892.5 L1719.0,890.9 L1720.9,889.2 L1722.9,887.4 L1724.9,885.6 L1726.8,883.7 L1728.8,881.7 L1730.8,879.7 L1732.7,877.6 L1734.7,875.5 L1736.7,873.2 L1738.7,870.9 L1740.6,868.5 L1742.6,865.9 L1744.6,863.3 L1746.5,860.5 L1748.5,857.6 L1750.5,854.6 L1752.5,851.4 L1754.4,848.0 L1756.4,844.5 L1758.4,840.8 L1760.3,837.0 L1762.3,833.2 L1764.3,829.3 L1766.2,825.5 L1768.2,821.8 L1770.2,818.2 L1772.2,814.7 L1774.1,811.3 L1776.1,808.0 L1778.1,804.8 L1780.0,801.7 L1782.0,798.7 L1784.0,795.8 L1785.9,793.0 L1787.9,790.3 L1789.9,787.6 L1791.9,785.0 L1793.8,782.4 L1795.8,779.8 L1797.8,777.3 L1799.7,774.8 L1801.7,772.4 L1803.7,770.1 L1805.6,768.0 L1807.6,765.9 L1809.6,764.0 L1811.6,762.3 L1813.5,760.7 L1815.5,759.2 L1817.5,757.7 L1819.4,756.4 L1821.4,755.1 L1823.4,753.9 L1825.3,752.7 L1827.3,751.6 L1829.3,750.5 L1831.3,749.3 L1833.2,748.2 L1835.2,747.1 L1837.2,745.9 L1839.1,744.6 L1841.1,743.3 L1843.1,741.8 L1845.0,740.1 L1847.0,738.3 L1849.0,736.3 L1851.0,734.2 L1852.9,731.9 L1854.9,729.4 L1856.9,726.8 L1858.8,724.1 L1860.8,721.2 L1862.8,718.0 L1864.8,714.6 L1866.7,710.9 L1868.7,706.9 L1870.7,702.5 L1872.6,697.8 L1874.6,692.8 L1876.6,687.5 L1878.5,681.9 L1880.5,676.0 L1882.5,669.6 L1884.5,662.8 L1886.4,655.4 L1888.4,647.3 L1890.4,638.4 L1892.3,628.8 L1894.3,618.6 L1896.3,608.1 L1898.2,597.7 L1900.2,587.4 L1902.2,577.7 L1904.2,568.4 L1906.1,559.7 L1908.1,551.4 L1910.1,543.6 L1912.0,536.0 L1914.0,528.8 L1916.0,521.8 L1917.9,515.0 L1919.9,508.3 L1921.9,501.7 L1923.9,495.1 L1925.8,488.5 L1927.8,481.8 L1929.8,475.1 L1931.7,468.2 L1933.7,461.3 L1935.7,454.3 L1937.6,447.4 L1939.6,440.6 L1941.6,434.1 L1943.6,427.9 L1945.5,422.3 L1947.5,417.2 L1949.5,412.8 L1951.4,409.3 L1953.4,406.7 L1955.4,405.1 L1957.4,404.5 L1959.3,405.0 L1961.3,406.5 L1963.3,409.1 L1965.2,412.5 L1967.2,416.9 L1969.2,422.0 L1971.1,427.8 L1973.1,434.2 L1975.1,441.1 L1977.1,448.4 L1979.0,456.1 L1981.0,464.2 L1983.0,472.8 L1984.9,481.8 L1986.9,491.3 L1988.9,501.5 L1990.8,512.2 L1992.8,523.6 L1994.8,535.4 L1996.8,547.6 L1998.7,560.1 L2000.7,572.6 L2002.7,585.0 L2004.6,597.4 L2006.6,609.6 L2008.6,621.8 L2010.5,634.0 L2012.5,646.4 L2014.5,658.9 L2016.5,671.7 L2018.4,684.7 L2020.4,697.7 L2022.4,710.7 L2024.3,723.4 L2026.3,735.8 L2028.3,747.9 L2030.2,759.5 L2032.2,770.8 L2034.2,781.8 L2036.2,792.4 L2038.1,802.6 L2040.1,812.5 L2042.1,822.0 L2044.0,831.0 L2046.0,839.5 L2048.0,847.6 L2050.0,855.1 L2051.9,862.2 L2053.9,868.8 L2055.9,874.9 L2057.8,880.7 L2059.8,886.0 L2061.8,891.0 L2063.7,895.7 L2065.7,900.1 L2067.7,904.2 L2069.7,908.1 L2071.6,911.8 L2073.6,915.3 L2075.6,918.7 L2077.5,921.8 L2079.5,924.8 L2081.5,927.6 L2083.4,930.2 L2085.4,932.6 L2087.4,934.8 L2089.4,936.9 L2091.3,938.8 L2093.3,940.6 L2095.3,942.2 L2097.2,943.8 L2099.2,945.3 L2101.2,946.7 L2103.1,948.0 L2105.1,949.2 L2107.1,950.3 L2109.1,951.2 L2111.0,952.1 L2113.0,952.9 L2115.0,953.6 L2116.9,954.2 L2118.9,954.7 L2120.9,955.2 L2122.8,955.7 L2124.8,956.1 L2126.8,956.4 L2128.8,956.8 L2130.7,957.1 L2132.7,957.4 L2134.7,957.7 L2136.6,958.0 L2138.6,958.3 L2140.6,958.5 L2142.6,958.8 L2144.5,959.0 L2146.5,959.2 L2148.5,959.4 L2150.4,959.6 L2152.4,959.8 L2154.4,959.9 L2156.3,960.1 L2158.3,960.2 L2160.3,960.4 L2162.3,960.5 L2164.2,960.6 L2166.2,960.7 L2168.2,960.8 L2170.1,960.9 L2172.1,961.0 L2174.1,961.1 L2176.0,961.2 L2178.0,961.3 L2180.0,961.4 L2182.0,961.5 L2183.9,961.6 L2185.9,961.7 L2187.9,961.7 L2189.8,961.8 L2191.8,961.9 L2193.8,962.0 L2195.7,962.0 L2197.7,962.1 L2199.7,962.2 L2201.7,962.2 L2203.6,962.3 L2205.6,962.3 L2207.6,962.4 L2209.5,962.4 L2211.5,962.5 L2213.5,962.5 L2215.4,962.5 L2217.4,962.6 L2219.4,962.6 L2221.4,962.6 L2223.3,962.7 L2225.3,962.7 L2227.3,962.7 L2229.2,962.7 L2231.2,962.7 L2233.2,962.7 L2235.1,962.7 L2237.1,962.8 L2239.1,962.8 L2241.1,962.8 L2243.0,962.8 L2245.0,962.8 L2247.0,962.8 L2248.9,962.8 L2250.9,962.8 L2252.9,962.8 L2254.9,962.8 L2256.8,962.9 L2258.8,962.9 L2260.8,962.9 L2262.7,962.9 L2264.7,962.9 L2266.7,962.9 L2268.6,962.9 L2270.6,962.9 L2272.6,962.9 L2274.6,962.9 L2276.5,962.9 L2278.5,962.9 L2280.5,962.9 L2282.4,962.9 L2284.4,963.0 L2286.4,963.0 L2288.3,963.0 L2290.3,963.0 L2292.3,963.0 L2294.3,963.0 L2296.2,963.0 L2298.2,963.0 L2300.2,963.0 L2302.1,963.0 L2304.1,963.0 L2306.1,963.0 L2308.0,963.0 L2310.0,963.0 L2312.0,963.0 L2314.0,963.0 L2315.9,963.0 L2317.9,963.0 L2319.9,963.0 L2321.8,963.0 L2323.8,963.0 L2325.8,963.0 L2327.7,963.0 L2329.7,963.0 L2331.7,963.0 L2333.7,963.0 L2335.6,963.0 L2337.6,963.0" fill="none" stroke="#ee4455" stroke-width="2.2" stroke-linejoin="round"/>
<path d="M1352.5,914.2 L1354.5,914.3 L1356.4,914.4 L1358.4,914.6 L1360.4,914.7 L1362.4,914.9 L1364.3,915.0 L1366.3,915.2 L1368.3,915.4 L1370.2,915.6 L1372.2,915.7 L1374.2,915.9 L1376.1,916.1 L1378.1,916.3 L1380.1,916.5 L1382.1,916.6 L1384.0,916.8 L1386.0,917.0 L1388.0,917.2 L1389.9,917.4 L1391.9,917.6 L1393.9,917.8 L1395.8,918.0 L1397.8,918.2 L1399.8,918.3 L1401.8,918.5 L1403.7,918.7 L1405.7,918.9 L1407.7,919.1 L1409.6,919.3 L1411.6,919.5 L1413.6,919.7 L1415.5,919.9 L1417.5,920.1 L1419.5,920.3 L1421.5,920.5 L1423.4,920.7 L1425.4,920.9 L1427.4,921.1 L1429.3,921.3 L1431.3,921.5 L1433.3,921.7 L1435.2,921.9 L1437.2,922.1 L1439.2,922.3 L1441.2,922.5 L1443.1,922.8 L1445.1,923.0 L1447.1,923.2 L1449.0,923.4 L1451.0,923.6 L1453.0,923.8 L1455.0,924.1 L1456.9,924.3 L1458.9,924.5 L1460.9,924.8 L1462.8,925.0 L1464.8,925.2 L1466.8,925.5 L1468.7,925.8 L1470.7,926.0 L1472.7,926.3 L1474.7,926.6 L1476.6,926.9 L1478.6,927.3 L1480.6,927.6 L1482.5,928.0 L1484.5,928.3 L1486.5,928.7 L1488.4,929.1 L1490.4,929.5 L1492.4,929.9 L1494.4,930.3 L1496.3,930.8 L1498.3,931.2 L1500.3,931.6 L1502.2,932.0 L1504.2,932.4 L1506.2,932.7 L1508.1,933.1 L1510.1,933.5 L1512.1,933.8 L1514.1,934.1 L1516.0,934.4 L1518.0,934.7 L1520.0,935.0 L1521.9,935.2 L1523.9,935.4 L1525.9,935.5 L1527.8,935.7 L1529.8,935.8 L1531.8,935.8 L1533.8,935.9 L1535.7,935.9 L1537.7,935.9 L1539.7,935.9 L1541.6,935.9 L1543.6,935.9 L1545.6,935.9 L1547.5,935.9 L1549.5,935.8 L1551.5,935.8 L1553.5,935.8 L1555.4,935.7 L1557.4,935.6 L1559.4,935.6 L1561.3,935.4 L1563.3,935.3 L1565.3,935.1 L1567.3,934.9 L1569.2,934.6 L1571.2,934.2 L1573.2,933.9 L1575.1,933.5 L1577.1,933.0 L1579.1,932.5 L1581.0,932.0 L1583.0,931.5 L1585.0,931.0 L1587.0,930.4 L1588.9,929.8 L1590.9,929.3 L1592.9,928.7 L1594.8,928.1 L1596.8,927.5 L1598.8,926.9 L1600.7,926.3 L1602.7,925.6 L1604.7,925.0 L1606.7,924.3 L1608.6,923.6 L1610.6,922.9 L1612.6,922.1 L1614.5,921.4 L1616.5,920.6 L1618.5,919.8 L1620.4,918.9 L1622.4,918.1 L1624.4,917.3 L1626.4,916.4 L1628.3,915.5 L1630.3,914.6 L1632.3,913.7 L1634.2,912.8 L1636.2,911.9 L1638.2,910.9 L1640.1,910.0 L1642.1,909.0 L1644.1,908.1 L1646.1,907.1 L1648.0,906.1 L1650.0,905.1 L1652.0,904.1 L1653.9,903.0 L1655.9,901.9 L1657.9,900.9 L1659.9,899.7 L1661.8,898.6 L1663.8,897.5 L1665.8,896.3 L1667.7,895.1 L1669.7,893.8 L1671.7,892.6 L1673.6,891.3 L1675.6,890.0 L1677.6,888.7 L1679.6,887.3 L1681.5,885.9 L1683.5,884.4 L1685.5,882.9 L1687.4,881.4 L1689.4,879.8 L1691.4,878.2 L1693.3,876.5 L1695.3,874.7 L1697.3,873.0 L1699.3,871.1 L1701.2,869.2 L1703.2,867.3 L1705.2,865.3 L1707.1,863.3 L1709.1,861.1 L1711.1,859.0 L1713.0,856.7 L1715.0,854.4 L1717.0,852.1 L1719.0,849.6 L1720.9,847.0 L1722.9,844.4 L1724.9,841.7 L1726.8,838.9 L1728.8,835.9 L1730.8,832.9 L1732.7,829.8 L1734.7,826.6 L1736.7,823.2 L1738.7,819.7 L1740.6,816.1 L1742.6,812.3 L1744.6,808.3 L1746.5,804.2 L1748.5,799.9 L1750.5,795.3 L1752.5,790.5 L1754.4,785.4 L1756.4,780.1 L1758.4,774.6 L1760.3,768.9 L1762.3,763.2 L1764.3,757.4 L1766.2,751.7 L1768.2,746.2 L1770.2,740.7 L1772.2,735.5 L1774.1,730.4 L1776.1,725.4 L1778.1,720.6 L1780.0,716.0 L1782.0,711.5 L1784.0,707.2 L1785.9,703.0 L1787.9,698.9 L1789.9,694.8 L1791.9,690.9 L1793.8,687.0 L1795.8,683.2 L1797.8,679.4 L1799.7,675.7 L1801.7,672.1 L1803.7,668.7 L1805.6,665.4 L1807.6,662.4 L1809.6,659.6 L1811.6,656.9 L1813.5,654.5 L1815.5,652.3 L1817.5,650.2 L1819.4,648.2 L1821.4,646.3 L1823.4,644.4 L1825.3,642.7 L1827.3,641.0 L1829.3,639.3 L1831.3,637.6 L1833.2,635.9 L1835.2,634.2 L1837.2,632.5 L1839.1,630.6 L1841.1,628.6 L1843.1,626.3 L1845.0,623.9 L1847.0,621.2 L1849.0,618.2 L1851.0,614.9 L1852.9,611.5 L1854.9,607.8 L1856.9,604.0 L1858.8,599.9 L1860.8,595.5 L1862.8,590.8 L1864.8,585.7 L1866.7,580.2 L1868.7,574.1 L1870.7,567.6 L1872.6,560.5 L1874.6,553.0 L1876.6,545.1 L1878.5,536.7 L1880.5,527.7 L1882.5,518.3 L1884.5,508.1 L1886.4,496.9 L1888.4,484.7 L1890.4,471.4 L1892.3,456.9 L1894.3,441.7 L1896.3,426.0 L1898.2,410.3 L1900.2,395.0 L1902.2,380.3 L1904.2,366.4 L1906.1,353.3 L1908.1,340.9 L1910.1,329.1 L1912.0,317.9 L1914.0,307.0 L1916.0,296.6 L1917.9,286.3 L1919.9,276.3 L1921.9,266.4 L1923.9,256.6 L1925.8,246.7 L1927.8,236.7 L1929.8,226.5 L1931.7,216.2 L1933.7,205.8 L1935.7,195.4 L1937.6,185.0 L1939.6,174.8 L1941.6,165.0 L1943.6,155.7 L1945.5,147.2 L1947.5,139.6 L1949.5,133.0 L1951.4,127.7 L1953.4,123.8 L1955.4,121.4 L1957.4,120.6 L1959.3,121.3 L1961.3,123.6 L1963.3,127.4 L1965.2,132.6 L1967.2,139.1 L1969.2,146.8 L1971.1,155.5 L1973.1,165.1 L1975.1,175.4 L1977.1,186.4 L1979.0,198.0 L1981.0,210.2 L1983.0,223.0 L1984.9,236.5 L1986.9,250.8 L1988.9,266.0 L1990.8,282.1 L1992.8,299.2 L1994.8,316.9 L1996.8,335.3 L1998.7,353.9 L2000.7,372.6 L2002.7,391.3 L2004.6,409.8 L2006.6,428.2 L2008.6,446.5 L2010.5,464.8 L2012.5,483.3 L2014.5,502.1 L2016.5,521.3 L2018.4,540.8 L2020.4,560.3 L2022.4,579.8 L2024.3,598.9 L2026.3,617.5 L2028.3,635.6 L2030.2,653.1 L2032.2,670.0 L2034.2,686.4 L2036.2,702.3 L2038.1,717.8 L2040.1,732.6 L2042.1,746.8 L2044.0,760.3 L2046.0,773.1 L2048.0,785.2 L2050.0,796.5 L2051.9,807.1 L2053.9,817.0 L2055.9,826.2 L2057.8,834.8 L2059.8,842.9 L2061.8,850.3 L2063.7,857.4 L2065.7,864.0 L2067.7,870.2 L2069.7,876.0 L2071.6,881.6 L2073.6,886.9 L2075.6,891.9 L2077.5,896.6 L2079.5,901.1 L2081.5,905.3 L2083.4,909.2 L2085.4,912.8 L2087.4,916.1 L2089.4,919.2 L2091.3,922.1 L2093.3,924.8 L2095.3,927.3 L2097.2,929.6 L2099.2,931.8 L2101.2,933.9 L2103.1,935.9 L2105.1,937.7 L2107.1,939.3 L2109.1,940.8 L2111.0,942.1 L2113.0,943.3 L2115.0,944.3 L2116.9,945.2 L2118.9,946.0 L2120.9,946.7 L2122.8,947.4 L2124.8,948.0 L2126.8,948.6 L2128.8,949.1 L2130.7,949.6 L2132.7,950.1 L2134.7,950.5 L2136.6,950.9 L2138.6,951.4 L2140.6,951.7 L2142.6,952.1 L2144.5,952.4 L2146.5,952.7 L2148.5,953.0 L2150.4,953.3 L2152.4,953.6 L2154.4,953.8 L2156.3,954.1 L2158.3,954.3 L2160.3,954.5 L2162.3,954.7 L2164.2,954.8 L2166.2,955.0 L2168.2,955.2 L2170.1,955.3 L2172.1,955.5 L2174.1,955.6 L2176.0,955.8 L2178.0,955.9 L2180.0,956.0 L2182.0,956.2 L2183.9,956.3 L2185.9,956.4 L2187.9,956.5 L2189.8,956.7 L2191.8,956.8 L2193.8,956.9 L2195.7,957.0 L2197.7,957.1 L2199.7,957.2 L2201.7,957.3 L2203.6,957.4 L2205.6,957.4 L2207.6,957.5 L2209.5,957.6 L2211.5,957.7 L2213.5,957.7 L2215.4,957.8 L2217.4,957.8 L2219.4,957.9 L2221.4,957.9 L2223.3,957.9 L2225.3,958.0 L2227.3,958.0 L2229.2,958.0 L2231.2,958.0 L2233.2,958.1 L2235.1,958.1 L2237.1,958.1 L2239.1,958.1 L2241.1,958.1 L2243.0,958.1 L2245.0,958.1 L2247.0,958.2 L2248.9,958.2 L2250.9,958.2 L2252.9,958.2 L2254.9,958.2 L2256.8,958.2 L2258.8,958.2 L2260.8,958.3 L2262.7,958.3 L2264.7,958.3 L2266.7,958.3 L2268.6,958.3 L2270.6,958.3 L2272.6,958.3 L2274.6,958.3 L2276.5,958.3 L2278.5,958.4 L2280.5,958.4 L2282.4,958.4 L2284.4,958.4 L2286.4,958.4 L2288.3,958.4 L2290.3,958.4 L2292.3,958.4 L2294.3,958.4 L2296.2,958.4 L2298.2,958.4 L2300.2,958.4 L2302.1,958.5 L2304.1,958.5 L2306.1,958.5 L2308.0,958.5 L2310.0,958.5 L2312.0,958.5 L2314.0,958.5 L2315.9,958.5 L2317.9,958.5 L2319.9,958.5 L2321.8,958.5 L2323.8,958.5 L2325.8,958.5 L2327.7,958.5 L2329.7,958.5 L2331.7,958.5 L2333.7,958.5 L2335.6,958.5 L2337.6,958.5" fill="none" stroke="#111111" stroke-width="2.2" stroke-linejoin="round"/>
</g>
<rect x="1352.5" y="49.5" width="985.0999999999999" height="936.0" fill="none" stroke="#111" stroke-width="3"/>
<line x1="1352.50" y1="985.50" x2="1352.50" y2="1002.50" stroke="#111" stroke-width="3" />
<line x1="1391.90" y1="985.50" x2="1391.90" y2="995.50" stroke="#111" stroke-width="3" />
<line x1="1431.31" y1="985.50" x2="1431.31" y2="995.50" stroke="#111" stroke-width="3" />
<line x1="1470.71" y1="985.50" x2="1470.71" y2="995.50" stroke="#111" stroke-width="3" />
<line x1="1510.12" y1="985.50" x2="1510.12" y2="995.50" stroke="#111" stroke-width="3" />
<line x1="1549.52" y1="985.50" x2="1549.52" y2="1002.50" stroke="#111" stroke-width="3" />
<line x1="1588.92" y1="985.50" x2="1588.92" y2="995.50" stroke="#111" stroke-width="3" />
<line x1="1628.33" y1="985.50" x2="1628.33" y2="995.50" stroke="#111" stroke-width="3" />
<line x1="1667.73" y1="985.50" x2="1667.73" y2="995.50" stroke="#111" stroke-width="3" />
<line x1="1707.14" y1="985.50" x2="1707.14" y2="995.50" stroke="#111" stroke-width="3" />
<line x1="1746.54" y1="985.50" x2="1746.54" y2="1002.50" stroke="#111" stroke-width="3" />
<line x1="1785.94" y1="985.50" x2="1785.94" y2="995.50" stroke="#111" stroke-width="3" />
<line x1="1825.35" y1="985.50" x2="1825.35" y2="995.50" stroke="#111" stroke-width="3" />
<line x1="1864.75" y1="985.50" x2="1864.75" y2="995.50" stroke="#111" stroke-width="3" />
<line x1="1904.16" y1="985.50" x2="1904.16" y2="995.50" stroke="#111" stroke-width="3" />
<line x1="1943.56" y1="985.50" x2="1943.56" y2="1002.50" stroke="#111" stroke-width="3" />
<line x1="1982.96" y1="985.50" x2="1982.96" y2="995.50" stroke="#111" stroke-width="3" />
<line x1="2022.37" y1="985.50" x2="2022.37" y2="995.50" stroke="#111" stroke-width="3" />
<line x1="2061.77" y1="985.50" x2="2061.77" y2="995.50" stroke="#111" stroke-width="3" />
<line x1="2101.18" y1="985.50" x2="2101.18" y2="995.50" stroke="#111" stroke-width="3" />
<line x1="2140.58" y1="985.50" x2="2140.58" y2="1002.50" stroke="#111" stroke-width="3" />
<line x1="2179.98" y1="985.50" x2="2179.98" y2="995.50" stroke="#111" stroke-width="3" />
<line x1="2219.39" y1="985.50" x2="2219.39" y2="995.50" stroke="#111" stroke-width="3" />
<line x1="2258.79" y1="985.50" x2="2258.79" y2="995.50" stroke="#111" stroke-width="3" />
<line x1="2298.20" y1="985.50" x2="2298.20" y2="995.50" stroke="#111" stroke-width="3" />
<line x1="2337.60" y1="985.50" x2="2337.60" y2="1002.50" stroke="#111" stroke-width="3" />
<text x="1319.50" y="1042.50" font-size="40" fill="#111" >400</text>
<text x="1516.52" y="1042.50" font-size="40" fill="#111" >450</text>
<text x="1713.14" y="1042.50" font-size="40" fill="#111" >500</text>
<text x="1910.16" y="1042.50" font-size="40" fill="#111" >550</text>
<text x="2106.98" y="1042.50" font-size="40" fill="#111" >600</text>
<text x="2304.00" y="1042.50" font-size="40" fill="#111" >650</text>
<text x="1659.00" y="1116.50" font-size="42" font-weight="bold" textLength="372.26" lengthAdjust="spacingAndGlyphs" fill="#111" >Wavelength (nm)</text>
<text transform="translate(1276.00,677.00) rotate(-90)" x="-1.19" y="0" font-size="47" font-weight="bold" textLength="376.09" lengthAdjust="spacingAndGlyphs" fill="#111">Absorbance (au)</text>
<text x="1192.45" y="96.80" font-size="91" font-weight="bold" textLength="53.10" lengthAdjust="spacingAndGlyphs" fill="#111" >b</text>
<text x="2068.16" y="105.70" font-size="38" textLength="198.58" lengthAdjust="spacingAndGlyphs" fill="#222" >Time (min)</text>
<line x1="2099.50" y1="154.10" x2="2188.10" y2="154.10" stroke="#111111" stroke-width="2.6" />
<text x="2198.40" y="165.60" font-size="40" fill="#111" >0</text>
<line x1="2099.50" y1="204.30" x2="2188.10" y2="204.30" stroke="#ee4455" stroke-width="2.6" />
<text x="2200.00" y="215.80" font-size="40" fill="#111" >10</text>
<line x1="2099.50" y1="254.50" x2="2188.10" y2="254.50" stroke="#3344dd" stroke-width="2.6" />
<text x="2201.00" y="266.00" font-size="40" fill="#111" >20</text>
<line x1="2099.50" y1="304.70" x2="2188.10" y2="304.70" stroke="#b050d0" stroke-width="2.6" />
<text x="2201.40" y="316.20" font-size="40" fill="#111" >30</text>
<line x1="2099.50" y1="354.90" x2="2188.10" y2="354.90" stroke="#2f9040" stroke-width="2.6" />
<text x="2202.20" y="366.40" font-size="40" fill="#111" >40</text>
<line x1="2099.50" y1="405.10" x2="2188.10" y2="405.10" stroke="#2c2c6a" stroke-width="2.6" />
<text x="2201.40" y="416.60" font-size="40" fill="#111" >50</text>
<line x1="2099.50" y1="455.30" x2="2188.10" y2="455.30" stroke="#8050e0" stroke-width="2.6" />
<text x="2201.00" y="466.80" font-size="40" fill="#111" >60</text>
<line x1="2099.50" y1="505.50" x2="2188.10" y2="505.50" stroke="#9a40a8" stroke-width="2.6" />
<text x="2201.00" y="517.00" font-size="40" fill="#111" >70</text>
<line x1="2099.50" y1="555.70" x2="2188.10" y2="555.70" stroke="#7a2c2c" stroke-width="2.6" />
<text x="2201.20" y="567.20" font-size="40" fill="#111" >90</text>
<line x1="2069.00" y1="151.40" x2="2069.00" y2="545.00" stroke="#111" stroke-width="2.2" />
<path d="M2064,540 L2074,540 L2069,559 Z" fill="#111"/>
<g clip-path="url(#cc)">
<path d="M184.30,1277.38 L290.58,1277.81 L396.86,1271.85 L503.13,1270.14 L609.41,1267.59 L715.69,1265.20 L821.97,1273.12 L928.24,1274.49 L1140.80,1274.66" fill="none" stroke="#111" stroke-width="2.2" stroke-linejoin="round"/>
<path d="M184.30,1277.38 L290.58,1451.15 L396.86,1599.37 L503.13,1688.81 L609.41,1726.29 L715.69,1750.14 L821.97,1757.81 L928.24,1773.14 L1140.80,1791.03" fill="none" stroke="#b83838" stroke-width="2" stroke-linejoin="round"/>
<path d="M184.30,1277.38 L290.58,1558.48 L396.86,1683.70 L503.13,1773.14 L609.41,1845.12 L715.69,1880.47 L821.97,1924.76 L928.24,1975.02 L1140.80,2044.02" fill="none" stroke="#28289c" stroke-width="2" stroke-linejoin="round"/>
<rect x="175.80" y="1268.88" width="17" height="17" fill="#000"/>
<rect x="282.08" y="1269.31" width="17" height="17" fill="#000"/>
<rect x="388.36" y="1263.35" width="17" height="17" fill="#000"/>
<rect x="494.63" y="1261.64" width="17" height="17" fill="#000"/>
<rect x="600.91" y="1259.09" width="17" height="17" fill="#000"/>
<rect x="707.19" y="1256.70" width="17" height="17" fill="#000"/>
<rect x="813.47" y="1264.62" width="17" height="17" fill="#000"/>
<rect x="919.74" y="1265.99" width="17" height="17" fill="#000"/>
<rect x="1132.30" y="1266.16" width="17" height="17" fill="#000"/>
<circle cx="184.30" cy="1277.38" r="9.5" fill="#ee1111"/>
<circle cx="290.58" cy="1451.15" r="9.5" fill="#ee1111"/>
<circle cx="396.86" cy="1599.37" r="9.5" fill="#ee1111"/>
<circle cx="503.13" cy="1688.81" r="9.5" fill="#ee1111"/>
<circle cx="609.41" cy="1726.29" r="9.5" fill="#ee1111"/>
<circle cx="715.69" cy="1750.14" r="9.5" fill="#ee1111"/>
<circle cx="821.97" cy="1757.81" r="9.5" fill="#ee1111"/>
<circle cx="928.24" cy="1773.14" r="9.5" fill="#ee1111"/>
<circle cx="1140.80" cy="1791.03" r="9.5" fill="#ee1111"/>
<path d="M184.30,1264.72 L195.30,1283.72 L173.30,1283.72 Z" fill="#0000dd"/>
<path d="M290.58,1545.82 L301.58,1564.82 L279.58,1564.82 Z" fill="#0000dd"/>
<path d="M396.86,1671.03 L407.86,1690.03 L385.86,1690.03 Z" fill="#0000dd"/>
<path d="M503.13,1760.47 L514.13,1779.47 L492.13,1779.47 Z" fill="#0000dd"/>
<path d="M609.41,1832.45 L620.41,1851.45 L598.41,1851.45 Z" fill="#0000dd"/>
<path d="M715.69,1867.80 L726.69,1886.80 L704.69,1886.80 Z" fill="#0000dd"/>
<path d="M821.97,1912.10 L832.97,1931.10 L810.97,1931.10 Z" fill="#0000dd"/>
<path d="M928.24,1962.35 L939.24,1981.35 L917.24,1981.35 Z" fill="#0000dd"/>
<path d="M1140.80,2031.35 L1151.80,2050.35 L1129.80,2050.35 Z" fill="#0000dd"/>
</g>
<rect x="184.3" y="1192.2" width="956.5" height="936.9999999999998" fill="none" stroke="#111" stroke-width="3"/>
<line x1="169.30" y1="2129.20" x2="184.30" y2="2129.20" stroke="#111" stroke-width="3" />
<line x1="176.30" y1="2095.13" x2="184.30" y2="2095.13" stroke="#111" stroke-width="3" />
<line x1="176.30" y1="2061.05" x2="184.30" y2="2061.05" stroke="#111" stroke-width="3" />
<line x1="176.30" y1="2026.98" x2="184.30" y2="2026.98" stroke="#111" stroke-width="3" />
<line x1="176.30" y1="1992.91" x2="184.30" y2="1992.91" stroke="#111" stroke-width="3" />
<line x1="169.30" y1="1958.84" x2="184.30" y2="1958.84" stroke="#111" stroke-width="3" />
<line x1="176.30" y1="1924.76" x2="184.30" y2="1924.76" stroke="#111" stroke-width="3" />
<line x1="176.30" y1="1890.69" x2="184.30" y2="1890.69" stroke="#111" stroke-width="3" />
<line x1="176.30" y1="1856.62" x2="184.30" y2="1856.62" stroke="#111" stroke-width="3" />
<line x1="176.30" y1="1822.55" x2="184.30" y2="1822.55" stroke="#111" stroke-width="3" />
<line x1="169.30" y1="1788.47" x2="184.30" y2="1788.47" stroke="#111" stroke-width="3" />
<line x1="176.30" y1="1754.40" x2="184.30" y2="1754.40" stroke="#111" stroke-width="3" />
<line x1="176.30" y1="1720.33" x2="184.30" y2="1720.33" stroke="#111" stroke-width="3" />
<line x1="176.30" y1="1686.25" x2="184.30" y2="1686.25" stroke="#111" stroke-width="3" />
<line x1="176.30" y1="1652.18" x2="184.30" y2="1652.18" stroke="#111" stroke-width="3" />
<line x1="169.30" y1="1618.11" x2="184.30" y2="1618.11" stroke="#111" stroke-width="3" />
<line x1="176.30" y1="1584.04" x2="184.30" y2="1584.04" stroke="#111" stroke-width="3" />
<line x1="176.30" y1="1549.96" x2="184.30" y2="1549.96" stroke="#111" stroke-width="3" />
<line x1="176.30" y1="1515.89" x2="184.30" y2="1515.89" stroke="#111" stroke-width="3" />
<line x1="176.30" y1="1481.82" x2="184.30" y2="1481.82" stroke="#111" stroke-width="3" />
<line x1="169.30" y1="1447.75" x2="184.30" y2="1447.75" stroke="#111" stroke-width="3" />
<line x1="176.30" y1="1413.67" x2="184.30" y2="1413.67" stroke="#111" stroke-width="3" />
<line x1="176.30" y1="1379.60" x2="184.30" y2="1379.60" stroke="#111" stroke-width="3" />
<line x1="176.30" y1="1345.53" x2="184.30" y2="1345.53" stroke="#111" stroke-width="3" />
<line x1="176.30" y1="1311.45" x2="184.30" y2="1311.45" stroke="#111" stroke-width="3" />
<line x1="169.30" y1="1277.38" x2="184.30" y2="1277.38" stroke="#111" stroke-width="3" />
<line x1="176.30" y1="1243.31" x2="184.30" y2="1243.31" stroke="#111" stroke-width="3" />
<line x1="176.30" y1="1209.24" x2="184.30" y2="1209.24" stroke="#111" stroke-width="3" />
<text x="102.42" y="2137.20" font-size="37" textLength="54.97" lengthAdjust="spacingAndGlyphs" fill="#111" >0.0</text>
<text x="102.40" y="1966.84" font-size="37" textLength="55.61" lengthAdjust="spacingAndGlyphs" fill="#111" >0.2</text>
<text x="102.42" y="1796.47" font-size="37" textLength="54.76" lengthAdjust="spacingAndGlyphs" fill="#111" >0.4</text>
<text x="102.41" y="1626.11" font-size="37" textLength="55.18" lengthAdjust="spacingAndGlyphs" fill="#111" >0.6</text>
<text x="102.41" y="1455.75" font-size="37" textLength="55.18" lengthAdjust="spacingAndGlyphs" fill="#111" >0.8</text>
<text x="100.95" y="1285.38" font-size="37" textLength="56.48" lengthAdjust="spacingAndGlyphs" fill="#111" >1.0</text>
<line x1="184.30" y1="2129.20" x2="184.30" y2="2143.20" stroke="#111" stroke-width="3" />
<line x1="226.81" y1="2129.20" x2="226.81" y2="2136.70" stroke="#111" stroke-width="3" />
<line x1="269.32" y1="2129.20" x2="269.32" y2="2136.70" stroke="#111" stroke-width="3" />
<line x1="311.83" y1="2129.20" x2="311.83" y2="2136.70" stroke="#111" stroke-width="3" />
<line x1="354.34" y1="2129.20" x2="354.34" y2="2136.70" stroke="#111" stroke-width="3" />
<line x1="396.86" y1="2129.20" x2="396.86" y2="2143.20" stroke="#111" stroke-width="3" />
<line x1="439.37" y1="2129.20" x2="439.37" y2="2136.70" stroke="#111" stroke-width="3" />
<line x1="481.88" y1="2129.20" x2="481.88" y2="2136.70" stroke="#111" stroke-width="3" />
<line x1="524.39" y1="2129.20" x2="524.39" y2="2136.70" stroke="#111" stroke-width="3" />
<line x1="566.90" y1="2129.20" x2="566.90" y2="2136.70" stroke="#111" stroke-width="3" />
<line x1="609.41" y1="2129.20" x2="609.41" y2="2143.20" stroke="#111" stroke-width="3" />
<line x1="651.92" y1="2129.20" x2="651.92" y2="2136.70" stroke="#111" stroke-width="3" />
<line x1="694.43" y1="2129.20" x2="694.43" y2="2136.70" stroke="#111" stroke-width="3" />
<line x1="736.94" y1="2129.20" x2="736.94" y2="2136.70" stroke="#111" stroke-width="3" />
<line x1="779.46" y1="2129.20" x2="779.46" y2="2136.70" stroke="#111" stroke-width="3" />
<line x1="821.97" y1="2129.20" x2="821.97" y2="2143.20" stroke="#111" stroke-width="3" />
<line x1="864.48" y1="2129.20" x2="864.48" y2="2136.70" stroke="#111" stroke-width="3" />
<line x1="906.99" y1="2129.20" x2="906.99" y2="2136.70" stroke="#111" stroke-width="3" />
<line x1="949.50" y1="2129.20" x2="949.50" y2="2136.70" stroke="#111" stroke-width="3" />
<line x1="992.01" y1="2129.20" x2="992.01" y2="2136.70" stroke="#111" stroke-width="3" />
<line x1="1034.52" y1="2129.20" x2="1034.52" y2="2143.20" stroke="#111" stroke-width="3" />
<line x1="1077.03" y1="2129.20" x2="1077.03" y2="2136.70" stroke="#111" stroke-width="3" />
<line x1="1119.54" y1="2129.20" x2="1119.54" y2="2136.70" stroke="#111" stroke-width="3" />
<text x="173.94" y="2182.50" font-size="37" fill="#111" >0</text>
<text x="376.04" y="2182.50" font-size="37" fill="#111" >20</text>
<text x="589.15" y="2182.50" font-size="37" fill="#111" >40</text>
<text x="801.15" y="2182.50" font-size="37" fill="#111" >60</text>
<text x="1013.80" y="2182.50" font-size="37" fill="#111" >80</text>
<text x="436.05" y="2258.40" font-size="45" font-weight="bold" textLength="451.84" lengthAdjust="spacingAndGlyphs" fill="#111" >Irradiation time (min)</text>
<text x="53.95" y="1213.00" font-size="82" font-weight="bold" textLength="46.56" lengthAdjust="spacingAndGlyphs" fill="#111" >c</text>
<text transform="translate(61.5,1745) rotate(-90)" font-size="48" font-weight="bold" fill="#111">C<tspan font-size="22" dy="17">t</tspan><tspan dy="-17">/C</tspan><tspan font-size="22" dy="17">o</tspan></text>
<line x1="228.00" y1="1892.40" x2="314.00" y2="1892.40" stroke="#111" stroke-width="2.2" />
<rect x="254.70" y="1876.40" width="32" height="32" fill="#000"/>
<line x1="228.00" y1="1942.00" x2="314.00" y2="1942.00" stroke="#d04040" stroke-width="2.2" />
<circle cx="270.80" cy="1942.00" r="17.0" fill="#ee0000"/>
<line x1="228.00" y1="2008.00" x2="314.00" y2="2008.00" stroke="#2a2ab0" stroke-width="2.2" />
<path d="M270.30,1982.67 L293.30,2020.67 L247.30,2020.67 Z" fill="#0000ee"/>
<text x="322.91" y="1905.00" font-size="40" textLength="134.97" lengthAdjust="spacingAndGlyphs" fill="#1a1a1a" >Control</text>
<text x="324.04" y="1954.50" font-size="40" textLength="209.83" lengthAdjust="spacingAndGlyphs" fill="#1a1a1a" >Porous TiO</text>
<text x="533.12" y="1970.40" font-size="19" textLength="15.40" lengthAdjust="spacingAndGlyphs" fill="#1a1a1a" >2</text>
<text x="324.04" y="2018.50" font-size="40" textLength="209.83" lengthAdjust="spacingAndGlyphs" fill="#1a1a1a" >Porous TiO</text>
<text x="533.66" y="2032.80" font-size="19" textLength="14.91" lengthAdjust="spacingAndGlyphs" fill="#1a1a1a" >2</text>
<text x="547.50" y="2018.50" font-size="40" textLength="93.87" lengthAdjust="spacingAndGlyphs" fill="#1a1a1a" >/CDs</text>
<g clip-path="url(#cd)">
<line x1="1351.80" y1="2043.63" x2="2282.31" y2="1265.11" stroke="#4848b0" stroke-width="2.2" />
<line x1="1351.80" y1="2043.63" x2="2282.31" y2="1630.97" stroke="#e06868" stroke-width="2.2" />
<line x1="1351.80" y1="2043.63" x2="2282.31" y2="2044.65" stroke="#555" stroke-width="2.2" />
<rect x="1342.80" y="2034.63" width="18" height="18" fill="#000"/>
<rect x="1446.19" y="2034.46" width="18" height="18" fill="#000"/>
<rect x="1549.58" y="2036.83" width="18" height="18" fill="#000"/>
<rect x="1652.97" y="2037.50" width="18" height="18" fill="#000"/>
<rect x="1756.36" y="2038.51" width="18" height="18" fill="#000"/>
<rect x="1859.75" y="2039.45" width="18" height="18" fill="#000"/>
<rect x="1963.14" y="2036.32" width="18" height="18" fill="#000"/>
<rect x="2066.53" y="2035.78" width="18" height="18" fill="#000"/>
<rect x="2273.31" y="2035.71" width="18" height="18" fill="#000"/>
<circle cx="1351.80" cy="2043.63" r="9.75" fill="#000"/>
<circle cx="1455.19" cy="1966.08" r="9.75" fill="#000"/>
<circle cx="1558.58" cy="1882.24" r="9.75" fill="#000"/>
<circle cx="1661.97" cy="1819.40" r="9.75" fill="#000"/>
<circle cx="1765.36" cy="1789.16" r="9.75" fill="#000"/>
<circle cx="1868.75" cy="1768.42" r="9.75" fill="#000"/>
<circle cx="1972.14" cy="1761.48" r="9.75" fill="#000"/>
<circle cx="2075.53" cy="1747.15" r="9.75" fill="#000"/>
<circle cx="2282.31" cy="1729.63" r="9.75" fill="#000"/>
<path d="M1351.80,2030.29 L1363.55,2050.29 L1340.05,2050.29 Z" fill="#000"/>
<path d="M1455.19,1894.18 L1466.94,1914.18 L1443.44,1914.18 Z" fill="#000"/>
<path d="M1558.58,1809.99 L1570.33,1829.99 L1546.83,1829.99 Z" fill="#000"/>
<path d="M1661.97,1733.82 L1673.72,1753.82 L1650.22,1753.82 Z" fill="#000"/>
<path d="M1765.36,1657.06 L1777.11,1677.06 L1753.61,1677.06 Z" fill="#000"/>
<path d="M1868.75,1611.89 L1880.50,1631.89 L1857.00,1631.89 Z" fill="#000"/>
<path d="M1972.14,1545.23 L1983.89,1565.23 L1960.39,1565.23 Z" fill="#000"/>
<path d="M2075.53,1449.33 L2087.28,1469.33 L2063.78,1469.33 Z" fill="#000"/>
<path d="M2282.31,1247.67 L2294.06,1267.67 L2270.56,1267.67 Z" fill="#000"/>
</g>
<rect x="1351.8" y="1193.9" width="982.2" height="934.6999999999998" fill="none" stroke="#111" stroke-width="3"/>
<line x1="1340.30" y1="2111.61" x2="1351.80" y2="2111.61" stroke="#111" stroke-width="3" />
<line x1="1340.30" y1="2077.62" x2="1351.80" y2="2077.62" stroke="#111" stroke-width="3" />
<line x1="1334.80" y1="2043.63" x2="1351.80" y2="2043.63" stroke="#111" stroke-width="3" />
<line x1="1340.30" y1="2009.64" x2="1351.80" y2="2009.64" stroke="#111" stroke-width="3" />
<line x1="1340.30" y1="1975.65" x2="1351.80" y2="1975.65" stroke="#111" stroke-width="3" />
<line x1="1340.30" y1="1941.66" x2="1351.80" y2="1941.66" stroke="#111" stroke-width="3" />
<line x1="1340.30" y1="1907.67" x2="1351.80" y2="1907.67" stroke="#111" stroke-width="3" />
<line x1="1334.80" y1="1873.68" x2="1351.80" y2="1873.68" stroke="#111" stroke-width="3" />
<line x1="1340.30" y1="1839.69" x2="1351.80" y2="1839.69" stroke="#111" stroke-width="3" />
<line x1="1340.30" y1="1805.70" x2="1351.80" y2="1805.70" stroke="#111" stroke-width="3" />
<line x1="1340.30" y1="1771.71" x2="1351.80" y2="1771.71" stroke="#111" stroke-width="3" />
<line x1="1340.30" y1="1737.73" x2="1351.80" y2="1737.73" stroke="#111" stroke-width="3" />
<line x1="1334.80" y1="1703.74" x2="1351.80" y2="1703.74" stroke="#111" stroke-width="3" />
<line x1="1340.30" y1="1669.75" x2="1351.80" y2="1669.75" stroke="#111" stroke-width="3" />
<line x1="1340.30" y1="1635.76" x2="1351.80" y2="1635.76" stroke="#111" stroke-width="3" />
<line x1="1340.30" y1="1601.77" x2="1351.80" y2="1601.77" stroke="#111" stroke-width="3" />
<line x1="1340.30" y1="1567.78" x2="1351.80" y2="1567.78" stroke="#111" stroke-width="3" />
<line x1="1334.80" y1="1533.79" x2="1351.80" y2="1533.79" stroke="#111" stroke-width="3" />
<line x1="1340.30" y1="1499.80" x2="1351.80" y2="1499.80" stroke="#111" stroke-width="3" />
<line x1="1340.30" y1="1465.81" x2="1351.80" y2="1465.81" stroke="#111" stroke-width="3" />
<line x1="1340.30" y1="1431.82" x2="1351.80" y2="1431.82" stroke="#111" stroke-width="3" />
<line x1="1340.30" y1="1397.83" x2="1351.80" y2="1397.83" stroke="#111" stroke-width="3" />
<line x1="1334.80" y1="1363.85" x2="1351.80" y2="1363.85" stroke="#111" stroke-width="3" />
<line x1="1340.30" y1="1329.86" x2="1351.80" y2="1329.86" stroke="#111" stroke-width="3" />
<line x1="1340.30" y1="1295.87" x2="1351.80" y2="1295.87" stroke="#111" stroke-width="3" />
<line x1="1340.30" y1="1261.88" x2="1351.80" y2="1261.88" stroke="#111" stroke-width="3" />
<line x1="1340.30" y1="1227.89" x2="1351.80" y2="1227.89" stroke="#111" stroke-width="3" />
<line x1="1334.80" y1="1193.90" x2="1351.80" y2="1193.90" stroke="#111" stroke-width="3" />
<line x1="1334.80" y1="1193.90" x2="1351.80" y2="1193.90" stroke="#111" stroke-width="3" />
<text x="1267.33" y="2051.63" font-size="38" textLength="58.14" lengthAdjust="spacingAndGlyphs" fill="#111" >0.0</text>
<text x="1267.32" y="1881.68" font-size="38" textLength="58.37" lengthAdjust="spacingAndGlyphs" fill="#111" >0.5</text>
<text x="1265.78" y="1711.74" font-size="38" textLength="59.73" lengthAdjust="spacingAndGlyphs" fill="#111" >1.0</text>
<text x="1265.76" y="1541.79" font-size="38" textLength="59.97" lengthAdjust="spacingAndGlyphs" fill="#111" >1.5</text>
<text x="1266.89" y="1371.85" font-size="38" textLength="58.59" lengthAdjust="spacingAndGlyphs" fill="#111" >2.0</text>
<text x="1272.28" y="1201.90" font-size="38" textLength="58.81" lengthAdjust="spacingAndGlyphs" fill="#111" >2.5</text>
<line x1="1351.80" y1="2128.60" x2="1351.80" y2="2142.60" stroke="#111" stroke-width="3" />
<line x1="1393.16" y1="2128.60" x2="1393.16" y2="2136.10" stroke="#111" stroke-width="3" />
<line x1="1434.51" y1="2128.60" x2="1434.51" y2="2136.10" stroke="#111" stroke-width="3" />
<line x1="1475.87" y1="2128.60" x2="1475.87" y2="2136.10" stroke="#111" stroke-width="3" />
<line x1="1517.22" y1="2128.60" x2="1517.22" y2="2136.10" stroke="#111" stroke-width="3" />
<line x1="1558.58" y1="2128.60" x2="1558.58" y2="2142.60" stroke="#111" stroke-width="3" />
<line x1="1599.93" y1="2128.60" x2="1599.93" y2="2136.10" stroke="#111" stroke-width="3" />
<line x1="1641.29" y1="2128.60" x2="1641.29" y2="2136.10" stroke="#111" stroke-width="3" />
<line x1="1682.65" y1="2128.60" x2="1682.65" y2="2136.10" stroke="#111" stroke-width="3" />
<line x1="1724.00" y1="2128.60" x2="1724.00" y2="2136.10" stroke="#111" stroke-width="3" />
<line x1="1765.36" y1="2128.60" x2="1765.36" y2="2142.60" stroke="#111" stroke-width="3" />
<line x1="1806.71" y1="2128.60" x2="1806.71" y2="2136.10" stroke="#111" stroke-width="3" />
<line x1="1848.07" y1="2128.60" x2="1848.07" y2="2136.10" stroke="#111" stroke-width="3" />
<line x1="1889.43" y1="2128.60" x2="1889.43" y2="2136.10" stroke="#111" stroke-width="3" />
<line x1="1930.78" y1="2128.60" x2="1930.78" y2="2136.10" stroke="#111" stroke-width="3" />
<line x1="1972.14" y1="2128.60" x2="1972.14" y2="2142.60" stroke="#111" stroke-width="3" />
<line x1="2013.49" y1="2128.60" x2="2013.49" y2="2136.10" stroke="#111" stroke-width="3" />
<line x1="2054.85" y1="2128.60" x2="2054.85" y2="2136.10" stroke="#111" stroke-width="3" />
<line x1="2096.20" y1="2128.60" x2="2096.20" y2="2136.10" stroke="#111" stroke-width="3" />
<line x1="2137.56" y1="2128.60" x2="2137.56" y2="2136.10" stroke="#111" stroke-width="3" />
<line x1="2178.92" y1="2128.60" x2="2178.92" y2="2142.60" stroke="#111" stroke-width="3" />
<line x1="2220.27" y1="2128.60" x2="2220.27" y2="2136.10" stroke="#111" stroke-width="3" />
<line x1="2261.63" y1="2128.60" x2="2261.63" y2="2136.10" stroke="#111" stroke-width="3" />
<line x1="2302.98" y1="2128.60" x2="2302.98" y2="2136.10" stroke="#111" stroke-width="3" />
<text x="1341.16" y="2182.50" font-size="38" fill="#111" >0</text>
<text x="1537.20" y="2182.50" font-size="38" fill="#111" >20</text>
<text x="1744.55" y="2182.50" font-size="38" fill="#111" >40</text>
<text x="1950.76" y="2182.50" font-size="38" fill="#111" >60</text>
<text x="2157.64" y="2182.50" font-size="38" fill="#111" >80</text>
<text x="1607.36" y="2257.10" font-size="45" font-weight="bold" textLength="464.39" lengthAdjust="spacingAndGlyphs" fill="#111" >Irradiation time (min)</text>
<text x="1190.19" y="1215.00" font-size="80" font-weight="bold" textLength="52.13" lengthAdjust="spacingAndGlyphs" fill="#111" >d</text>
<text transform="translate(1228.6,1784.6) rotate(-90)" font-size="47" font-weight="bold" fill="#111">ln (C<tspan font-size="25" dy="19">o</tspan><tspan dy="-19">/C</tspan><tspan font-size="25" dy="19">t</tspan><tspan dy="-19">)</tspan></text>
<rect x="1507.50" y="1210.30" width="34" height="34" fill="#000"/>
<circle cx="1525.00" cy="1277.90" r="17.5" fill="#000"/>
<path d="M1525,1318.1 L1548.6,1355.4 L1501.4,1355.4 Z" fill="#000"/>
<text x="1567.86" y="1239.70" font-size="40" textLength="137.88" lengthAdjust="spacingAndGlyphs" fill="#1a1a1a" >Control</text>
<text x="1566.54" y="1289.30" font-size="40" textLength="216.09" lengthAdjust="spacingAndGlyphs" fill="#1a1a1a" >Porous TiO</text>
<text x="1783.04" y="1306.00" font-size="18" textLength="14.06" lengthAdjust="spacingAndGlyphs" fill="#1a1a1a" >2</text>
<text x="1566.54" y="1354.30" font-size="40" textLength="216.09" lengthAdjust="spacingAndGlyphs" fill="#1a1a1a" >Porous TiO</text>
<text x="1782.48" y="1370.30" font-size="18" textLength="14.67" lengthAdjust="spacingAndGlyphs" fill="#1a1a1a" >2</text>
<text x="1797.60" y="1354.30" font-size="40" textLength="92.96" lengthAdjust="spacingAndGlyphs" fill="#1a1a1a" >/CDs</text>
<text x="1478.00" y="1531.20" font-size="44" textLength="76.21" lengthAdjust="spacingAndGlyphs" fill="#111" >ln(C</text>
<text x="1556.98" y="1538.90" font-size="31" textLength="14.14" lengthAdjust="spacingAndGlyphs" fill="#111" >0</text>
<text x="1573.30" y="1531.20" font-size="44" textLength="47.56" lengthAdjust="spacingAndGlyphs" fill="#111" >/C</text>
<text x="1619.41" y="1538.90" font-size="31" textLength="10.89" lengthAdjust="spacingAndGlyphs" fill="#111" >t</text>
<text x="1632.81" y="1531.20" font-size="44" textLength="12.57" lengthAdjust="spacingAndGlyphs" fill="#111" >)</text>
<text x="1659.78" y="1531.20" font-size="44" textLength="25.89" lengthAdjust="spacingAndGlyphs" fill="#111" >=</text>
<text x="1700.23" y="1531.20" font-size="44" textLength="37.95" lengthAdjust="spacingAndGlyphs" fill="#111" >kt</text>
</svg>
</body></html>
